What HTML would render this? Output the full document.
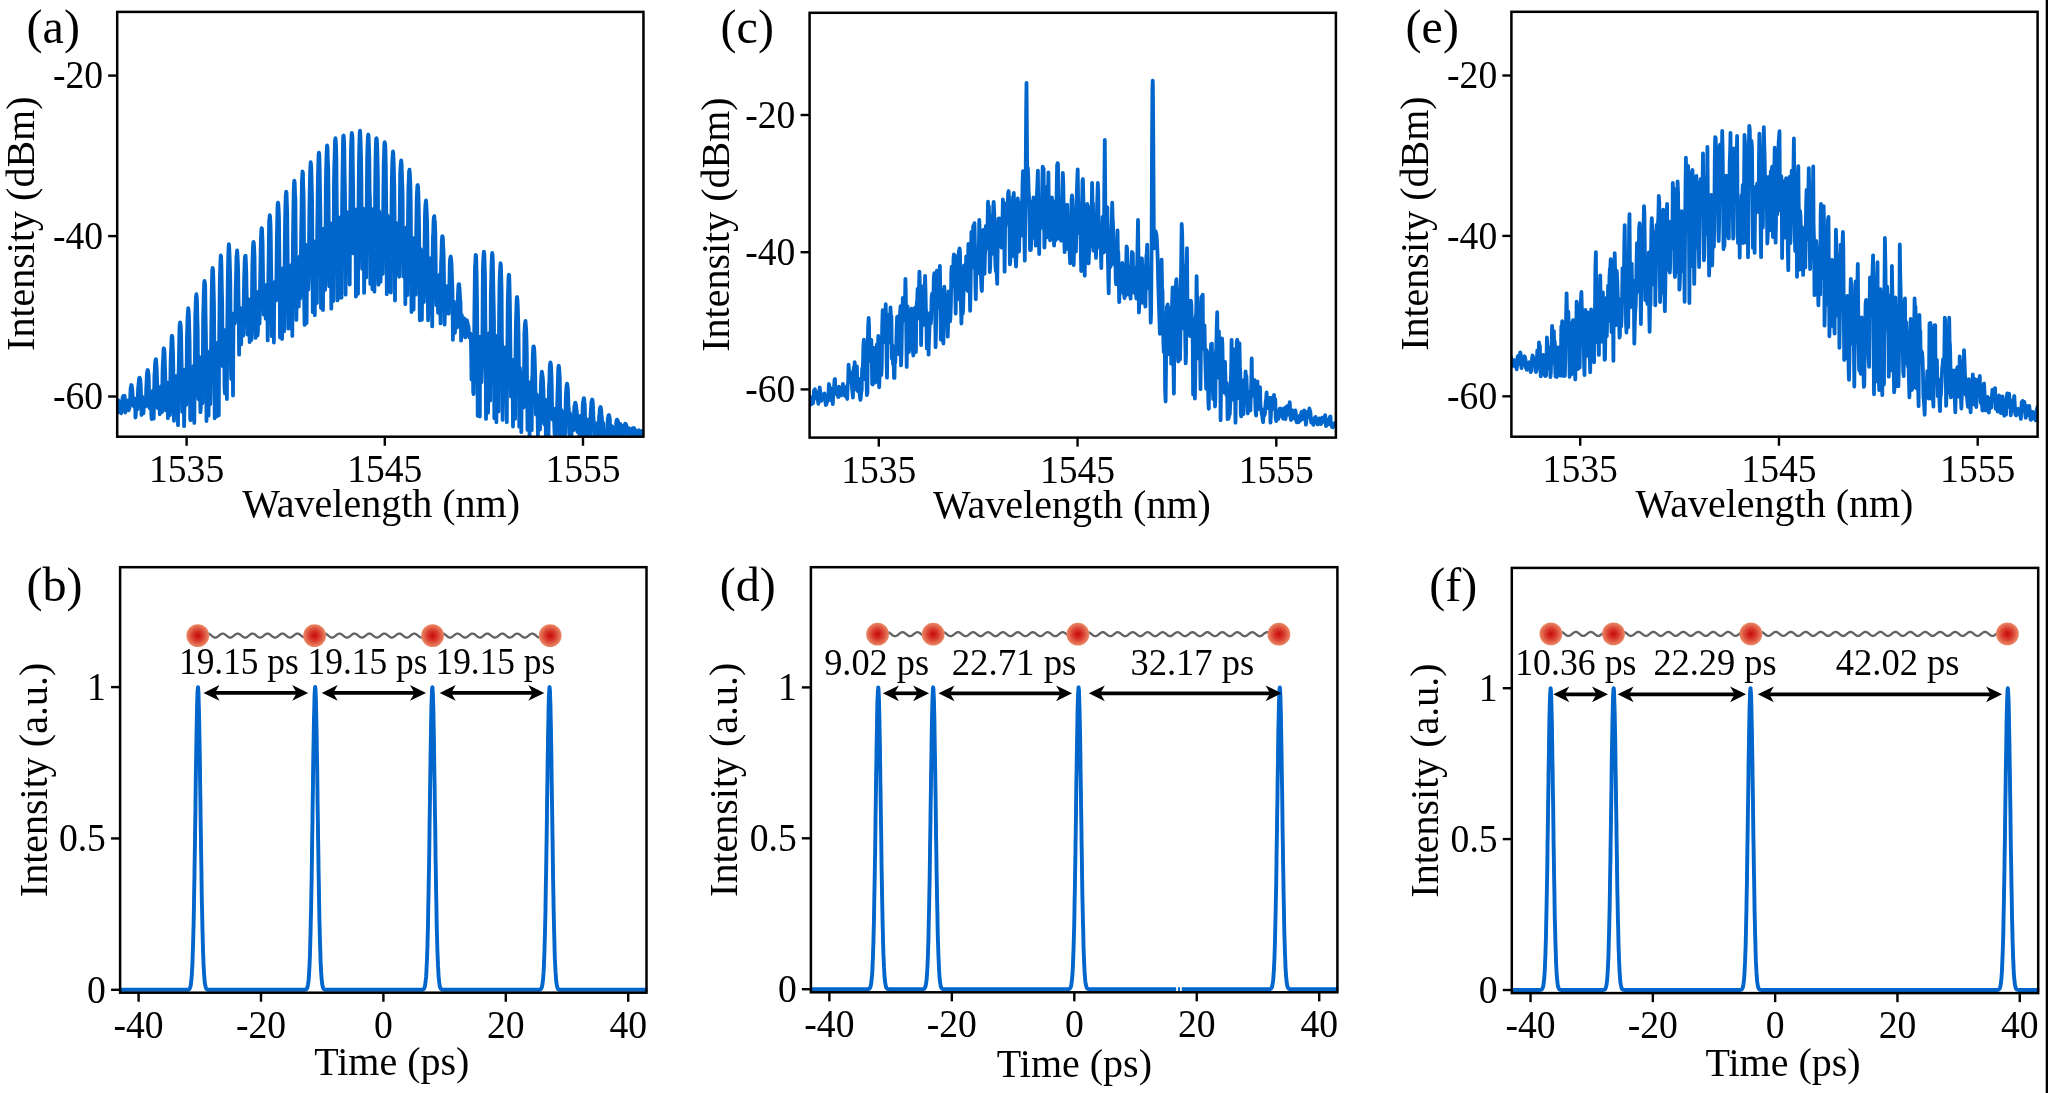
<!DOCTYPE html>
<html><head><meta charset="utf-8"><style>html,body{margin:0;padding:0;background:#fff;width:2048px;height:1093px;overflow:hidden}</style></head>
<body><svg width="2048" height="1093" viewBox="0 0 2048 1093" style="font-family:'Liberation Serif', serif;display:block;will-change:transform"><defs><radialGradient id="dotg" cx="0.5" cy="0.5" r="0.5"><stop offset="0" stop-color="#c40a0a"/><stop offset="0.45" stop-color="#d83a2a"/><stop offset="1" stop-color="#ea8a68"/></radialGradient></defs>
<clipPath id="clipa"><rect x="117.2" y="11.9" width="526.25" height="424.8"/></clipPath>
<path d="M107.1 406.9 107.4 406.8 107.8 406.6 108.1 406.3 108.4 406.7 108.8 407.2 109.1 405.4 109.4 401.8 109.8 405.0 110.1 399.9 110.5 403.4 110.8 404.9 111.1 412.3 111.5 409.6 111.8 408.7 112.1 399.3 112.5 400.7 112.8 400.2 113.1 403.3 113.5 401.5 113.8 405.6 114.2 405.3 114.5 405.4 114.8 405.5 115.2 405.4 115.5 405.2 115.8 405.0 116.2 404.8 116.5 401.2 116.9 401.2 117.2 412.7 117.5 405.6 117.9 405.8 118.2 402.9 118.5 400.4 118.9 403.8 119.2 412.0 119.6 405.9 119.9 404.5 120.2 410.6 120.6 409.2 120.9 408.8 121.2 413.4 121.6 408.3 121.9 401.2 122.3 400.4 122.6 397.8 122.9 396.8 123.3 396.1 123.6 396.3 123.9 396.7 124.3 397.2 124.6 395.8 125.0 409.9 125.3 412.5 125.6 404.7 126.0 403.3 126.3 400.7 126.6 407.9 127.0 400.3 127.3 405.8 127.7 404.3 128.0 405.2 128.3 409.4 128.7 410.3 129.0 403.8 129.3 408.8 129.7 404.5 130.0 402.2 130.4 392.8 130.7 387.9 131.0 386.7 131.4 385.0 131.7 385.3 132.0 387.9 132.4 391.1 132.7 397.1 133.1 400.8 133.4 406.2 133.7 404.5 134.1 399.2 134.4 398.2 134.8 407.3 135.1 399.4 135.4 417.5 135.8 415.5 136.1 403.1 136.4 404.5 136.8 403.6 137.1 407.4 137.5 409.3 137.8 397.4 138.1 388.7 138.5 384.7 138.8 381.4 139.1 378.5 139.5 377.7 139.8 378.2 140.2 379.1 140.5 382.0 140.8 387.7 141.2 398.0 141.5 415.0 141.8 405.4 142.2 400.8 142.5 402.5 142.9 397.1 143.2 404.5 143.5 413.4 143.9 400.8 144.2 399.8 144.6 404.0 144.9 400.8 145.2 404.4 145.6 406.3 145.9 405.4 146.2 389.1 146.6 381.7 146.9 373.8 147.3 371.3 147.6 370.0 147.9 370.2 148.3 372.9 148.6 375.2 148.9 383.4 149.3 407.2 149.6 408.2 150.0 401.3 150.3 405.0 150.6 397.1 151.0 394.9 151.3 414.8 151.7 419.1 152.0 412.7 152.3 401.0 152.7 391.0 153.0 401.4 153.3 397.9 153.7 418.7 154.0 402.9 154.4 375.8 154.7 372.8 155.0 364.8 155.4 361.2 155.7 359.2 156.0 359.2 156.4 364.8 156.7 369.2 157.1 380.9 157.4 392.0 157.7 408.0 158.1 406.9 158.4 395.6 158.8 390.7 159.1 397.0 159.4 395.5 159.8 414.3 160.1 405.8 160.4 391.4 160.8 388.3 161.1 386.1 161.5 408.3 161.8 407.7 162.1 412.1 162.5 373.0 162.8 364.5 163.2 357.6 163.5 349.6 163.8 348.3 164.2 349.2 164.5 352.1 164.8 361.9 165.2 372.4 165.5 390.2 165.9 410.4 166.2 401.6 166.5 386.0 166.9 382.5 167.2 387.6 167.6 401.2 167.9 418.2 168.2 392.1 168.6 388.0 168.9 387.9 169.2 382.4 169.6 403.8 169.9 415.0 170.3 382.8 170.6 362.5 170.9 354.4 171.3 345.8 171.6 337.2 172.0 335.8 172.3 336.7 172.6 342.2 173.0 352.2 173.3 367.2 173.6 405.9 174.0 420.8 174.3 390.5 174.7 381.2 175.0 376.0 175.3 386.7 175.7 414.5 176.0 406.9 176.4 398.0 176.7 396.5 177.0 379.3 177.4 382.8 177.7 379.3 178.0 425.2 178.4 375.5 178.7 370.6 179.1 348.6 179.4 330.2 179.7 324.6 180.1 322.3 180.4 323.5 180.8 327.0 181.1 334.0 181.4 352.5 181.8 374.1 182.1 411.8 182.5 384.4 182.8 382.1 183.1 369.7 183.5 379.3 183.8 403.2 184.1 426.2 184.5 405.3 184.8 376.3 185.2 369.4 185.5 371.9 185.8 393.4 186.2 405.0 186.5 393.6 186.9 338.9 187.2 330.2 187.5 317.8 187.9 312.5 188.2 308.2 188.6 310.5 188.9 315.4 189.2 327.3 189.6 342.2 189.9 377.7 190.2 418.8 190.6 420.2 190.9 366.8 191.3 369.0 191.6 371.1 191.9 374.6 192.3 415.7 192.6 386.2 193.0 382.7 193.3 372.7 193.6 365.9 194.0 370.0 194.3 422.9 194.7 375.3 195.0 346.4 195.3 315.3 195.7 303.5 196.0 296.7 196.4 294.2 196.7 296.4 197.0 301.0 197.4 320.3 197.7 329.3 198.0 373.6 198.4 398.5 198.7 399.3 199.1 356.6 199.4 358.8 199.7 371.3 200.1 393.6 200.4 412.2 200.8 407.9 201.1 364.6 201.4 360.5 201.8 357.5 202.1 376.3 202.5 403.2 202.8 372.9 203.1 319.2 203.5 305.4 203.8 292.2 204.2 282.4 204.5 280.9 204.8 282.3 205.2 286.0 205.5 311.5 205.9 333.5 206.2 362.3 206.5 421.1 206.9 377.9 207.2 356.1 207.5 357.3 207.9 359.4 208.2 381.0 208.6 415.7 208.9 371.7 209.2 367.1 209.6 352.9 209.9 351.0 210.3 404.0 210.6 390.9 210.9 358.0 211.3 326.7 211.6 300.7 212.0 279.9 212.3 269.8 212.6 267.8 213.0 269.5 213.3 277.0 213.7 292.7 214.0 305.7 214.3 345.8 214.7 418.3 215.0 353.9 215.4 351.0 215.7 346.7 216.0 363.6 216.4 377.0 216.7 416.4 217.1 357.8 217.4 354.7 217.7 342.7 218.1 347.0 218.4 391.1 218.8 415.3 219.1 347.2 219.4 319.7 219.8 281.5 220.1 271.0 220.5 260.1 220.8 255.5 221.1 256.4 221.5 268.4 221.8 287.6 222.2 304.1 222.5 355.7 222.8 366.3 223.2 357.3 223.5 332.1 223.8 334.6 224.2 344.3 224.5 386.1 224.9 393.5 225.2 371.5 225.5 335.7 225.9 329.7 226.2 333.3 226.6 337.9 226.9 399.1 227.2 332.8 227.6 298.6 227.9 270.8 228.3 254.4 228.6 246.8 228.9 244.1 229.3 249.5 229.6 256.3 230.0 269.4 230.3 281.7 230.6 335.3 231.0 371.7 231.3 379.3 231.7 323.3 232.0 313.3 232.3 322.4 232.7 337.8 233.0 395.5 233.4 327.4 233.7 319.0 234.0 315.8 234.4 318.9 234.7 323.7 235.1 321.5 235.4 311.9 235.7 289.0 236.1 274.1 236.4 257.9 236.8 253.3 237.1 250.4 237.4 253.6 237.8 261.4 238.1 268.8 238.5 297.0 238.8 319.2 239.1 354.7 239.5 322.3 239.8 307.8 240.2 307.9 240.5 321.6 240.8 333.8 241.2 344.4 241.5 318.5 241.9 319.2 242.2 314.6 242.5 309.5 242.9 325.1 243.2 335.7 243.6 312.1 243.9 290.8 244.2 276.8 244.6 264.7 244.9 257.1 245.3 255.8 245.6 255.7 246.0 264.5 246.3 273.3 246.6 290.8 247.0 305.7 247.3 334.6 247.7 322.4 248.0 305.9 248.3 299.1 248.7 315.4 249.0 313.4 249.4 328.8 249.7 342.1 250.0 313.1 250.4 302.7 250.7 302.0 251.1 313.8 251.4 339.9 251.7 325.0 252.1 287.6 252.4 264.5 252.8 251.2 253.1 245.0 253.4 241.9 253.8 243.0 254.1 247.0 254.5 255.8 254.8 279.9 255.1 305.4 255.5 337.9 255.8 316.7 256.2 297.7 256.5 293.8 256.8 305.2 257.2 320.8 257.5 335.5 257.9 332.1 258.2 297.1 258.5 291.7 258.9 302.9 259.2 324.2 259.6 323.1 259.9 295.2 260.2 278.5 260.6 256.0 260.9 238.5 261.3 230.7 261.6 228.1 262.0 228.9 262.3 236.2 262.6 242.5 263.0 275.1 263.3 299.2 263.7 314.7 264.0 307.5 264.3 296.8 264.7 290.8 265.0 297.6 265.4 306.0 265.7 318.6 266.0 311.2 266.4 305.5 266.7 284.7 267.1 295.9 267.4 309.9 267.7 340.4 268.1 302.1 268.4 274.1 268.8 248.6 269.1 222.0 269.4 218.4 269.8 215.1 270.1 216.9 270.5 224.4 270.8 237.5 271.2 273.8 271.5 286.8 271.8 336.2 272.2 295.0 272.5 287.6 272.9 282.7 273.2 291.3 273.5 297.2 273.9 342.5 274.2 301.3 274.6 286.7 274.9 288.2 275.2 281.7 275.6 291.8 275.9 300.7 276.3 288.0 276.6 260.3 276.9 236.2 277.3 216.8 277.6 204.2 278.0 202.7 278.3 204.2 278.7 210.1 279.0 218.8 279.3 250.1 279.7 288.8 280.0 337.6 280.4 291.5 280.7 275.3 281.0 275.6 281.4 279.4 281.7 331.8 282.1 339.1 282.4 304.3 282.7 285.4 283.1 268.2 283.4 277.8 283.8 292.7 284.1 331.4 284.4 302.5 284.8 245.3 285.1 219.4 285.5 202.7 285.8 194.9 286.2 191.6 286.5 192.7 286.8 201.0 287.2 213.9 287.5 245.2 287.9 277.9 288.2 328.7 288.5 292.4 288.9 268.9 289.2 268.6 289.6 270.5 289.9 293.8 290.2 328.1 290.6 310.2 290.9 268.5 291.3 267.6 291.6 264.8 292.0 280.8 292.3 335.9 292.6 284.8 293.0 236.7 293.3 215.1 293.7 192.1 294.0 183.5 294.3 180.6 294.7 182.3 295.0 192.8 295.4 199.2 295.7 238.9 296.1 279.5 296.4 319.9 296.7 290.3 297.1 270.5 297.4 263.2 297.8 263.7 298.1 278.0 298.4 299.4 298.8 306.7 299.1 260.6 299.5 261.3 299.8 256.1 300.1 298.7 300.5 296.1 300.8 262.2 301.2 230.3 301.5 213.7 301.9 182.3 302.2 176.7 302.5 171.4 302.9 172.8 303.2 185.7 303.6 195.4 303.9 223.6 304.2 302.6 304.6 324.9 304.9 266.8 305.3 253.5 305.6 244.7 306.0 248.7 306.3 270.3 306.6 323.0 307.0 268.3 307.3 249.8 307.7 252.9 308.0 244.8 308.3 289.7 308.7 279.4 309.0 245.4 309.4 208.3 309.7 191.7 310.1 173.0 310.4 166.5 310.7 162.2 311.1 165.0 311.4 172.3 311.8 189.3 312.1 201.2 312.4 252.2 312.8 312.2 313.1 290.3 313.5 254.6 313.8 241.1 314.2 242.8 314.5 290.6 314.8 315.2 315.2 276.1 315.5 247.4 315.9 246.0 316.2 244.2 316.5 269.1 316.9 303.0 317.2 231.5 317.6 203.7 317.9 179.3 318.3 163.8 318.6 154.6 318.9 152.6 319.3 154.9 319.6 166.0 320.0 189.3 320.3 207.2 320.7 247.1 321.0 308.1 321.3 252.8 321.7 235.1 322.0 234.3 322.4 240.1 322.7 280.6 323.0 310.1 323.4 265.1 323.7 237.0 324.1 228.3 324.4 235.1 324.8 273.9 325.1 290.0 325.4 278.9 325.8 187.1 326.1 170.8 326.5 155.8 326.8 149.0 327.1 145.4 327.5 147.4 327.8 159.3 328.2 167.1 328.5 191.7 328.9 239.3 329.2 286.3 329.5 256.8 329.9 230.0 330.2 223.1 330.6 232.2 330.9 244.5 331.3 308.7 331.6 276.4 331.9 230.8 332.3 227.5 332.6 227.3 333.0 255.9 333.3 301.0 333.7 238.0 334.0 180.6 334.3 166.2 334.7 152.8 335.0 140.9 335.4 138.2 335.7 139.7 336.0 145.0 336.4 158.2 336.7 199.2 337.1 221.1 337.4 300.4 337.8 240.4 338.1 220.2 338.4 217.2 338.8 229.0 339.1 237.2 339.5 297.8 339.8 265.4 340.2 225.7 340.5 223.1 340.8 218.8 341.2 235.4 341.5 297.7 341.9 225.6 342.2 197.2 342.6 167.5 342.9 147.9 343.2 136.0 343.6 135.6 343.9 137.9 344.3 148.4 344.6 172.5 344.9 188.1 345.3 228.5 345.6 294.7 346.0 243.3 346.3 221.5 346.7 219.7 347.0 236.6 347.3 257.1 347.7 260.4 348.0 243.0 348.4 223.4 348.7 212.0 349.1 218.5 349.4 251.4 349.7 284.6 350.1 218.8 350.4 198.7 350.8 157.8 351.1 146.2 351.5 136.0 351.8 132.9 352.1 134.9 352.5 138.2 352.8 164.8 353.2 191.9 353.5 253.4 353.9 245.6 354.2 246.6 354.5 217.1 354.9 209.1 355.2 224.1 355.6 233.8 355.9 296.7 356.3 290.7 356.6 223.8 356.9 214.9 357.3 218.4 357.6 247.3 358.0 293.8 358.3 234.4 358.7 188.0 359.0 159.6 359.3 146.5 359.7 132.9 360.0 130.7 360.4 136.2 360.7 145.4 361.1 160.1 361.4 181.9 361.7 241.7 362.1 268.8 362.4 254.8 362.8 221.4 363.1 208.3 363.5 212.9 363.8 233.1 364.1 292.9 364.5 267.0 364.8 214.8 365.2 214.6 365.5 212.2 365.9 245.0 366.2 277.4 366.5 231.1 366.9 187.0 367.2 155.2 367.6 143.8 367.9 136.4 368.3 134.5 368.6 136.1 368.9 145.3 369.3 157.7 369.6 191.3 370.0 200.6 370.3 283.9 370.7 257.4 371.0 218.2 371.3 217.8 371.7 220.1 372.0 236.1 372.4 289.2 372.7 250.7 373.1 228.3 373.4 208.9 373.7 213.1 374.1 222.6 374.4 291.7 374.8 267.8 375.1 192.8 375.5 160.9 375.8 147.4 376.1 138.9 376.5 138.2 376.8 139.3 377.2 147.0 377.5 159.5 377.9 178.9 378.2 244.8 378.5 284.7 378.9 246.9 379.2 211.1 379.6 218.3 379.9 228.2 380.3 245.6 380.6 281.8 381.0 240.5 381.3 225.3 381.6 216.0 382.0 221.4 382.3 253.3 382.7 273.8 383.0 229.5 383.4 189.6 383.7 164.9 384.0 155.7 384.4 142.9 384.7 142.2 385.1 143.7 385.4 149.1 385.8 166.0 386.1 194.3 386.4 226.1 386.8 294.2 387.1 238.8 387.5 215.3 387.8 220.8 388.2 231.0 388.5 279.7 388.8 291.1 389.2 251.9 389.5 237.7 389.9 216.8 390.2 230.1 390.6 230.5 390.9 292.6 391.3 235.8 391.6 199.5 391.9 177.7 392.3 161.5 392.6 156.3 393.0 151.5 393.3 153.5 393.7 162.1 394.0 174.8 394.3 187.2 394.7 230.6 395.0 300.5 395.4 248.1 395.7 223.5 396.1 222.9 396.4 240.2 396.7 271.8 397.1 271.3 397.4 274.4 397.8 229.9 398.1 226.5 398.5 235.5 398.8 246.8 399.2 276.8 399.5 241.7 399.8 208.7 400.2 173.2 400.5 167.4 400.9 162.9 401.2 160.5 401.6 163.4 401.9 173.7 402.2 182.0 402.6 195.4 402.9 242.3 403.3 276.4 403.6 263.7 404.0 234.9 404.3 232.0 404.7 246.3 405.0 264.3 405.3 304.2 405.7 255.4 406.0 237.3 406.4 227.5 406.7 230.7 407.1 272.6 407.4 295.0 407.7 244.7 408.1 210.5 408.4 187.4 408.8 178.9 409.1 171.1 409.5 169.7 409.8 172.6 410.2 179.7 410.5 188.9 410.8 209.1 411.2 272.7 411.5 312.1 411.9 260.1 412.2 243.0 412.6 237.9 412.9 255.0 413.3 272.6 413.6 309.6 413.9 256.0 414.3 250.3 414.6 243.2 415.0 253.2 415.3 276.9 415.7 294.7 416.0 243.6 416.3 226.2 416.7 199.8 417.0 192.3 417.4 185.3 417.7 185.1 418.1 187.1 418.4 195.3 418.8 209.6 419.1 232.4 419.4 263.3 419.8 320.3 420.1 302.6 420.5 248.8 420.8 251.2 421.2 261.6 421.5 295.2 421.9 319.8 422.2 278.3 422.5 269.1 422.9 255.5 423.2 257.3 423.6 271.2 423.9 302.0 424.3 271.8 424.6 240.9 425.0 213.3 425.3 207.2 425.6 203.0 426.0 200.5 426.3 203.9 426.7 211.9 427.0 219.3 427.4 240.5 427.7 283.7 428.1 320.3 428.4 283.6 428.7 261.7 429.1 258.0 429.4 264.1 429.8 279.0 430.1 313.9 430.5 283.4 430.8 276.6 431.2 267.8 431.5 272.5 431.8 285.0 432.2 326.4 432.5 268.2 432.9 237.0 433.2 233.7 433.6 220.3 433.9 217.2 434.3 216.1 434.6 220.0 434.9 221.5 435.3 232.3 435.6 254.2 436.0 292.6 436.3 305.3 436.7 289.7 437.0 275.6 437.4 278.7 437.7 284.4 438.0 312.8 438.4 311.1 438.7 306.5 439.1 286.6 439.4 278.5 439.8 274.5 440.1 291.4 440.5 323.4 440.8 282.8 441.1 263.0 441.5 253.4 441.8 240.8 442.2 236.4 442.5 236.2 442.9 238.3 443.2 245.7 443.6 253.3 443.9 271.2 444.2 291.8 444.6 324.7 444.9 314.6 445.3 290.0 445.6 290.5 446.0 291.4 446.3 313.3 446.7 308.9 447.0 311.4 447.3 295.5 447.7 286.0 448.0 296.9 448.4 301.0 448.7 313.7 449.1 293.5 449.4 283.6 449.8 263.2 450.1 259.0 450.5 257.3 450.8 256.5 451.1 259.0 451.5 263.9 451.8 272.4 452.2 283.6 452.5 292.5 452.9 339.8 453.2 314.6 453.6 303.2 453.9 301.5 454.2 311.3 454.6 321.0 454.9 332.9 455.3 324.8 455.6 318.0 456.0 309.0 456.3 311.4 456.7 320.6 457.0 327.7 457.3 319.2 457.7 304.7 458.0 294.0 458.4 285.9 458.7 284.2 459.1 284.2 459.4 286.8 459.8 293.1 460.1 298.3 460.5 302.6 460.8 320.0 461.1 340.6 461.5 328.7 461.8 314.9 462.2 325.1 462.5 320.8 462.9 333.7 463.2 335.4 463.6 328.2 463.9 320.0 464.2 318.4 464.6 330.0 464.9 326.2 465.3 337.4 465.6 324.0 466.0 326.6 466.3 320.8 466.7 320.2 467.0 320.7 467.4 322.1 467.7 323.7 468.0 324.8 468.4 326.1 468.7 328.3 469.1 336.4 469.4 337.5 469.8 336.7 470.1 333.9 470.5 333.7 470.8 335.0 471.2 355.0 471.5 379.5 471.8 370.0 472.2 364.7 472.5 350.0 472.9 359.3 473.2 391.9 473.6 394.1 473.9 371.1 474.3 319.6 474.6 296.5 475.0 266.4 475.3 263.8 475.6 254.9 476.0 255.1 476.3 261.7 476.7 279.2 477.0 301.1 477.4 345.5 477.7 415.8 478.1 400.7 478.4 341.5 478.8 336.7 479.1 344.4 479.4 370.0 479.8 416.6 480.1 354.9 480.5 342.7 480.8 336.4 481.2 342.1 481.5 382.1 481.9 368.2 482.2 365.0 482.6 309.2 482.9 268.4 483.2 260.9 483.6 254.0 483.9 251.6 484.3 253.7 484.6 262.6 485.0 276.6 485.3 316.3 485.7 348.9 486.0 418.9 486.4 395.3 486.7 340.0 487.0 335.6 487.4 345.2 487.7 357.8 488.1 412.7 488.4 372.8 488.8 340.3 489.1 333.1 489.5 335.5 489.8 367.7 490.2 400.6 490.5 368.4 490.8 296.1 491.2 279.7 491.5 266.3 491.9 256.2 492.2 252.9 492.6 255.8 492.9 262.4 493.3 286.5 493.6 300.9 494.0 321.0 494.3 418.2 494.7 362.1 495.0 342.0 495.3 335.5 495.7 361.0 496.0 355.7 496.4 422.2 496.7 354.0 497.1 346.6 497.4 338.9 497.8 353.2 498.1 365.8 498.5 411.6 498.8 360.1 499.1 313.5 499.5 285.8 499.8 275.3 500.2 267.0 500.5 263.2 500.9 265.2 501.2 275.1 501.6 291.7 501.9 338.2 502.3 354.4 502.6 419.9 503.0 375.8 503.3 356.0 503.6 355.1 504.0 351.9 504.3 387.1 504.7 382.4 505.0 377.6 505.4 353.0 505.7 347.1 506.1 359.6 506.4 385.3 506.8 422.2 507.1 360.7 507.5 334.7 507.8 300.5 508.1 290.1 508.5 278.1 508.8 274.6 509.2 275.3 509.5 285.3 509.9 303.2 510.2 330.1 510.6 366.1 510.9 396.6 511.3 364.3 511.6 367.7 512.0 359.9 512.3 368.0 512.6 384.8 513.0 426.6 513.3 398.1 513.7 370.7 514.0 359.7 514.4 360.1 514.7 388.2 515.1 418.8 515.4 367.5 515.8 330.2 516.1 317.9 516.5 305.0 516.8 297.3 517.1 297.1 517.5 300.4 517.8 307.1 518.2 320.8 518.5 334.2 518.9 366.0 519.2 426.7 519.6 395.5 519.9 368.0 520.3 373.8 520.6 373.5 521.0 401.2 521.3 432.2 521.7 395.0 522.0 376.0 522.3 373.4 522.7 376.2 523.0 384.3 523.4 407.6 523.7 398.0 524.1 365.0 524.4 333.1 524.8 326.5 525.1 323.5 525.5 320.8 525.8 325.1 526.2 330.0 526.5 340.3 526.8 353.5 527.2 400.0 527.5 429.9 527.9 397.4 528.2 386.0 528.6 390.5 528.9 402.7 529.3 427.4 529.6 435.9 530.0 413.4 530.3 394.4 530.7 381.8 531.0 388.2 531.4 400.8 531.7 430.2 532.0 381.2 532.4 374.5 532.7 358.0 533.1 349.4 533.4 346.3 533.8 346.6 534.1 347.9 534.5 353.8 534.8 362.8 535.2 375.4 535.5 397.3 535.9 414.5 536.2 408.4 536.6 394.1 536.9 395.9 537.2 398.4 537.6 415.0 537.9 435.4 538.3 411.6 538.6 404.3 539.0 400.0 539.3 405.6 539.7 402.1 540.0 429.6 540.4 398.0 540.7 394.3 541.1 379.4 541.4 374.9 541.8 371.6 542.1 372.6 542.5 375.5 542.8 377.8 543.1 383.2 543.5 391.0 543.8 422.2 544.2 423.9 544.5 424.4 544.9 410.8 545.2 399.4 545.6 416.4 545.9 437.4 546.3 440.4 546.6 423.5 547.0 411.6 547.3 404.8 547.7 406.9 548.0 420.5 548.4 440.1 548.7 420.8 549.0 385.9 549.4 380.3 549.7 367.6 550.1 363.8 550.4 362.4 550.8 364.0 551.1 367.5 551.5 376.2 551.8 388.6 552.2 417.8 552.5 419.5 552.9 418.7 553.2 415.9 553.6 414.7 553.9 413.0 554.3 426.6 554.6 434.4 554.9 423.2 555.3 414.5 555.6 408.4 556.0 411.9 556.3 421.2 556.7 437.9 557.0 414.2 557.4 396.6 557.7 388.4 558.1 372.8 558.4 366.8 558.8 365.8 559.1 367.6 559.5 372.8 559.8 378.3 560.2 408.9 560.5 433.1 560.8 438.7 561.2 428.8 561.5 410.2 561.9 418.1 562.2 420.6 562.6 417.9 562.9 440.9 563.3 417.5 563.6 421.8 564.0 416.6 564.3 412.6 564.7 422.1 565.0 435.7 565.4 418.6 565.7 401.1 566.1 391.7 566.4 387.6 566.8 384.7 567.1 383.6 567.4 385.1 567.8 388.2 568.1 393.9 568.5 406.8 568.8 408.6 569.2 433.3 569.5 434.4 569.9 412.9 570.2 419.0 570.6 418.8 570.9 427.3 571.3 446.9 571.6 427.5 572.0 419.8 572.3 420.2 572.7 415.9 573.0 424.7 573.4 427.7 573.7 430.2 574.1 410.6 574.4 406.3 574.7 404.7 575.1 402.9 575.4 402.8 575.8 404.3 576.1 405.5 576.5 409.6 576.8 410.9 577.2 419.8 577.5 431.9 577.9 423.8 578.2 423.8 578.6 416.4 578.9 422.7 579.3 432.8 579.6 437.4 580.0 436.7 580.3 415.9 580.7 422.8 581.0 424.8 581.4 431.8 581.7 440.8 582.1 423.6 582.4 415.8 582.7 405.3 583.1 402.1 583.4 400.1 583.8 398.1 584.1 398.6 584.5 402.5 584.8 404.3 585.2 423.5 585.5 436.0 585.9 443.2 586.2 425.6 586.6 425.2 586.9 419.4 587.3 426.6 587.6 426.6 588.0 437.4 588.3 437.4 588.7 427.9 589.0 423.4 589.4 424.9 589.7 433.9 590.1 444.8 590.4 417.6 590.7 412.0 591.1 407.8 591.4 401.9 591.8 400.8 592.1 399.5 592.5 399.9 592.8 403.2 593.2 410.5 593.5 419.5 593.9 421.9 594.2 435.3 594.6 433.5 594.9 425.0 595.3 430.6 595.6 430.6 596.0 428.3 596.3 439.2 596.7 430.1 597.0 430.2 597.4 430.2 597.7 422.8 598.1 435.3 598.4 445.3 598.8 435.6 599.1 415.9 599.5 414.7 599.8 409.3 600.1 407.8 600.5 406.9 600.8 407.6 601.2 410.2 601.5 414.5 601.9 417.7 602.2 426.0 602.6 443.6 602.9 428.2 603.3 423.0 603.6 429.6 604.0 433.5 604.3 432.2 604.7 440.8 605.0 434.5 605.4 434.7 605.7 434.8 606.1 434.6 606.4 444.6 606.8 440.6 607.1 437.0 607.5 427.3 607.8 418.4 608.2 416.9 608.5 415.2 608.9 414.9 609.2 415.7 609.6 417.9 609.9 420.0 610.2 432.2 610.6 432.5 610.9 442.4 611.3 440.3 611.6 429.3 612.0 426.1 612.3 427.8 612.7 434.4 613.0 445.9 613.4 443.4 613.7 437.7 614.1 428.9 614.4 428.2 614.8 437.0 615.1 450.3 615.5 435.6 615.8 430.9 616.2 422.3 616.5 420.6 616.9 419.6 617.2 419.7 617.6 420.2 617.9 421.2 618.3 423.2 618.6 430.3 619.0 434.6 619.3 441.1 619.7 436.0 620.0 434.0 620.4 424.0 620.7 426.8 621.1 438.2 621.4 437.3 621.8 434.0 622.1 435.7 622.4 431.4 622.8 434.8 623.1 433.0 623.5 444.1 623.8 425.4 624.2 426.3 624.5 426.3 624.9 424.2 625.2 423.7 625.6 423.8 625.9 424.3 626.3 425.5 626.6 426.3 627.0 427.8 627.3 433.7 627.7 434.4 628.0 442.7 628.4 428.0 628.7 434.5 629.1 431.6 629.4 437.4 629.8 442.5 630.1 433.6 630.5 430.7 630.8 437.4 631.2 437.9 631.5 428.7 631.9 447.8 632.2 439.7 632.6 433.5 632.9 428.4 633.3 428.7 633.6 428.0 634.0 428.1 634.3 428.4 634.7 429.2 635.0 429.6 635.4 437.1 635.7 438.9 636.1 438.4 636.4 440.5 636.8 432.8 637.1 436.9 637.5 441.1 637.8 432.3 638.1 449.4 638.5 443.0 638.8 430.1 639.2 436.9 639.5 437.6 639.9 431.0 640.2 448.5 640.6 431.8 640.9 432.3 641.3 432.0 641.6 431.3 642.0 430.8 642.3 430.9 642.7 431.2 643.0 431.6 643.4 432.2 643.7 438.2 644.1 440.3 644.4 445.8 644.8 436.0 645.1 432.7 645.5 432.1 645.8 432.3 646.2 441.4 646.5 445.3 646.9 446.1 647.2 437.3 647.6 430.3 647.9 437.1 648.3 436.2 648.6 439.3" fill="none" stroke="#0066cc" stroke-width="3.8" stroke-linejoin="round" stroke-linecap="round" clip-path="url(#clipa)"/>
<rect x="117.2" y="11.9" width="526.25" height="424.8" fill="none" stroke="#000" stroke-width="2.5" stroke-linejoin="miter"/>
<line x1="186.6" y1="436.7" x2="186.6" y2="445.75" stroke="#000" stroke-width="2.4"/>
<text x="186.6" y="481.7" font-size="40" text-anchor="middle" textLength="75.2" lengthAdjust="spacingAndGlyphs">1535</text>
<line x1="384.8" y1="436.7" x2="384.8" y2="445.75" stroke="#000" stroke-width="2.4"/>
<text x="384.8" y="481.7" font-size="40" text-anchor="middle" textLength="75.2" lengthAdjust="spacingAndGlyphs">1545</text>
<line x1="583" y1="436.7" x2="583" y2="445.75" stroke="#000" stroke-width="2.4"/>
<text x="583" y="481.7" font-size="40" text-anchor="middle" textLength="75.2" lengthAdjust="spacingAndGlyphs">1555</text>
<line x1="108.15" y1="75.6" x2="117.2" y2="75.6" stroke="#000" stroke-width="2.4"/>
<text x="103" y="88.4" font-size="40" text-anchor="end" textLength="50.12" lengthAdjust="spacingAndGlyphs">-20</text>
<line x1="108.15" y1="236.1" x2="117.2" y2="236.1" stroke="#000" stroke-width="2.4"/>
<text x="103" y="248.9" font-size="40" text-anchor="end" textLength="50.12" lengthAdjust="spacingAndGlyphs">-40</text>
<line x1="108.15" y1="396.5" x2="117.2" y2="396.5" stroke="#000" stroke-width="2.4"/>
<text x="103" y="409.3" font-size="40" text-anchor="end" textLength="50.12" lengthAdjust="spacingAndGlyphs">-60</text>
<text x="381.13" y="516.6" font-size="40" text-anchor="middle">Wavelength (nm)</text>
<text x="0" y="0" font-size="40" text-anchor="middle" transform="translate(34.2 223.7) rotate(-90)">Intensity (dBm)</text>
<clipPath id="clipc"><rect x="809.6" y="12.8" width="526.3" height="424.8"/></clipPath>
<path d="M805.3 400.1 805.7 398.0 806.1 399.6 806.6 404.3 807.0 405.1 807.4 401.1 807.9 403.0 808.3 401.7 808.8 396.1 809.2 396.0 809.6 396.6 810.1 396.9 810.5 398.9 810.9 404.0 811.4 404.3 811.8 399.1 812.3 399.0 812.7 401.8 813.1 403.2 813.6 399.3 814.0 390.6 814.4 392.6 814.9 389.2 815.3 391.7 815.8 396.5 816.2 397.6 816.6 398.2 817.1 392.2 817.5 392.1 817.9 400.3 818.4 403.8 818.8 401.3 819.3 397.0 819.7 387.3 820.1 391.0 820.6 395.7 821.0 396.4 821.4 400.8 821.9 394.5 822.3 397.2 822.8 398.5 823.2 398.8 823.6 398.9 824.1 397.4 824.5 393.5 824.9 395.8 825.4 400.7 825.8 405.0 826.3 404.6 826.7 399.3 827.1 402.3 827.6 400.6 828.0 400.0 828.4 395.3 828.9 384.0 829.3 385.6 829.7 390.6 830.2 395.5 830.6 400.2 831.1 397.4 831.5 395.4 831.9 388.4 832.4 396.2 832.8 404.2 833.2 394.2 833.7 390.0 834.1 386.2 834.6 379.3 835.0 379.1 835.4 393.8 835.9 388.9 836.3 391.5 836.7 389.5 837.2 391.1 837.6 393.4 838.1 396.9 838.5 397.0 838.9 386.6 839.4 389.5 839.8 389.4 840.2 394.4 840.7 394.1 841.1 394.6 841.6 395.3 842.0 391.5 842.4 391.1 842.9 383.8 843.3 389.6 843.7 388.3 844.2 386.7 844.6 394.4 845.1 396.0 845.5 394.5 845.9 390.1 846.4 387.2 846.8 392.3 847.2 399.0 847.7 384.9 848.1 382.2 848.6 364.6 849.0 371.7 849.4 370.8 849.9 374.3 850.3 377.0 850.7 372.5 851.2 379.4 851.6 374.4 852.0 387.8 852.5 392.3 852.9 397.6 853.4 380.3 853.8 367.4 854.2 372.5 854.7 362.2 855.1 379.0 855.5 389.3 856.0 375.2 856.4 377.4 856.9 366.3 857.3 381.6 857.7 391.1 858.2 390.4 858.6 379.5 859.0 378.9 859.5 392.1 859.9 396.7 860.4 399.9 860.8 397.3 861.2 392.6 861.7 390.1 862.1 368.7 862.5 373.3 863.0 362.3 863.4 345.1 863.9 339.7 864.3 357.8 864.7 373.2 865.2 379.4 865.6 346.3 866.0 349.3 866.5 378.6 866.9 395.1 867.4 392.7 867.8 342.3 868.2 325.3 868.7 318.0 869.1 328.4 869.5 361.2 870.0 349.4 870.4 353.4 870.8 346.8 871.3 340.0 871.7 352.9 872.2 384.3 872.6 384.6 873.0 361.1 873.5 359.2 873.9 347.9 874.3 368.7 874.8 375.5 875.2 382.7 875.7 352.3 876.1 355.4 876.5 348.7 877.0 344.1 877.4 346.9 877.8 354.1 878.3 335.8 878.7 376.9 879.2 387.3 879.6 374.9 880.0 372.8 880.5 363.9 880.9 353.0 881.3 375.2 881.8 365.8 882.2 325.6 882.7 310.1 883.1 320.3 883.5 315.5 884.0 342.1 884.4 335.5 884.8 334.3 885.3 329.6 885.7 304.1 886.2 326.8 886.6 358.1 887.0 377.7 887.5 334.0 887.9 323.5 888.3 314.8 888.8 341.8 889.2 342.2 889.7 335.4 890.1 323.1 890.5 307.4 891.0 317.7 891.4 316.1 891.8 358.6 892.3 345.1 892.7 357.7 893.1 364.5 893.6 357.0 894.0 377.9 894.5 378.0 894.9 349.3 895.3 362.7 895.8 346.2 896.2 347.6 896.6 330.4 897.1 316.8 897.5 323.5 898.0 316.3 898.4 320.4 898.8 354.0 899.3 347.3 899.7 329.3 900.1 311.6 900.6 306.1 901.0 365.4 901.5 353.3 901.9 327.2 902.3 316.0 902.8 297.9 903.2 311.0 903.6 308.6 904.1 320.2 904.5 313.9 905.0 301.8 905.4 278.9 905.8 294.4 906.3 333.2 906.7 366.9 907.1 335.4 907.6 306.4 908.0 332.6 908.5 340.0 908.9 352.2 909.3 344.2 909.8 338.2 910.2 326.8 910.6 318.4 911.1 316.5 911.5 308.7 912.0 315.1 912.4 338.6 912.8 349.7 913.3 355.5 913.7 337.1 914.1 313.8 914.6 321.7 915.0 307.6 915.4 324.0 915.9 352.0 916.3 313.8 916.8 302.9 917.2 300.0 917.6 288.9 918.1 318.7 918.5 308.2 918.9 290.8 919.4 271.6 919.8 282.6 920.3 302.8 920.7 302.8 921.1 345.1 921.6 316.1 922.0 300.0 922.4 286.5 922.9 301.8 923.3 323.3 923.8 324.7 924.2 294.8 924.6 292.3 925.1 275.8 925.5 289.8 925.9 310.5 926.4 315.6 926.8 348.4 927.3 332.2 927.7 344.5 928.1 334.7 928.6 354.6 929.0 340.1 929.4 331.0 929.9 312.8 930.3 319.1 930.8 323.6 931.2 317.3 931.6 298.1 932.1 293.6 932.5 307.4 932.9 307.5 933.4 298.1 933.8 278.5 934.3 273.2 934.7 287.9 935.1 306.8 935.6 347.2 936.0 330.3 936.4 310.3 936.9 270.7 937.3 289.1 937.7 307.6 938.2 302.4 938.6 282.2 939.1 275.0 939.5 270.6 939.9 266.0 940.4 301.5 940.8 339.5 941.2 339.7 941.7 312.3 942.1 289.8 942.6 308.2 943.0 313.6 943.4 343.5 943.9 321.8 944.3 286.6 944.7 291.5 945.2 299.2 945.6 305.7 946.1 305.3 946.5 312.0 946.9 313.2 947.4 318.5 947.8 336.7 948.2 319.8 948.7 291.4 949.1 305.4 949.6 301.0 950.0 321.4 950.4 318.2 950.9 304.8 951.3 272.4 951.7 266.7 952.2 270.9 952.6 274.7 953.1 286.7 953.5 258.4 953.9 254.3 954.4 262.3 954.8 255.3 955.2 291.0 955.7 313.6 956.1 281.1 956.6 258.4 957.0 280.2 957.4 294.3 957.9 299.0 958.3 281.4 958.7 252.7 959.2 250.1 959.6 248.5 960.0 252.8 960.5 297.0 960.9 304.3 961.4 323.5 961.8 309.1 962.2 299.7 962.7 313.7 963.1 310.0 963.5 292.7 964.0 265.5 964.4 280.3 964.9 289.3 965.3 281.1 965.7 282.9 966.2 256.4 966.6 282.8 967.0 268.5 967.5 290.8 967.9 269.0 968.4 243.8 968.8 247.7 969.2 254.1 969.7 286.0 970.1 310.8 970.5 292.1 971.0 261.8 971.4 231.9 971.9 256.3 972.3 267.8 972.7 251.5 973.2 225.8 973.6 230.5 974.0 225.0 974.5 223.2 974.9 244.0 975.4 285.6 975.8 299.1 976.2 274.2 976.7 250.3 977.1 261.3 977.5 273.7 978.0 263.3 978.4 251.1 978.9 245.7 979.3 219.8 979.7 232.5 980.2 248.8 980.6 257.9 981.0 276.8 981.5 288.9 981.9 291.0 982.3 276.8 982.8 248.4 983.2 229.8 983.7 231.4 984.1 255.6 984.5 273.9 985.0 253.3 985.4 249.8 985.8 226.0 986.3 248.6 986.7 247.5 987.2 248.0 987.6 221.6 988.0 201.7 988.5 216.8 988.9 206.4 989.3 224.0 989.8 272.1 990.2 266.3 990.7 243.0 991.1 216.6 991.5 242.5 992.0 244.7 992.4 253.9 992.8 223.7 993.3 206.2 993.7 202.0 994.2 211.5 994.6 221.5 995.0 251.9 995.5 266.0 995.9 271.4 996.3 262.0 996.8 275.3 997.2 283.9 997.7 243.9 998.1 244.5 998.5 218.6 999.0 226.4 999.4 218.3 999.8 246.0 1000.3 221.1 1000.7 227.5 1001.2 242.3 1001.6 247.5 1002.0 232.4 1002.5 219.1 1002.9 199.5 1003.3 210.1 1003.8 227.5 1004.2 233.2 1004.6 271.7 1005.1 226.9 1005.5 225.9 1006.0 203.5 1006.4 206.6 1006.8 217.3 1007.3 202.2 1007.7 205.6 1008.1 193.7 1008.6 191.0 1009.0 197.4 1009.5 230.2 1009.9 264.3 1010.3 262.0 1010.8 213.5 1011.2 228.7 1011.6 234.4 1012.1 256.2 1012.5 222.4 1013.0 197.1 1013.4 198.0 1013.8 193.0 1014.3 216.2 1014.7 227.2 1015.1 248.0 1015.6 259.6 1016.0 266.7 1016.5 255.2 1016.9 242.0 1017.3 224.0 1017.8 198.5 1018.2 224.0 1018.6 234.9 1019.1 251.5 1019.5 227.7 1020.0 217.8 1020.4 206.5 1020.8 202.5 1021.3 235.5 1021.7 208.7 1022.1 207.4 1022.6 182.0 1023.0 171.1 1023.5 172.9 1023.9 208.8 1024.3 234.9 1024.8 260.6 1025.2 225.7 1025.6 187.5 1026.1 116.5 1026.5 82.9 1026.5 83.1 1026.9 131.8 1027.4 202.2 1027.8 167.6 1028.3 178.1 1028.7 192.1 1029.1 197.5 1029.6 223.6 1030.0 250.0 1030.4 239.1 1030.9 250.0 1031.3 238.6 1031.8 238.8 1032.2 229.2 1032.6 201.3 1033.1 206.7 1033.5 197.4 1033.9 224.5 1034.4 208.7 1034.8 227.1 1035.3 217.9 1035.7 245.6 1036.1 240.2 1036.6 210.6 1037.0 192.7 1037.4 182.7 1037.9 170.6 1038.3 209.1 1038.8 233.9 1039.2 254.0 1039.6 215.9 1040.1 204.3 1040.5 212.4 1040.9 227.9 1041.4 224.7 1041.8 205.2 1042.3 182.6 1042.7 166.6 1043.1 176.8 1043.6 168.6 1044.0 211.3 1044.4 247.6 1044.9 236.8 1045.3 202.1 1045.7 225.0 1046.2 237.4 1046.6 237.3 1047.1 226.1 1047.5 186.1 1047.9 198.7 1048.4 172.4 1048.8 203.1 1049.2 224.2 1049.7 231.6 1050.1 240.3 1050.6 238.6 1051.0 236.1 1051.4 215.1 1051.9 197.3 1052.3 201.2 1052.7 213.1 1053.2 201.1 1053.6 233.2 1054.1 245.7 1054.5 226.2 1054.9 232.0 1055.4 236.2 1055.8 240.1 1056.2 219.8 1056.7 189.9 1057.1 165.3 1057.6 163.2 1058.0 163.9 1058.4 190.7 1058.9 217.6 1059.3 238.7 1059.7 231.7 1060.2 222.2 1060.6 205.6 1061.1 240.7 1061.5 220.1 1061.9 202.4 1062.4 196.8 1062.8 172.8 1063.2 180.6 1063.7 207.7 1064.1 228.5 1064.6 252.2 1065.0 242.1 1065.4 222.6 1065.9 244.8 1066.3 249.0 1066.7 234.4 1067.2 204.7 1067.6 219.6 1068.0 219.4 1068.5 223.2 1068.9 233.8 1069.4 246.5 1069.8 257.0 1070.2 263.3 1070.7 261.7 1071.1 228.0 1071.5 200.5 1072.0 195.4 1072.4 198.8 1072.9 210.0 1073.3 227.4 1073.7 265.0 1074.2 243.9 1074.6 209.5 1075.0 209.8 1075.5 235.4 1075.9 251.7 1076.4 230.0 1076.8 192.9 1077.2 181.4 1077.7 169.3 1078.1 196.5 1078.5 212.3 1079.0 226.5 1079.4 233.3 1079.9 220.9 1080.3 207.2 1080.7 245.5 1081.2 271.0 1081.6 236.6 1082.0 208.6 1082.5 180.9 1082.9 179.0 1083.4 200.0 1083.8 214.3 1084.2 242.3 1084.7 275.6 1085.1 252.2 1085.5 253.3 1086.0 243.0 1086.4 237.6 1086.9 232.9 1087.3 204.0 1087.7 215.2 1088.2 230.0 1088.6 263.4 1089.0 254.4 1089.5 251.1 1089.9 240.1 1090.3 246.6 1090.8 239.4 1091.2 206.2 1091.7 205.5 1092.1 182.8 1092.5 202.4 1093.0 203.2 1093.4 242.3 1093.8 250.9 1094.3 235.9 1094.7 230.1 1095.2 232.9 1095.6 240.3 1096.0 257.9 1096.5 230.0 1096.9 214.7 1097.3 199.2 1097.8 183.0 1098.2 191.2 1098.7 233.7 1099.1 240.8 1099.5 236.8 1100.0 248.1 1100.4 249.0 1100.8 249.7 1101.3 268.0 1101.7 229.4 1102.2 233.9 1102.6 217.0 1103.0 223.6 1103.5 252.5 1103.9 248.3 1104.3 188.7 1104.8 139.9 1104.8 139.8 1105.2 188.8 1105.7 251.2 1106.1 242.2 1106.5 207.1 1107.0 220.4 1107.4 207.4 1107.8 253.9 1108.3 277.5 1108.7 293.3 1109.2 259.7 1109.6 254.2 1110.0 261.0 1110.5 266.9 1110.9 260.5 1111.3 230.8 1111.8 220.1 1112.2 202.6 1112.6 217.3 1113.1 226.1 1113.5 245.2 1114.0 264.2 1114.4 259.4 1114.8 260.0 1115.3 250.5 1115.7 279.0 1116.1 284.4 1116.6 270.0 1117.0 247.0 1117.5 230.3 1117.9 252.2 1118.3 252.2 1118.8 279.5 1119.2 302.2 1119.6 291.2 1120.1 292.3 1120.5 275.7 1121.0 271.2 1121.4 282.5 1121.8 272.0 1122.3 263.0 1122.7 284.2 1123.1 291.3 1123.6 293.9 1124.0 290.9 1124.5 298.2 1124.9 289.2 1125.3 296.1 1125.8 276.6 1126.2 262.7 1126.6 246.4 1127.1 248.6 1127.5 260.7 1128.0 275.4 1128.4 294.5 1128.8 290.1 1129.3 277.9 1129.7 267.0 1130.1 278.0 1130.6 298.6 1131.0 278.2 1131.5 271.5 1131.9 251.8 1132.3 255.9 1132.8 253.2 1133.2 274.6 1133.6 291.1 1134.1 292.7 1134.5 278.5 1134.9 268.0 1135.4 286.1 1135.8 288.3 1136.3 298.5 1136.7 283.5 1137.1 268.6 1137.6 241.8 1138.0 220.0 1138.0 220.1 1138.4 251.1 1138.9 312.6 1139.3 304.1 1139.8 303.9 1140.2 293.2 1140.6 291.3 1141.1 258.5 1141.5 265.1 1141.9 258.3 1142.4 266.8 1142.8 275.1 1143.3 302.9 1143.7 282.9 1144.1 288.9 1144.6 278.7 1145.0 294.6 1145.4 306.7 1145.9 276.6 1146.3 257.3 1146.8 252.7 1147.2 244.6 1147.6 266.1 1148.1 272.2 1148.5 286.4 1148.9 288.6 1149.4 272.2 1149.8 271.0 1150.3 299.1 1150.7 322.7 1151.1 312.6 1151.6 247.3 1152.0 147.5 1152.4 89.0 1152.7 80.6 1152.9 86.4 1153.3 139.9 1153.8 231.9 1154.2 248.3 1154.6 238.3 1155.1 234.6 1155.5 231.2 1155.7 231.4 1155.9 232.4 1156.4 234.2 1156.8 238.5 1157.2 246.9 1157.7 259.3 1158.1 278.3 1158.6 295.2 1159.0 306.9 1159.4 319.5 1159.9 333.8 1160.3 330.6 1160.7 301.1 1161.2 285.0 1161.6 259.6 1162.1 286.4 1162.5 291.9 1162.9 319.2 1163.4 342.8 1163.8 352.2 1164.2 338.2 1164.7 326.1 1165.1 389.3 1165.6 401.5 1166.0 369.2 1166.4 319.7 1166.9 306.7 1167.3 313.7 1167.7 304.5 1168.2 354.1 1168.6 327.6 1169.1 314.7 1169.5 317.1 1169.9 308.3 1170.4 326.0 1170.8 330.2 1171.2 363.7 1171.7 323.4 1172.1 303.2 1172.6 287.3 1173.0 310.9 1173.4 361.3 1173.9 393.6 1174.3 348.2 1174.7 343.2 1175.2 341.1 1175.6 293.4 1176.1 281.9 1176.5 279.1 1176.9 286.6 1177.4 298.3 1177.8 350.7 1178.2 361.5 1178.7 303.6 1179.1 312.2 1179.5 333.4 1180.0 359.5 1180.4 341.0 1180.9 282.1 1181.3 251.5 1181.7 223.8 1182.2 234.4 1182.6 259.3 1183.0 304.8 1183.5 328.4 1183.9 280.2 1184.4 273.8 1184.8 266.5 1185.2 335.5 1185.7 363.4 1186.1 352.9 1186.5 271.1 1187.0 248.2 1187.4 299.9 1187.9 307.8 1188.3 305.6 1188.7 319.9 1189.2 316.0 1189.6 330.0 1190.0 336.1 1190.5 331.2 1190.9 300.7 1191.4 305.5 1191.8 324.5 1192.2 319.1 1192.7 339.2 1193.1 394.5 1193.5 363.9 1194.0 375.4 1194.4 376.4 1194.9 398.5 1195.3 373.7 1195.7 316.3 1196.2 313.4 1196.6 276.1 1197.0 302.0 1197.5 297.0 1197.9 358.3 1198.4 356.9 1198.8 334.0 1199.2 308.6 1199.7 311.3 1200.1 353.7 1200.5 389.2 1201.0 336.2 1201.4 302.0 1201.8 296.1 1202.3 308.1 1202.7 294.7 1203.2 346.0 1203.6 338.4 1204.0 349.1 1204.5 325.5 1204.9 346.6 1205.3 360.9 1205.8 377.4 1206.2 388.8 1206.7 350.1 1207.1 366.2 1207.5 361.4 1208.0 382.4 1208.4 403.6 1208.8 408.8 1209.3 377.1 1209.7 357.3 1210.2 352.4 1210.6 376.9 1211.0 344.2 1211.5 346.1 1211.9 343.6 1212.3 386.4 1212.8 388.8 1213.2 399.2 1213.7 356.0 1214.1 386.5 1214.5 380.9 1215.0 406.5 1215.4 396.8 1215.8 353.5 1216.3 346.6 1216.7 328.1 1217.2 312.2 1217.6 347.8 1218.0 377.6 1218.5 346.1 1218.9 331.3 1219.3 346.9 1219.8 349.2 1220.2 365.4 1220.6 420.2 1221.1 384.3 1221.5 348.1 1222.0 338.4 1222.4 344.2 1222.8 365.5 1223.3 392.4 1223.7 389.8 1224.1 388.9 1224.6 363.9 1225.0 361.8 1225.5 381.7 1225.9 384.3 1226.3 395.0 1226.8 382.9 1227.2 393.1 1227.6 419.2 1228.1 417.1 1228.5 418.7 1229.0 415.7 1229.4 414.6 1229.8 414.2 1230.3 402.5 1230.7 387.6 1231.1 372.0 1231.6 339.9 1232.0 362.3 1232.5 360.8 1232.9 399.5 1233.3 380.5 1233.8 375.8 1234.2 349.4 1234.6 368.1 1235.1 393.9 1235.5 422.7 1236.0 385.8 1236.4 369.7 1236.8 341.4 1237.3 339.8 1237.7 381.3 1238.1 398.2 1238.6 371.8 1239.0 348.2 1239.5 343.4 1239.9 366.4 1240.3 372.5 1240.8 414.3 1241.2 416.4 1241.6 392.3 1242.1 385.8 1242.5 380.4 1242.9 408.1 1243.4 414.1 1243.8 396.4 1244.3 400.4 1244.7 392.2 1245.1 384.8 1245.6 371.5 1246.0 391.2 1246.4 375.7 1246.9 388.9 1247.3 400.0 1247.8 413.5 1248.2 407.2 1248.6 393.4 1249.1 392.8 1249.5 394.9 1249.9 406.9 1250.4 410.4 1250.8 395.6 1251.3 382.1 1251.7 358.3 1252.1 382.3 1252.6 394.7 1253.0 384.9 1253.4 395.9 1253.9 389.2 1254.3 379.8 1254.8 385.8 1255.2 400.1 1255.6 411.2 1256.1 415.6 1256.5 404.8 1256.9 395.7 1257.4 381.3 1257.8 400.8 1258.3 409.2 1258.7 400.4 1259.1 388.4 1259.6 391.8 1260.0 387.1 1260.4 403.7 1260.9 409.0 1261.3 409.8 1261.8 414.3 1262.2 415.2 1262.6 419.7 1263.1 422.1 1263.5 414.3 1263.9 409.3 1264.4 415.4 1264.8 414.3 1265.2 409.9 1265.7 401.8 1266.1 399.0 1266.6 392.5 1267.0 402.1 1267.4 400.3 1267.9 405.5 1268.3 408.2 1268.7 404.0 1269.2 403.8 1269.6 397.9 1270.1 407.3 1270.5 422.6 1270.9 414.5 1271.4 397.7 1271.8 404.2 1272.2 402.9 1272.7 408.2 1273.1 408.7 1273.6 407.5 1274.0 394.9 1274.4 402.8 1274.9 402.3 1275.3 399.2 1275.7 417.6 1276.2 421.1 1276.6 416.1 1277.1 415.8 1277.5 413.7 1277.9 414.9 1278.4 418.9 1278.8 416.0 1279.2 410.8 1279.7 408.6 1280.1 413.4 1280.6 408.6 1281.0 409.7 1281.4 413.1 1281.9 412.6 1282.3 416.8 1282.7 416.3 1283.2 418.6 1283.6 415.5 1284.1 408.1 1284.5 409.3 1284.9 412.8 1285.4 419.1 1285.8 416.9 1286.2 410.8 1286.7 406.6 1287.1 406.2 1287.5 406.0 1288.0 414.6 1288.4 409.6 1288.9 411.7 1289.3 408.3 1289.7 402.1 1290.2 412.6 1290.6 417.5 1291.0 420.0 1291.5 415.3 1291.9 412.5 1292.4 410.3 1292.8 410.9 1293.2 414.5 1293.7 418.3 1294.1 415.3 1294.5 411.8 1295.0 412.8 1295.4 410.4 1295.9 414.0 1296.3 421.0 1296.7 422.2 1297.2 421.3 1297.6 420.9 1298.0 422.3 1298.5 422.3 1298.9 418.9 1299.4 415.8 1299.8 416.2 1300.2 420.8 1300.7 417.2 1301.1 414.7 1301.5 411.8 1302.0 415.2 1302.4 418.7 1302.9 419.0 1303.3 418.7 1303.7 415.5 1304.2 410.3 1304.6 411.7 1305.0 414.8 1305.5 420.4 1305.9 424.7 1306.4 420.8 1306.8 415.7 1307.2 411.8 1307.7 414.8 1308.1 416.5 1308.5 417.1 1309.0 412.7 1309.4 408.5 1309.8 410.5 1310.3 411.8 1310.7 416.0 1311.2 422.6 1311.6 422.6 1312.0 422.7 1312.5 422.2 1312.9 419.8 1313.3 424.8 1313.8 423.8 1314.2 421.8 1314.7 417.6 1315.1 420.1 1315.5 416.9 1316.0 420.5 1316.4 419.2 1316.8 419.2 1317.3 421.6 1317.7 424.4 1318.2 423.4 1318.6 419.8 1319.0 418.4 1319.5 420.1 1319.9 422.5 1320.3 421.8 1320.8 424.1 1321.2 423.3 1321.7 418.8 1322.1 417.7 1322.5 420.1 1323.0 419.2 1323.4 421.8 1323.8 419.9 1324.3 417.2 1324.7 416.6 1325.2 415.2 1325.6 420.3 1326.0 426.2 1326.5 425.1 1326.9 423.3 1327.3 419.6 1327.8 419.8 1328.2 424.4 1328.7 423.4 1329.1 422.2 1329.5 419.9 1330.0 416.8 1330.4 416.4 1330.8 422.0 1331.3 423.6 1331.7 426.3 1332.1 427.0 1332.6 425.7 1333.0 427.3 1333.5 426.2 1333.9 424.4 1334.3 424.8 1334.8 423.0 1335.2 424.5 1335.6 423.2 1336.1 424.5 1336.5 422.4 1337.0 422.2 1337.4 423.1 1337.8 425.4 1338.3 423.6 1338.7 423.4 1339.1 419.8 1339.6 420.3" fill="none" stroke="#0066cc" stroke-width="3.8" stroke-linejoin="round" stroke-linecap="round" clip-path="url(#clipc)"/>
<rect x="809.6" y="12.8" width="526.3" height="424.8" fill="none" stroke="#000" stroke-width="2.5" stroke-linejoin="miter"/>
<line x1="878.8" y1="437.6" x2="878.8" y2="446.65" stroke="#000" stroke-width="2.4"/>
<text x="878.8" y="482.6" font-size="40" text-anchor="middle" textLength="75.2" lengthAdjust="spacingAndGlyphs">1535</text>
<line x1="1077.55" y1="437.6" x2="1077.55" y2="446.65" stroke="#000" stroke-width="2.4"/>
<text x="1077.55" y="482.6" font-size="40" text-anchor="middle" textLength="75.2" lengthAdjust="spacingAndGlyphs">1545</text>
<line x1="1276.3" y1="437.6" x2="1276.3" y2="446.65" stroke="#000" stroke-width="2.4"/>
<text x="1276.3" y="482.6" font-size="40" text-anchor="middle" textLength="75.2" lengthAdjust="spacingAndGlyphs">1555</text>
<line x1="800.55" y1="115" x2="809.6" y2="115" stroke="#000" stroke-width="2.4"/>
<text x="795.4" y="127.8" font-size="40" text-anchor="end" textLength="50.12" lengthAdjust="spacingAndGlyphs">-20</text>
<line x1="800.55" y1="252.2" x2="809.6" y2="252.2" stroke="#000" stroke-width="2.4"/>
<text x="795.4" y="265" font-size="40" text-anchor="end" textLength="50.12" lengthAdjust="spacingAndGlyphs">-40</text>
<line x1="800.55" y1="389.4" x2="809.6" y2="389.4" stroke="#000" stroke-width="2.4"/>
<text x="795.4" y="402.2" font-size="40" text-anchor="end" textLength="50.12" lengthAdjust="spacingAndGlyphs">-60</text>
<text x="1071.95" y="518.1" font-size="40" text-anchor="middle">Wavelength (nm)</text>
<text x="0" y="0" font-size="40" text-anchor="middle" transform="translate(728.6 224.6) rotate(-90)">Intensity (dBm)</text>
<clipPath id="clipe"><rect x="1511.4" y="11.8" width="526.2" height="424.9"/></clipPath>
<path d="M1506.7 361.4 1507.1 364.9 1507.5 363.4 1508.0 359.1 1508.4 361.6 1508.8 363.5 1509.3 361.4 1509.7 354.9 1510.2 355.9 1510.6 357.2 1511.0 357.3 1511.5 364.9 1511.9 366.5 1512.3 363.4 1512.8 364.8 1513.2 360.5 1513.7 360.1 1514.1 360.2 1514.5 363.6 1515.0 364.7 1515.4 366.6 1515.8 364.8 1516.3 364.1 1516.7 369.4 1517.2 363.5 1517.6 356.8 1518.0 356.1 1518.5 359.3 1518.9 359.6 1519.3 363.9 1519.8 362.4 1520.2 352.3 1520.7 353.8 1521.1 361.0 1521.5 368.2 1522.0 364.4 1522.4 360.8 1522.8 362.9 1523.3 365.1 1523.7 364.5 1524.2 358.2 1524.6 356.3 1525.0 357.6 1525.5 359.9 1525.9 367.5 1526.3 368.6 1526.8 369.9 1527.2 368.3 1527.7 367.7 1528.1 367.1 1528.5 363.0 1529.0 362.3 1529.4 368.1 1529.8 366.7 1530.3 370.3 1530.7 372.1 1531.1 369.8 1531.6 370.6 1532.0 359.2 1532.5 355.4 1532.9 356.5 1533.3 359.2 1533.8 364.8 1534.2 365.6 1534.6 361.6 1535.1 358.6 1535.5 364.2 1536.0 372.1 1536.4 370.5 1536.8 363.7 1537.3 350.5 1537.7 364.1 1538.1 363.1 1538.6 359.0 1539.0 342.4 1539.5 352.3 1539.9 345.8 1540.3 367.9 1540.8 376.4 1541.2 371.8 1541.6 373.3 1542.1 372.8 1542.5 371.0 1543.0 368.9 1543.4 354.9 1543.8 361.1 1544.3 358.4 1544.7 374.5 1545.1 376.0 1545.6 374.9 1546.0 375.8 1546.5 362.8 1546.9 337.4 1547.3 343.7 1547.8 354.0 1548.2 364.9 1548.6 368.0 1549.1 355.4 1549.5 347.8 1550.0 360.0 1550.4 377.0 1550.8 373.0 1551.3 352.8 1551.7 342.5 1552.1 325.9 1552.6 353.6 1553.0 362.8 1553.4 336.1 1553.9 331.2 1554.3 347.5 1554.8 341.7 1555.2 368.9 1555.6 376.6 1556.1 359.6 1556.5 370.7 1556.9 377.0 1557.4 366.7 1557.8 347.4 1558.3 347.5 1558.7 359.2 1559.1 351.9 1559.6 368.7 1560.0 374.9 1560.4 375.6 1560.9 362.2 1561.3 326.3 1561.8 329.9 1562.2 321.1 1562.6 356.6 1563.1 375.9 1563.5 373.6 1563.9 359.5 1564.4 355.4 1564.8 376.0 1565.3 360.6 1565.7 337.9 1566.1 316.3 1566.6 293.3 1567.0 313.8 1567.4 336.3 1567.9 323.3 1568.3 311.7 1568.8 326.5 1569.2 322.9 1569.6 376.9 1570.1 362.3 1570.5 354.0 1570.9 354.2 1571.4 364.9 1571.8 374.2 1572.2 339.8 1572.7 321.9 1573.1 320.2 1573.6 347.2 1574.0 351.9 1574.4 369.9 1574.9 366.4 1575.3 379.4 1575.7 352.0 1576.2 337.3 1576.6 301.6 1577.1 310.8 1577.5 361.1 1577.9 369.0 1578.4 362.7 1578.8 336.8 1579.2 363.2 1579.7 367.7 1580.1 326.3 1580.6 303.2 1581.0 298.6 1581.4 292.0 1581.9 310.5 1582.3 318.4 1582.7 326.8 1583.2 319.4 1583.6 338.3 1584.1 364.0 1584.5 375.2 1584.9 342.0 1585.4 310.0 1585.8 342.4 1586.2 347.1 1586.7 355.9 1587.1 335.4 1587.6 312.3 1588.0 317.0 1588.4 329.4 1588.9 351.7 1589.3 348.9 1589.7 355.8 1590.2 372.3 1590.6 346.5 1591.1 309.3 1591.5 319.4 1591.9 341.4 1592.4 348.3 1592.8 354.6 1593.2 312.3 1593.7 326.9 1594.1 362.3 1594.5 336.7 1595.0 306.2 1595.4 267.1 1595.9 252.1 1596.3 309.6 1596.7 342.1 1597.2 341.8 1597.6 315.1 1598.0 321.3 1598.5 319.5 1598.9 354.9 1599.4 301.3 1599.8 287.6 1600.2 275.4 1600.7 301.8 1601.1 341.7 1601.5 316.5 1602.0 309.8 1602.4 297.3 1602.9 292.4 1603.3 329.4 1603.7 339.5 1604.2 326.3 1604.6 359.8 1605.0 359.5 1605.5 327.4 1605.9 316.4 1606.4 298.0 1606.8 336.1 1607.2 317.9 1607.7 312.1 1608.1 285.6 1608.5 299.6 1609.0 320.8 1609.4 277.8 1609.9 268.9 1610.3 267.7 1610.7 259.2 1611.2 318.1 1611.6 332.2 1612.0 304.0 1612.5 285.2 1612.9 296.7 1613.4 360.8 1613.8 298.3 1614.2 272.5 1614.7 253.1 1615.1 269.3 1615.5 282.9 1616.0 325.0 1616.4 319.5 1616.8 271.0 1617.3 281.8 1617.7 293.2 1618.2 325.1 1618.6 322.8 1619.0 316.5 1619.5 337.6 1619.9 335.9 1620.3 310.4 1620.8 298.9 1621.2 326.5 1621.7 315.9 1622.1 300.8 1622.5 268.1 1623.0 281.7 1623.4 291.6 1623.8 286.8 1624.3 243.0 1624.7 225.1 1625.2 262.3 1625.6 262.1 1626.0 323.8 1626.5 332.7 1626.9 287.3 1627.3 270.9 1627.8 301.7 1628.2 327.2 1628.7 276.7 1629.1 228.5 1629.5 214.1 1630.0 272.5 1630.4 307.4 1630.8 293.4 1631.3 277.4 1631.7 263.6 1632.2 301.1 1632.6 301.0 1633.0 280.5 1633.5 291.5 1633.9 301.3 1634.3 343.6 1634.8 322.9 1635.2 312.4 1635.7 306.1 1636.1 290.7 1636.5 264.5 1637.0 243.1 1637.4 259.7 1637.8 262.1 1638.3 291.6 1638.7 257.1 1639.1 228.2 1639.6 223.2 1640.0 230.0 1640.5 286.2 1640.9 324.1 1641.3 292.9 1641.8 249.9 1642.2 279.1 1642.6 288.8 1643.1 285.5 1643.5 230.3 1644.0 206.2 1644.4 213.0 1644.8 246.1 1645.3 300.1 1645.7 280.1 1646.1 262.7 1646.6 270.9 1647.0 301.0 1647.5 304.0 1647.9 262.7 1648.3 277.4 1648.8 252.3 1649.2 308.9 1649.6 331.8 1650.1 305.4 1650.5 305.0 1651.0 254.1 1651.4 227.2 1651.8 218.1 1652.3 231.3 1652.7 237.2 1653.1 284.4 1653.6 256.7 1654.0 244.5 1654.5 232.0 1654.9 237.8 1655.3 305.3 1655.8 273.4 1656.2 236.0 1656.6 224.8 1657.1 244.5 1657.5 259.4 1658.0 223.9 1658.4 216.0 1658.8 195.9 1659.3 202.9 1659.7 264.8 1660.1 302.0 1660.6 255.6 1661.0 275.5 1661.4 293.1 1661.9 287.0 1662.3 275.9 1662.8 241.2 1663.2 209.6 1663.6 249.9 1664.1 266.8 1664.5 297.0 1664.9 311.1 1665.4 281.8 1665.8 227.8 1666.3 231.8 1666.7 218.1 1667.1 203.8 1667.6 269.7 1668.0 253.1 1668.4 238.7 1668.9 221.5 1669.3 259.2 1669.8 272.6 1670.2 265.1 1670.6 231.8 1671.1 222.3 1671.5 223.4 1671.9 247.8 1672.4 232.0 1672.8 183.0 1673.3 199.9 1673.7 188.2 1674.1 217.5 1674.6 272.0 1675.0 277.0 1675.4 243.8 1675.9 260.7 1676.3 270.6 1676.8 271.7 1677.2 232.2 1677.6 181.3 1678.1 194.2 1678.5 241.7 1678.9 242.9 1679.4 289.7 1679.8 283.8 1680.3 264.5 1680.7 247.1 1681.1 218.7 1681.6 211.1 1682.0 224.6 1682.4 232.2 1682.9 271.2 1683.3 253.9 1683.7 235.4 1684.2 254.1 1684.6 301.8 1685.1 228.4 1685.5 187.6 1685.9 157.7 1686.4 190.8 1686.8 203.4 1687.2 197.3 1687.7 193.5 1688.1 165.9 1688.6 184.5 1689.0 240.0 1689.4 303.1 1689.9 214.7 1690.3 234.5 1690.7 210.0 1691.2 266.3 1691.6 250.2 1692.1 171.6 1692.5 170.0 1692.9 188.6 1693.4 197.0 1693.8 243.4 1694.2 283.9 1694.7 256.2 1695.1 231.7 1695.6 231.2 1696.0 187.7 1696.4 175.9 1696.9 205.5 1697.3 242.4 1697.7 247.4 1698.2 223.3 1698.6 237.4 1699.1 267.0 1699.5 230.3 1699.9 183.2 1700.4 181.3 1700.8 178.8 1701.2 187.5 1701.7 189.7 1702.1 206.7 1702.6 179.0 1703.0 153.5 1703.4 210.3 1703.9 260.3 1704.3 255.2 1704.7 220.5 1705.2 177.6 1705.6 215.1 1706.0 234.0 1706.5 210.6 1706.9 191.2 1707.4 146.9 1707.8 191.9 1708.2 217.4 1708.7 240.5 1709.1 275.5 1709.5 260.3 1710.0 250.5 1710.4 211.5 1710.9 203.6 1711.3 194.8 1711.7 232.7 1712.2 265.4 1712.6 245.0 1713.0 214.3 1713.5 217.1 1713.9 246.8 1714.4 206.0 1714.8 156.9 1715.2 137.1 1715.7 138.2 1716.1 151.7 1716.5 210.7 1717.0 192.9 1717.4 156.8 1717.9 187.9 1718.3 230.1 1718.7 241.2 1719.2 220.9 1719.6 148.0 1720.0 144.7 1720.5 201.8 1720.9 193.0 1721.4 190.5 1721.8 166.7 1722.2 131.0 1722.7 154.1 1723.1 196.7 1723.5 249.1 1724.0 224.2 1724.4 246.3 1724.9 227.4 1725.3 207.1 1725.7 214.8 1726.2 175.7 1726.6 186.1 1727.0 201.3 1727.5 211.9 1727.9 235.8 1728.3 216.0 1728.8 238.4 1729.2 200.0 1729.7 162.9 1730.1 152.6 1730.5 132.8 1731.0 201.4 1731.4 195.0 1731.8 215.5 1732.3 165.7 1732.7 202.2 1733.2 238.6 1733.6 235.7 1734.0 148.4 1734.5 160.4 1734.9 150.1 1735.3 169.4 1735.8 195.1 1736.2 185.0 1736.7 162.7 1737.1 135.8 1737.5 199.2 1738.0 243.1 1738.4 214.8 1738.8 203.0 1739.3 222.7 1739.7 257.5 1740.2 205.8 1740.6 200.4 1741.0 209.7 1741.5 195.4 1741.9 198.0 1742.3 196.4 1742.8 184.8 1743.2 243.1 1743.7 204.0 1744.1 176.1 1744.5 135.0 1745.0 143.2 1745.4 163.7 1745.8 204.2 1746.3 242.6 1746.7 198.6 1747.1 178.5 1747.6 187.4 1748.0 257.2 1748.5 190.7 1748.9 143.2 1749.3 125.8 1749.8 129.7 1750.2 162.8 1750.6 180.9 1751.1 172.6 1751.5 141.0 1752.0 148.5 1752.4 193.2 1752.8 247.8 1753.3 212.3 1753.7 205.6 1754.1 221.3 1754.6 252.8 1755.0 216.3 1755.5 203.5 1755.9 186.6 1756.3 189.1 1756.8 200.8 1757.2 183.3 1757.6 198.0 1758.1 196.7 1758.5 212.0 1759.0 156.2 1759.4 133.6 1759.8 147.1 1760.3 191.4 1760.7 233.3 1761.1 257.2 1761.6 183.4 1762.0 202.2 1762.5 201.0 1762.9 227.4 1763.3 169.8 1763.8 127.1 1764.2 144.1 1764.6 154.6 1765.1 183.0 1765.5 176.0 1766.0 176.6 1766.4 177.2 1766.8 199.9 1767.3 243.5 1767.7 235.9 1768.1 185.0 1768.6 179.8 1769.0 176.8 1769.4 204.1 1769.9 230.3 1770.3 207.7 1770.8 171.5 1771.2 202.2 1771.6 171.7 1772.1 166.7 1772.5 180.4 1772.9 237.0 1773.4 224.1 1773.8 176.8 1774.3 168.9 1774.7 147.7 1775.1 206.0 1775.6 242.7 1776.0 221.1 1776.4 173.9 1776.9 186.9 1777.3 214.3 1777.8 193.0 1778.2 177.9 1778.6 143.1 1779.1 136.7 1779.5 131.2 1779.9 189.5 1780.4 210.3 1780.8 184.1 1781.3 176.2 1781.7 184.6 1782.1 258.1 1782.6 213.4 1783.0 200.3 1783.4 181.5 1783.9 194.8 1784.3 232.1 1784.8 237.6 1785.2 225.3 1785.6 192.6 1786.1 178.1 1786.5 213.7 1786.9 206.0 1787.4 202.6 1787.8 250.0 1788.3 270.2 1788.7 215.6 1789.1 199.7 1789.6 176.8 1790.0 219.3 1790.4 243.2 1790.9 222.6 1791.3 193.7 1791.7 170.7 1792.2 202.7 1792.6 189.0 1793.1 183.4 1793.5 166.2 1793.9 138.4 1794.4 186.2 1794.8 236.3 1795.2 251.0 1795.7 206.7 1796.1 215.4 1796.6 224.6 1797.0 276.8 1797.4 226.2 1797.9 177.7 1798.3 166.1 1798.7 203.7 1799.2 220.2 1799.6 269.5 1800.1 211.1 1800.5 216.4 1800.9 229.7 1801.4 237.1 1801.8 227.1 1802.2 227.8 1802.7 239.6 1803.1 274.9 1803.6 251.2 1804.0 236.8 1804.4 228.6 1804.9 257.3 1805.3 267.5 1805.7 232.6 1806.2 201.0 1806.6 189.9 1807.1 239.0 1807.5 220.9 1807.9 218.7 1808.4 189.9 1808.8 168.2 1809.2 188.3 1809.7 246.2 1810.1 269.2 1810.6 249.1 1811.0 209.0 1811.4 254.2 1811.9 258.3 1812.3 207.6 1812.7 207.3 1813.2 166.5 1813.6 225.4 1814.0 238.8 1814.5 295.2 1814.9 287.9 1815.4 251.5 1815.8 268.5 1816.2 240.9 1816.7 248.7 1817.1 256.9 1817.5 285.2 1818.0 291.1 1818.4 305.3 1818.9 272.0 1819.3 290.3 1819.7 279.8 1820.2 294.4 1820.6 215.4 1821.0 203.8 1821.5 239.3 1821.9 222.4 1822.4 278.0 1822.8 221.1 1823.2 224.4 1823.7 206.1 1824.1 230.7 1824.5 325.6 1825.0 303.6 1825.4 237.0 1825.9 250.7 1826.3 288.7 1826.7 304.3 1827.2 264.8 1827.6 236.3 1828.0 219.4 1828.5 216.9 1828.9 273.8 1829.4 336.3 1829.8 314.3 1830.2 294.7 1830.7 301.7 1831.1 292.0 1831.5 272.8 1832.0 259.9 1832.4 277.5 1832.9 326.3 1833.3 323.6 1833.7 321.1 1834.2 322.7 1834.6 333.6 1835.0 275.6 1835.5 276.9 1835.9 229.6 1836.3 241.3 1836.8 263.3 1837.2 315.5 1837.7 254.8 1838.1 276.8 1838.5 273.5 1839.0 291.8 1839.4 347.8 1839.8 320.9 1840.3 279.6 1840.7 244.6 1841.2 293.9 1841.6 303.1 1842.0 290.7 1842.5 242.7 1842.9 231.9 1843.3 248.0 1843.8 314.7 1844.2 359.9 1844.7 335.2 1845.1 307.9 1845.5 331.7 1846.0 358.2 1846.4 335.7 1846.8 305.3 1847.3 296.0 1847.7 324.8 1848.2 329.5 1848.6 369.0 1849.0 379.9 1849.5 356.6 1849.9 310.8 1850.3 301.6 1850.8 278.9 1851.2 286.8 1851.7 324.5 1852.1 328.6 1852.5 343.7 1853.0 296.8 1853.4 299.0 1853.8 336.9 1854.3 386.6 1854.7 340.4 1855.2 285.3 1855.6 281.3 1856.0 321.5 1856.5 342.1 1856.9 290.6 1857.3 287.0 1857.8 263.8 1858.2 306.3 1858.6 345.5 1859.1 369.0 1859.5 370.7 1860.0 351.9 1860.4 364.7 1860.8 373.9 1861.3 353.5 1861.7 317.5 1862.1 328.2 1862.6 321.8 1863.0 362.4 1863.5 373.7 1863.9 386.9 1864.3 385.0 1864.8 342.5 1865.2 326.9 1865.6 303.5 1866.1 300.0 1866.5 342.9 1867.0 352.7 1867.4 343.3 1867.8 342.3 1868.3 348.6 1868.7 360.0 1869.1 366.9 1869.6 307.9 1870.0 277.3 1870.5 279.9 1870.9 299.9 1871.3 316.7 1871.8 300.8 1872.2 285.5 1872.6 268.7 1873.1 255.3 1873.5 336.5 1874.0 394.3 1874.4 330.2 1874.8 328.8 1875.3 339.5 1875.7 381.4 1876.1 362.4 1876.6 285.0 1877.0 278.0 1877.5 262.2 1877.9 347.5 1878.3 346.4 1878.8 378.6 1879.2 390.1 1879.6 346.3 1880.1 327.8 1880.5 289.1 1880.9 303.3 1881.4 307.6 1881.8 369.8 1882.3 395.1 1882.7 354.5 1883.1 341.3 1883.6 368.4 1884.0 384.4 1884.4 292.8 1884.9 238.0 1885.3 258.2 1885.8 293.4 1886.2 327.8 1886.6 302.2 1887.1 286.6 1887.5 299.4 1887.9 319.5 1888.4 339.5 1888.8 376.7 1889.3 320.6 1889.7 329.8 1890.1 295.3 1890.6 370.7 1891.0 361.3 1891.4 329.3 1891.9 265.9 1892.3 289.1 1892.8 318.9 1893.2 354.4 1893.6 363.3 1894.1 392.3 1894.5 387.9 1894.9 364.7 1895.4 297.5 1895.8 332.1 1896.3 305.6 1896.7 351.6 1897.1 386.2 1897.6 371.7 1898.0 362.5 1898.4 386.1 1898.9 362.7 1899.3 322.8 1899.8 244.5 1900.2 271.4 1900.6 288.5 1901.1 310.5 1901.5 327.3 1901.9 324.4 1902.4 331.7 1902.8 347.7 1903.2 371.7 1903.7 376.2 1904.1 305.7 1904.6 302.0 1905.0 298.5 1905.4 339.2 1905.9 363.3 1906.3 322.1 1906.7 330.8 1907.2 333.9 1907.6 346.3 1908.1 366.9 1908.5 358.3 1908.9 379.4 1909.4 397.4 1909.8 374.7 1910.2 364.5 1910.7 318.8 1911.1 331.8 1911.6 389.1 1912.0 389.9 1912.4 374.9 1912.9 373.1 1913.3 354.8 1913.7 387.3 1914.2 325.2 1914.6 298.4 1915.1 314.8 1915.5 306.6 1915.9 328.4 1916.4 388.3 1916.8 377.8 1917.2 370.1 1917.7 364.0 1918.1 385.8 1918.6 406.2 1919.0 328.4 1919.4 314.9 1919.9 335.0 1920.3 331.1 1920.7 362.4 1921.2 350.5 1921.6 353.0 1922.0 352.3 1922.5 357.7 1922.9 369.8 1923.4 397.3 1923.8 399.8 1924.2 406.4 1924.7 414.8 1925.1 393.4 1925.5 388.6 1926.0 385.3 1926.4 387.1 1926.9 381.5 1927.3 371.1 1927.7 378.9 1928.2 388.3 1928.6 398.5 1929.0 375.2 1929.5 323.3 1929.9 346.5 1930.4 322.8 1930.8 345.5 1931.2 398.7 1931.7 398.2 1932.1 375.6 1932.5 376.0 1933.0 396.8 1933.4 406.7 1933.9 343.9 1934.3 325.5 1934.7 336.0 1935.2 325.1 1935.6 381.4 1936.0 375.6 1936.5 376.9 1936.9 360.0 1937.4 384.8 1937.8 396.2 1938.2 396.4 1938.7 395.1 1939.1 379.7 1939.5 403.2 1940.0 411.2 1940.4 396.2 1940.9 395.2 1941.3 387.8 1941.7 380.0 1942.2 367.0 1942.6 365.4 1943.0 359.3 1943.5 372.2 1943.9 367.7 1944.3 354.5 1944.8 317.7 1945.2 320.9 1945.7 358.1 1946.1 405.9 1946.5 396.7 1947.0 375.6 1947.4 365.6 1947.8 393.3 1948.3 379.6 1948.7 369.0 1949.2 317.6 1949.6 341.1 1950.0 345.6 1950.5 367.3 1950.9 397.4 1951.3 386.5 1951.8 372.1 1952.2 376.7 1952.7 388.6 1953.1 395.4 1953.5 370.5 1954.0 386.1 1954.4 386.1 1954.8 400.2 1955.3 412.4 1955.7 394.1 1956.2 385.9 1956.6 386.8 1957.0 368.5 1957.5 367.2 1957.9 378.6 1958.3 379.5 1958.8 396.7 1959.2 382.2 1959.7 356.3 1960.1 362.2 1960.5 374.0 1961.0 398.8 1961.4 408.7 1961.8 396.2 1962.3 389.0 1962.7 387.5 1963.2 385.2 1963.6 383.5 1964.0 350.2 1964.5 361.6 1964.9 371.5 1965.3 382.7 1965.8 394.8 1966.2 392.4 1966.6 392.5 1967.1 398.1 1967.5 403.2 1968.0 406.8 1968.4 396.2 1968.8 379.1 1969.3 395.4 1969.7 393.4 1970.1 404.5 1970.6 412.4 1971.0 399.0 1971.5 404.7 1971.9 398.8 1972.3 390.5 1972.8 374.4 1973.2 399.2 1973.6 402.9 1974.1 404.4 1974.5 399.0 1975.0 379.2 1975.4 398.0 1975.8 401.9 1976.3 407.0 1976.7 389.5 1977.1 379.9 1977.6 383.8 1978.0 390.3 1978.5 387.3 1978.9 387.7 1979.3 381.7 1979.8 376.0 1980.2 392.9 1980.6 401.7 1981.1 403.5 1981.5 400.2 1982.0 403.7 1982.4 410.5 1982.8 410.0 1983.3 395.0 1983.7 384.1 1984.1 383.6 1984.6 394.6 1985.0 399.6 1985.5 410.5 1985.9 406.6 1986.3 408.5 1986.8 400.3 1987.2 400.9 1987.6 396.9 1988.1 397.7 1988.5 401.4 1988.9 412.7 1989.4 404.1 1989.8 401.9 1990.3 404.4 1990.7 404.6 1991.1 407.8 1991.6 400.0 1992.0 395.2 1992.4 389.7 1992.9 391.6 1993.3 399.5 1993.8 396.2 1994.2 392.3 1994.6 389.9 1995.1 388.1 1995.5 407.5 1995.9 409.1 1996.4 402.7 1996.8 402.9 1997.3 408.3 1997.7 411.6 1998.1 400.0 1998.6 400.3 1999.0 395.5 1999.4 399.9 1999.9 400.2 2000.3 407.4 2000.8 413.2 2001.2 412.0 2001.6 404.0 2002.1 404.0 2002.5 396.5 2002.9 402.2 2003.4 407.5 2003.8 413.6 2004.3 415.7 2004.7 410.8 2005.1 406.9 2005.6 412.9 2006.0 414.6 2006.4 400.7 2006.9 396.0 2007.3 393.4 2007.8 394.1 2008.2 402.4 2008.6 406.8 2009.1 393.6 2009.5 400.0 2009.9 402.9 2010.4 406.7 2010.8 415.4 2011.2 411.3 2011.7 403.0 2012.1 409.1 2012.6 410.6 2013.0 407.0 2013.4 399.8 2013.9 397.9 2014.3 396.0 2014.7 402.5 2015.2 412.7 2015.6 414.9 2016.1 415.4 2016.5 414.0 2016.9 410.1 2017.4 409.7 2017.8 409.2 2018.2 408.8 2018.7 411.0 2019.1 413.7 2019.6 414.3 2020.0 415.0 2020.4 416.0 2020.9 418.9 2021.3 410.4 2021.7 401.8 2022.2 404.1 2022.6 401.0 2023.1 409.8 2023.5 409.0 2023.9 407.6 2024.4 402.0 2024.8 408.2 2025.2 413.6 2025.7 417.9 2026.1 415.9 2026.6 406.0 2027.0 409.5 2027.4 412.7 2027.9 415.2 2028.3 409.6 2028.7 409.8 2029.2 405.8 2029.6 409.8 2030.1 410.9 2030.5 419.3 2030.9 419.8 2031.4 417.0 2031.8 418.3 2032.2 418.7 2032.7 411.8 2033.1 413.7 2033.5 413.9 2034.0 414.3 2034.4 417.3 2034.9 416.0 2035.3 417.8 2035.7 420.4 2036.2 416.9 2036.6 409.9 2037.0 409.9 2037.5 406.8 2037.9 410.0 2038.4 414.2 2038.8 417.2 2039.2 415.5 2039.7 412.1 2040.1 413.7 2040.5 420.1 2041.0 419.1" fill="none" stroke="#0066cc" stroke-width="3.8" stroke-linejoin="round" stroke-linecap="round" clip-path="url(#clipe)"/>
<rect x="1511.4" y="11.8" width="526.2" height="424.9" fill="none" stroke="#000" stroke-width="2.5" stroke-linejoin="miter"/>
<line x1="1580.2" y1="436.7" x2="1580.2" y2="445.75" stroke="#000" stroke-width="2.4"/>
<text x="1580.2" y="481.7" font-size="40" text-anchor="middle" textLength="75.2" lengthAdjust="spacingAndGlyphs">1535</text>
<line x1="1778.95" y1="436.7" x2="1778.95" y2="445.75" stroke="#000" stroke-width="2.4"/>
<text x="1778.95" y="481.7" font-size="40" text-anchor="middle" textLength="75.2" lengthAdjust="spacingAndGlyphs">1545</text>
<line x1="1977.7" y1="436.7" x2="1977.7" y2="445.75" stroke="#000" stroke-width="2.4"/>
<text x="1977.7" y="481.7" font-size="40" text-anchor="middle" textLength="75.2" lengthAdjust="spacingAndGlyphs">1555</text>
<line x1="1502.35" y1="75.5" x2="1511.4" y2="75.5" stroke="#000" stroke-width="2.4"/>
<text x="1497.2" y="88.3" font-size="40" text-anchor="end" textLength="50.12" lengthAdjust="spacingAndGlyphs">-20</text>
<line x1="1502.35" y1="235.9" x2="1511.4" y2="235.9" stroke="#000" stroke-width="2.4"/>
<text x="1497.2" y="248.7" font-size="40" text-anchor="end" textLength="50.12" lengthAdjust="spacingAndGlyphs">-40</text>
<line x1="1502.35" y1="396.3" x2="1511.4" y2="396.3" stroke="#000" stroke-width="2.4"/>
<text x="1497.2" y="409.1" font-size="40" text-anchor="end" textLength="50.12" lengthAdjust="spacingAndGlyphs">-60</text>
<text x="1774.5" y="516.6" font-size="40" text-anchor="middle">Wavelength (nm)</text>
<text x="0" y="0" font-size="40" text-anchor="middle" transform="translate(1428.4 223.65) rotate(-90)">Intensity (dBm)</text>
<clipPath id="clipb"><rect x="120.1" y="567.2" width="527.4" height="425.5"/></clipPath>
<path d="M114.1 989.8 114.5 989.8 114.5 989.8 115.0 989.8 115.0 989.8 115.5 989.8 115.5 989.8 116.0 989.8 116.0 989.8 116.4 989.8 116.5 989.8 117.0 989.8 117.1 989.8 117.5 989.8 117.5 989.8 118.0 989.8 118.0 989.8 118.5 989.8 118.5 989.8 119.0 989.8 119.0 989.8 119.4 989.8 119.5 989.8 120.0 989.8 120.1 989.8 120.5 989.8 120.5 989.8 121.0 989.8 121.0 989.8 121.5 989.8 121.5 989.8 122.0 989.8 122.0 989.8 122.4 989.8 122.5 989.8 123.0 989.8 123.1 989.8 123.5 989.8 123.5 989.8 124.0 989.8 124.0 989.8 124.5 989.8 124.5 989.8 125.0 989.8 125.0 989.8 125.4 989.8 125.5 989.8 126.0 989.8 126.1 989.8 126.5 989.8 126.5 989.8 127.0 989.8 127.0 989.8 127.5 989.8 127.5 989.8 128.0 989.8 128.0 989.8 128.4 989.8 128.5 989.8 129.0 989.8 129.1 989.8 129.5 989.8 129.5 989.8 130.0 989.8 130.0 989.8 130.5 989.8 130.5 989.8 130.9 989.8 131.0 989.8 131.4 989.8 131.5 989.8 132.0 989.8 132.1 989.8 132.5 989.8 132.5 989.8 133.0 989.8 133.0 989.8 133.5 989.8 133.5 989.8 133.9 989.8 134.0 989.8 134.5 989.8 134.6 989.8 135.0 989.8 135.1 989.8 135.5 989.8 135.5 989.8 136.0 989.8 136.0 989.8 136.5 989.8 136.5 989.8 136.9 989.8 137.0 989.8 137.5 989.8 137.6 989.8 138.0 989.8 138.0 989.8 138.5 989.8 138.5 989.8 139.0 989.8 139.0 989.8 139.5 989.8 139.5 989.8 139.9 989.8 140.0 989.8 140.5 989.8 140.6 989.8 141.0 989.8 141.0 989.8 141.5 989.8 141.5 989.8 142.0 989.8 142.0 989.8 142.5 989.8 142.5 989.8 142.9 989.8 143.0 989.8 143.5 989.8 143.6 989.8 144.0 989.8 144.0 989.8 144.5 989.8 144.5 989.8 145.0 989.8 145.0 989.8 145.5 989.8 145.5 989.8 145.9 989.8 146.0 989.8 146.5 989.8 146.6 989.8 147.0 989.8 147.0 989.8 147.5 989.8 147.5 989.8 148.0 989.8 148.0 989.8 148.5 989.8 148.5 989.8 148.9 989.8 149.0 989.8 149.5 989.8 149.6 989.8 150.0 989.8 150.0 989.8 150.5 989.8 150.5 989.8 151.0 989.8 151.0 989.8 151.5 989.8 151.5 989.8 151.9 989.8 152.0 989.8 152.5 989.8 152.6 989.8 153.0 989.8 153.0 989.8 153.5 989.8 153.5 989.8 154.0 989.8 154.0 989.8 154.5 989.8 154.5 989.8 154.9 989.8 155.0 989.8 155.5 989.8 155.6 989.8 156.0 989.8 156.0 989.8 156.5 989.8 156.5 989.8 157.0 989.8 157.0 989.8 157.4 989.8 157.5 989.8 157.9 989.8 158.0 989.8 158.5 989.8 158.6 989.8 159.0 989.8 159.0 989.8 159.5 989.8 159.5 989.8 160.0 989.8 160.0 989.8 160.4 989.8 160.5 989.8 161.0 989.8 161.1 989.8 161.5 989.8 161.5 989.8 162.0 989.8 162.0 989.8 162.5 989.8 162.5 989.8 163.0 989.8 163.0 989.8 163.4 989.8 163.5 989.8 164.0 989.8 164.1 989.8 164.5 989.8 164.5 989.8 165.0 989.8 165.0 989.8 165.5 989.8 165.5 989.8 166.0 989.8 166.0 989.8 166.4 989.8 166.5 989.8 167.0 989.8 167.1 989.8 167.5 989.8 167.5 989.8 168.0 989.8 168.0 989.8 168.5 989.8 168.5 989.8 169.0 989.8 169.0 989.8 169.4 989.8 169.5 989.8 170.0 989.8 170.1 989.8 170.5 989.8 170.5 989.8 171.0 989.8 171.0 989.8 171.5 989.8 171.5 989.8 172.0 989.8 172.0 989.8 172.4 989.8 172.5 989.8 173.0 989.8 173.1 989.8 173.5 989.8 173.5 989.8 174.0 989.8 174.0 989.8 174.5 989.8 174.5 989.8 175.0 989.8 175.0 989.8 175.4 989.8 175.5 989.8 176.0 989.8 176.1 989.8 176.5 989.8 176.5 989.8 177.0 989.8 177.0 989.8 177.5 989.8 177.5 989.8 178.0 989.8 178.0 989.8 178.4 989.8 178.5 989.8 179.0 989.8 179.1 989.8 179.5 989.8 179.5 989.8 180.0 989.8 180.0 989.8 180.5 989.8 180.5 989.8 181.0 989.8 181.0 989.8 181.4 989.8 181.5 989.8 182.0 989.8 182.1 989.8 182.5 989.8 182.5 989.8 183.0 989.8 183.0 989.8 183.5 989.8 183.5 989.8 183.9 989.8 184.0 989.8 184.5 989.8 184.6 989.8 185.0 989.8 185.1 989.8 185.5 989.8 185.5 989.8 186.0 989.8 186.0 989.8 186.5 989.8 186.5 989.8 186.9 989.8 187.0 989.8 187.5 989.7 187.6 989.7 188.0 989.7 188.0 989.7 188.5 989.6 188.5 989.5 189.0 989.3 189.0 989.3 189.5 988.8 189.5 988.8 189.9 988.0 190.0 987.8 190.5 986.2 190.6 985.9 191.0 983.5 191.0 983.0 191.5 979.1 191.5 978.4 192.0 972.4 192.0 971.4 192.5 962.6 192.5 961.1 192.9 948.8 193.0 946.8 193.5 927.8 193.6 925.0 194.0 903.7 194.0 900.3 194.5 874.6 194.5 870.7 195.0 841.6 195.0 837.3 195.5 806.2 195.5 801.7 195.9 770.9 196.0 766.6 196.5 734.8 196.6 731.2 197.0 709.3 197.0 706.7 197.5 692.8 197.5 691.5 198.0 687.1 198.0 687.2 198.5 692.8 198.5 694.3 198.9 709.3 199.0 712.0 199.5 738.5 199.6 742.2 200.0 770.9 200.0 775.2 200.5 806.2 200.5 810.7 201.0 841.6 201.0 845.9 201.5 874.6 201.5 878.5 201.9 903.7 202.0 906.9 202.5 930.4 202.6 933.0 203.0 948.8 203.0 950.8 203.5 962.6 203.5 964.0 204.0 972.4 204.0 973.4 204.5 979.1 204.5 979.8 204.9 983.5 205.0 983.9 205.5 986.4 205.6 986.7 206.0 988.0 206.0 988.1 206.5 988.8 206.5 988.9 207.0 989.3 207.0 989.4 207.4 989.6 207.5 989.6 207.9 989.7 208.0 989.7 208.5 989.8 208.6 989.8 209.0 989.8 209.0 989.8 209.5 989.8 209.5 989.8 210.0 989.8 210.0 989.8 210.4 989.8 210.5 989.8 211.0 989.8 211.1 989.8 211.5 989.8 211.6 989.8 212.0 989.8 212.0 989.8 212.5 989.8 212.5 989.8 213.0 989.8 213.0 989.8 213.4 989.8 213.5 989.8 214.0 989.8 214.1 989.8 214.5 989.8 214.5 989.8 215.0 989.8 215.0 989.8 215.5 989.8 215.5 989.8 216.0 989.8 216.0 989.8 216.4 989.8 216.5 989.8 217.0 989.8 217.1 989.8 217.5 989.8 217.5 989.8 218.0 989.8 218.0 989.8 218.5 989.8 218.5 989.8 218.9 989.8 219.0 989.8 219.0 989.8 219.3 989.8 219.4 989.8 219.5 989.8 220.0 989.8 220.1 989.8 220.5 989.8 220.5 989.8 221.0 989.8 221.0 989.8 221.5 989.8 221.5 989.8 222.0 989.8 222.0 989.8 222.4 989.8 222.5 989.8 223.0 989.8 223.1 989.8 223.5 989.8 223.5 989.8 224.0 989.8 224.0 989.8 224.5 989.8 224.5 989.8 225.0 989.8 225.0 989.8 225.4 989.8 225.5 989.8 226.0 989.8 226.1 989.8 226.5 989.8 226.5 989.8 227.0 989.8 227.0 989.8 227.5 989.8 227.5 989.8 228.0 989.8 228.0 989.8 228.4 989.8 228.5 989.8 229.0 989.8 229.1 989.8 229.5 989.8 229.5 989.8 230.0 989.8 230.0 989.8 230.5 989.8 230.5 989.8 231.0 989.8 231.0 989.8 231.4 989.8 231.5 989.8 232.0 989.8 232.1 989.8 232.5 989.8 232.5 989.8 233.0 989.8 233.0 989.8 233.5 989.8 233.5 989.8 233.9 989.8 234.0 989.8 234.4 989.8 234.5 989.8 235.0 989.8 235.1 989.8 235.5 989.8 235.5 989.8 236.0 989.8 236.0 989.8 236.5 989.8 236.5 989.8 236.9 989.8 237.0 989.8 237.5 989.8 237.6 989.8 238.0 989.8 238.0 989.8 238.5 989.8 238.5 989.8 239.0 989.8 239.0 989.8 239.5 989.8 239.5 989.8 239.9 989.8 240.0 989.8 240.5 989.8 240.6 989.8 241.0 989.8 241.0 989.8 241.5 989.8 241.5 989.8 242.0 989.8 242.0 989.8 242.5 989.8 242.5 989.8 242.9 989.8 243.0 989.8 243.5 989.8 243.6 989.8 244.0 989.8 244.0 989.8 244.5 989.8 244.5 989.8 245.0 989.8 245.0 989.8 245.5 989.8 245.5 989.8 245.9 989.8 246.0 989.8 246.5 989.8 246.6 989.8 247.0 989.8 247.0 989.8 247.5 989.8 247.5 989.8 248.0 989.8 248.0 989.8 248.5 989.8 248.5 989.8 248.9 989.8 249.0 989.8 249.5 989.8 249.6 989.8 250.0 989.8 250.0 989.8 250.5 989.8 250.5 989.8 251.0 989.8 251.0 989.8 251.5 989.8 251.5 989.8 251.9 989.8 252.0 989.8 252.5 989.8 252.6 989.8 253.0 989.8 253.0 989.8 253.5 989.8 253.5 989.8 254.0 989.8 254.0 989.8 254.5 989.8 254.5 989.8 254.9 989.8 255.0 989.8 255.5 989.8 255.6 989.8 256.0 989.8 256.0 989.8 256.5 989.8 256.5 989.8 257.0 989.8 257.0 989.8 257.5 989.8 257.5 989.8 257.9 989.8 258.0 989.8 258.5 989.8 258.6 989.8 259.0 989.8 259.0 989.8 259.5 989.8 259.5 989.8 260.0 989.8 260.0 989.8 260.4 989.8 260.5 989.8 260.9 989.8 261.0 989.8 261.5 989.8 261.6 989.8 262.0 989.8 262.0 989.8 262.5 989.8 262.5 989.8 263.0 989.8 263.0 989.8 263.4 989.8 263.5 989.8 264.0 989.8 264.1 989.8 264.5 989.8 264.5 989.8 265.0 989.8 265.0 989.8 265.5 989.8 265.5 989.8 266.0 989.8 266.0 989.8 266.4 989.8 266.5 989.8 267.0 989.8 267.1 989.8 267.5 989.8 267.5 989.8 268.0 989.8 268.0 989.8 268.5 989.8 268.5 989.8 269.0 989.8 269.0 989.8 269.4 989.8 269.5 989.8 270.0 989.8 270.1 989.8 270.5 989.8 270.5 989.8 271.0 989.8 271.0 989.8 271.5 989.8 271.5 989.8 272.0 989.8 272.0 989.8 272.4 989.8 272.5 989.8 273.0 989.8 273.1 989.8 273.5 989.8 273.5 989.8 274.0 989.8 274.0 989.8 274.5 989.8 274.5 989.8 275.0 989.8 275.0 989.8 275.4 989.8 275.5 989.8 276.0 989.8 276.1 989.8 276.5 989.8 276.5 989.8 277.0 989.8 277.0 989.8 277.5 989.8 277.5 989.8 278.0 989.8 278.0 989.8 278.4 989.8 278.5 989.8 279.0 989.8 279.1 989.8 279.5 989.8 279.5 989.8 280.0 989.8 280.0 989.8 280.5 989.8 280.5 989.8 281.0 989.8 281.0 989.8 281.4 989.8 281.5 989.8 282.0 989.8 282.1 989.8 282.5 989.8 282.5 989.8 283.0 989.8 283.0 989.8 283.5 989.8 283.5 989.8 283.9 989.8 284.0 989.8 284.4 989.8 284.5 989.8 285.0 989.8 285.1 989.8 285.5 989.8 285.5 989.8 286.0 989.8 286.0 989.8 286.5 989.8 286.5 989.8 286.9 989.8 287.0 989.8 287.5 989.8 287.6 989.8 288.0 989.8 288.1 989.8 288.5 989.8 288.5 989.8 289.0 989.8 289.0 989.8 289.5 989.8 289.5 989.8 289.9 989.8 290.0 989.8 290.5 989.8 290.6 989.8 291.0 989.8 291.0 989.8 291.5 989.8 291.5 989.8 292.0 989.8 292.0 989.8 292.5 989.8 292.5 989.8 292.9 989.8 293.0 989.8 293.5 989.8 293.6 989.8 293.9 989.8 294.0 989.8 294.0 989.8 294.5 989.8 294.5 989.8 295.0 989.8 295.0 989.8 295.5 989.8 295.5 989.8 295.9 989.8 296.0 989.8 296.5 989.8 296.6 989.8 297.0 989.8 297.0 989.8 297.5 989.8 297.5 989.8 298.0 989.8 298.0 989.8 298.5 989.8 298.5 989.8 298.9 989.8 299.0 989.8 299.5 989.8 299.6 989.8 300.0 989.8 300.0 989.8 300.5 989.8 300.5 989.8 301.0 989.8 301.0 989.8 301.5 989.8 301.5 989.8 301.9 989.8 302.0 989.8 302.5 989.8 302.6 989.8 303.0 989.8 303.0 989.8 303.5 989.8 303.5 989.8 304.0 989.8 304.0 989.8 304.5 989.8 304.5 989.8 304.9 989.7 305.0 989.7 305.5 989.6 305.6 989.6 306.0 989.4 306.0 989.4 306.5 989.0 306.5 989.0 307.0 988.3 307.0 988.2 307.5 987.1 307.5 986.9 307.9 985.0 308.0 984.6 308.5 981.0 308.6 980.4 309.0 975.2 309.0 974.3 309.5 966.7 309.5 965.4 310.0 954.5 310.0 952.7 310.4 937.9 310.5 935.5 310.9 916.3 311.0 913.3 311.5 886.1 311.6 882.3 312.0 854.4 312.0 850.2 312.5 819.6 312.5 815.2 313.0 783.9 313.0 779.5 313.4 750.1 313.5 746.1 314.0 717.9 314.1 714.9 314.5 697.8 314.5 696.0 315.0 687.9 315.0 687.5 315.2 687.1 315.5 689.3 315.5 690.3 316.0 701.9 316.0 704.2 316.4 724.3 316.5 727.7 317.0 758.2 317.1 762.4 317.5 792.8 317.5 797.3 318.0 828.5 318.0 832.9 318.5 862.6 318.5 866.7 319.0 893.3 319.0 896.8 319.4 919.3 319.5 922.2 320.0 942.5 320.1 944.7 320.5 957.9 320.5 959.6 321.0 969.1 321.0 970.3 321.5 976.9 321.5 977.7 322.0 982.0 322.0 982.5 322.4 985.3 322.5 985.6 323.0 987.5 323.1 987.7 323.5 988.6 323.5 988.7 324.0 989.2 324.0 989.2 324.5 989.5 324.5 989.5 325.0 989.7 325.0 989.7 325.4 989.7 325.5 989.7 326.0 989.8 326.1 989.8 326.5 989.8 326.5 989.8 327.0 989.8 327.0 989.8 327.5 989.8 327.5 989.8 328.0 989.8 328.0 989.8 328.4 989.8 328.5 989.8 329.0 989.8 329.1 989.8 329.5 989.8 329.5 989.8 330.0 989.8 330.0 989.8 330.5 989.8 330.5 989.8 331.0 989.8 331.0 989.8 331.4 989.8 331.5 989.8 332.0 989.8 332.1 989.8 332.5 989.8 332.5 989.8 333.0 989.8 333.0 989.8 333.5 989.8 333.5 989.8 334.0 989.8 334.0 989.8 334.4 989.8 334.5 989.8 335.0 989.8 335.1 989.8 335.5 989.8 335.5 989.8 336.0 989.8 336.0 989.8 336.2 989.8 336.5 989.8 336.5 989.8 336.9 989.8 337.0 989.8 337.4 989.8 337.5 989.8 338.0 989.8 338.1 989.8 338.5 989.8 338.5 989.8 339.0 989.8 339.0 989.8 339.5 989.8 339.5 989.8 339.9 989.8 340.0 989.8 340.5 989.8 340.6 989.8 341.0 989.8 341.0 989.8 341.5 989.8 341.5 989.8 342.0 989.8 342.0 989.8 342.5 989.8 342.5 989.8 342.9 989.8 343.0 989.8 343.5 989.8 343.6 989.8 344.0 989.8 344.0 989.8 344.5 989.8 344.5 989.8 345.0 989.8 345.0 989.8 345.5 989.8 345.5 989.8 345.9 989.8 346.0 989.8 346.5 989.8 346.6 989.8 347.0 989.8 347.0 989.8 347.5 989.8 347.5 989.8 348.0 989.8 348.0 989.8 348.5 989.8 348.5 989.8 348.9 989.8 349.0 989.8 349.5 989.8 349.6 989.8 350.0 989.8 350.0 989.8 350.5 989.8 350.5 989.8 351.0 989.8 351.0 989.8 351.5 989.8 351.5 989.8 351.9 989.8 352.0 989.8 352.5 989.8 352.6 989.8 353.0 989.8 353.0 989.8 353.5 989.8 353.5 989.8 354.0 989.8 354.0 989.8 354.5 989.8 354.5 989.8 354.9 989.8 355.0 989.8 355.5 989.8 355.6 989.8 356.0 989.8 356.0 989.8 356.5 989.8 356.5 989.8 357.0 989.8 357.0 989.8 357.5 989.8 357.5 989.8 357.9 989.8 358.0 989.8 358.5 989.8 358.6 989.8 359.0 989.8 359.0 989.8 359.5 989.8 359.5 989.8 360.0 989.8 360.0 989.8 360.4 989.8 360.5 989.8 360.9 989.8 361.0 989.8 361.5 989.8 361.6 989.8 362.0 989.8 362.0 989.8 362.5 989.8 362.5 989.8 363.0 989.8 363.0 989.8 363.4 989.8 363.5 989.8 364.0 989.8 364.1 989.8 364.5 989.8 364.6 989.8 365.0 989.8 365.0 989.8 365.5 989.8 365.5 989.8 366.0 989.8 366.0 989.8 366.4 989.8 366.5 989.8 367.0 989.8 367.1 989.8 367.5 989.8 367.5 989.8 368.0 989.8 368.0 989.8 368.5 989.8 368.5 989.8 369.0 989.8 369.0 989.8 369.4 989.8 369.5 989.8 370.0 989.8 370.1 989.8 370.5 989.8 370.5 989.8 371.0 989.8 371.0 989.8 371.5 989.8 371.5 989.8 372.0 989.8 372.0 989.8 372.4 989.8 372.5 989.8 373.0 989.8 373.1 989.8 373.5 989.8 373.5 989.8 374.0 989.8 374.0 989.8 374.5 989.8 374.5 989.8 375.0 989.8 375.0 989.8 375.4 989.8 375.5 989.8 376.0 989.8 376.1 989.8 376.5 989.8 376.5 989.8 377.0 989.8 377.0 989.8 377.5 989.8 377.5 989.8 378.0 989.8 378.0 989.8 378.4 989.8 378.5 989.8 379.0 989.8 379.1 989.8 379.5 989.8 379.5 989.8 380.0 989.8 380.0 989.8 380.5 989.8 380.5 989.8 381.0 989.8 381.0 989.8 381.4 989.8 381.5 989.8 382.0 989.8 382.1 989.8 382.5 989.8 382.5 989.8 383.0 989.8 383.0 989.8 383.5 989.8 383.5 989.8 384.0 989.8 384.0 989.8 384.4 989.8 384.5 989.8 385.0 989.8 385.1 989.8 385.5 989.8 385.5 989.8 386.0 989.8 386.0 989.8 386.5 989.8 386.5 989.8 386.9 989.8 387.0 989.8 387.4 989.8 387.5 989.8 388.0 989.8 388.1 989.8 388.5 989.8 388.5 989.8 389.0 989.8 389.0 989.8 389.5 989.8 389.5 989.8 389.9 989.8 390.0 989.8 390.5 989.8 390.6 989.8 391.0 989.8 391.0 989.8 391.5 989.8 391.5 989.8 392.0 989.8 392.0 989.8 392.5 989.8 392.5 989.8 392.9 989.8 393.0 989.8 393.5 989.8 393.6 989.8 394.0 989.8 394.0 989.8 394.5 989.8 394.5 989.8 395.0 989.8 395.0 989.8 395.5 989.8 395.5 989.8 395.9 989.8 396.0 989.8 396.5 989.8 396.6 989.8 397.0 989.8 397.0 989.8 397.5 989.8 397.5 989.8 398.0 989.8 398.0 989.8 398.5 989.8 398.5 989.8 398.9 989.8 399.0 989.8 399.5 989.8 399.6 989.8 400.0 989.8 400.0 989.8 400.5 989.8 400.5 989.8 401.0 989.8 401.0 989.8 401.5 989.8 401.5 989.8 401.9 989.8 402.0 989.8 402.5 989.8 402.6 989.8 403.0 989.8 403.0 989.8 403.5 989.8 403.5 989.8 404.0 989.8 404.0 989.8 404.5 989.8 404.5 989.8 404.9 989.8 405.0 989.8 405.5 989.8 405.6 989.8 406.0 989.8 406.0 989.8 406.5 989.8 406.5 989.8 407.0 989.8 407.0 989.8 407.5 989.8 407.5 989.8 407.9 989.8 408.0 989.8 408.5 989.8 408.6 989.8 409.0 989.8 409.0 989.8 409.5 989.8 409.5 989.8 410.0 989.8 410.0 989.8 410.5 989.8 410.5 989.8 410.9 989.8 411.0 989.8 411.5 989.8 411.6 989.8 412.0 989.8 412.0 989.8 412.5 989.8 412.5 989.8 413.0 989.8 413.0 989.8 413.4 989.8 413.5 989.8 413.9 989.8 414.0 989.8 414.5 989.8 414.6 989.8 415.0 989.8 415.0 989.8 415.5 989.8 415.5 989.8 416.0 989.8 416.0 989.8 416.4 989.8 416.5 989.8 417.0 989.8 417.1 989.8 417.5 989.8 417.5 989.8 418.0 989.8 418.0 989.8 418.5 989.8 418.5 989.8 419.0 989.8 419.0 989.8 419.4 989.8 419.5 989.8 420.0 989.8 420.1 989.8 420.5 989.8 420.5 989.8 421.0 989.8 421.0 989.8 421.5 989.8 421.5 989.8 422.0 989.7 422.0 989.7 422.4 989.7 422.5 989.7 423.0 989.5 423.1 989.5 423.5 989.2 423.5 989.2 424.0 988.7 424.0 988.6 424.5 987.7 424.5 987.5 425.0 985.9 425.0 985.6 425.4 983.0 425.5 982.5 426.0 977.7 426.1 976.9 426.5 970.3 426.5 969.1 427.0 959.6 427.0 957.9 427.5 944.7 427.5 942.5 428.0 925.0 428.0 922.2 428.4 900.3 428.5 896.8 429.0 866.7 429.1 862.6 429.5 832.9 429.5 828.5 430.0 797.3 430.0 792.8 430.5 762.4 430.5 758.2 431.0 731.2 431.0 727.7 431.4 706.7 431.5 704.2 432.0 690.3 432.1 689.3 432.4 687.1 432.5 687.5 432.5 687.9 433.0 696.0 433.0 697.8 433.5 714.9 433.5 717.9 434.0 742.2 434.0 746.1 434.4 775.2 434.5 779.5 435.0 815.2 435.1 819.6 435.5 850.2 435.5 854.4 436.0 882.3 436.0 886.1 436.5 910.2 436.5 913.3 436.9 933.0 437.0 935.5 437.4 950.8 437.5 952.7 438.0 965.4 438.1 966.7 438.5 974.3 438.5 975.2 439.0 980.4 439.0 981.0 439.5 984.3 439.5 984.6 439.9 986.7 440.0 986.9 440.5 988.2 440.6 988.3 441.0 989.0 441.1 989.0 441.5 989.4 441.5 989.4 442.0 989.6 442.0 989.6 442.5 989.7 442.5 989.7 442.9 989.8 443.0 989.8 443.5 989.8 443.6 989.8 444.0 989.8 444.0 989.8 444.5 989.8 444.5 989.8 445.0 989.8 445.0 989.8 445.5 989.8 445.5 989.8 445.9 989.8 446.0 989.8 446.5 989.8 446.6 989.8 447.0 989.8 447.0 989.8 447.5 989.8 447.5 989.8 448.0 989.8 448.0 989.8 448.5 989.8 448.5 989.8 448.9 989.8 449.0 989.8 449.5 989.8 449.6 989.8 450.0 989.8 450.0 989.8 450.5 989.8 450.5 989.8 451.0 989.8 451.0 989.8 451.5 989.8 451.5 989.8 451.9 989.8 452.0 989.8 452.5 989.8 452.6 989.8 453.0 989.8 453.0 989.8 453.4 989.8 453.5 989.8 453.5 989.8 453.7 989.8 454.0 989.8 454.0 989.8 454.5 989.8 454.5 989.8 454.9 989.8 455.0 989.8 455.5 989.8 455.6 989.8 456.0 989.8 456.0 989.8 456.5 989.8 456.5 989.8 457.0 989.8 457.0 989.8 457.5 989.8 457.5 989.8 457.9 989.8 458.0 989.8 458.5 989.8 458.6 989.8 459.0 989.8 459.0 989.8 459.5 989.8 459.5 989.8 460.0 989.8 460.0 989.8 460.5 989.8 460.5 989.8 460.9 989.8 461.0 989.8 461.5 989.8 461.6 989.8 462.0 989.8 462.0 989.8 462.5 989.8 462.5 989.8 463.0 989.8 463.0 989.8 463.4 989.8 463.5 989.8 463.9 989.8 464.0 989.8 464.5 989.8 464.6 989.8 465.0 989.8 465.0 989.8 465.5 989.8 465.5 989.8 466.0 989.8 466.0 989.8 466.4 989.8 466.5 989.8 467.0 989.8 467.1 989.8 467.5 989.8 467.5 989.8 468.0 989.8 468.0 989.8 468.5 989.8 468.5 989.8 469.0 989.8 469.0 989.8 469.4 989.8 469.5 989.8 470.0 989.8 470.1 989.8 470.5 989.8 470.5 989.8 471.0 989.8 471.0 989.8 471.5 989.8 471.5 989.8 472.0 989.8 472.0 989.8 472.4 989.8 472.5 989.8 473.0 989.8 473.1 989.8 473.5 989.8 473.5 989.8 474.0 989.8 474.0 989.8 474.5 989.8 474.5 989.8 475.0 989.8 475.0 989.8 475.4 989.8 475.5 989.8 476.0 989.8 476.1 989.8 476.5 989.8 476.5 989.8 477.0 989.8 477.0 989.8 477.5 989.8 477.5 989.8 478.0 989.8 478.0 989.8 478.4 989.8 478.5 989.8 479.0 989.8 479.1 989.8 479.5 989.8 479.5 989.8 480.0 989.8 480.0 989.8 480.5 989.8 480.5 989.8 481.0 989.8 481.0 989.8 481.4 989.8 481.5 989.8 482.0 989.8 482.1 989.8 482.5 989.8 482.5 989.8 483.0 989.8 483.0 989.8 483.5 989.8 483.5 989.8 484.0 989.8 484.0 989.8 484.4 989.8 484.5 989.8 485.0 989.8 485.1 989.8 485.5 989.8 485.5 989.8 486.0 989.8 486.0 989.8 486.5 989.8 486.5 989.8 487.0 989.8 487.0 989.8 487.4 989.8 487.5 989.8 488.0 989.8 488.1 989.8 488.5 989.8 488.5 989.8 489.0 989.8 489.0 989.8 489.5 989.8 489.5 989.8 489.9 989.8 490.0 989.8 490.4 989.8 490.5 989.8 491.0 989.8 491.1 989.8 491.5 989.8 491.5 989.8 492.0 989.8 492.0 989.8 492.5 989.8 492.5 989.8 492.9 989.8 493.0 989.8 493.5 989.8 493.6 989.8 494.0 989.8 494.0 989.8 494.5 989.8 494.5 989.8 495.0 989.8 495.0 989.8 495.5 989.8 495.5 989.8 495.9 989.8 496.0 989.8 496.5 989.8 496.6 989.8 497.0 989.8 497.0 989.8 497.5 989.8 497.5 989.8 498.0 989.8 498.0 989.8 498.5 989.8 498.5 989.8 498.9 989.8 499.0 989.8 499.5 989.8 499.6 989.8 500.0 989.8 500.0 989.8 500.5 989.8 500.5 989.8 501.0 989.8 501.0 989.8 501.5 989.8 501.5 989.8 501.9 989.8 502.0 989.8 502.5 989.8 502.6 989.8 503.0 989.8 503.0 989.8 503.5 989.8 503.5 989.8 504.0 989.8 504.0 989.8 504.5 989.8 504.5 989.8 504.9 989.8 505.0 989.8 505.5 989.8 505.6 989.8 506.0 989.8 506.0 989.8 506.5 989.8 506.5 989.8 507.0 989.8 507.0 989.8 507.5 989.8 507.5 989.8 507.9 989.8 508.0 989.8 508.5 989.8 508.6 989.8 509.0 989.8 509.0 989.8 509.5 989.8 509.5 989.8 510.0 989.8 510.0 989.8 510.5 989.8 510.5 989.8 510.9 989.8 511.0 989.8 511.5 989.8 511.6 989.8 512.0 989.8 512.0 989.8 512.5 989.8 512.5 989.8 513.0 989.8 513.0 989.8 513.5 989.8 513.5 989.8 513.9 989.8 514.0 989.8 514.5 989.8 514.6 989.8 515.0 989.8 515.0 989.8 515.5 989.8 515.5 989.8 516.0 989.8 516.0 989.8 516.4 989.8 516.5 989.8 517.0 989.8 517.1 989.8 517.5 989.8 517.6 989.8 518.0 989.8 518.0 989.8 518.5 989.8 518.5 989.8 519.0 989.8 519.0 989.8 519.4 989.8 519.5 989.8 520.0 989.8 520.1 989.8 520.5 989.8 520.5 989.8 521.0 989.8 521.0 989.8 521.5 989.8 521.5 989.8 522.0 989.8 522.0 989.8 522.4 989.8 522.5 989.8 523.0 989.8 523.1 989.8 523.5 989.8 523.5 989.8 524.0 989.8 524.0 989.8 524.5 989.8 524.5 989.8 525.0 989.8 525.0 989.8 525.4 989.8 525.5 989.8 526.0 989.8 526.1 989.8 526.5 989.8 526.5 989.8 527.0 989.8 527.0 989.8 527.5 989.8 527.5 989.8 528.0 989.8 528.0 989.8 528.3 989.8 528.4 989.8 528.5 989.8 529.0 989.8 529.1 989.8 529.5 989.8 529.5 989.8 530.0 989.8 530.0 989.8 530.5 989.8 530.5 989.8 531.0 989.8 531.0 989.8 531.4 989.8 531.5 989.8 532.0 989.8 532.1 989.8 532.5 989.8 532.5 989.8 533.0 989.8 533.0 989.8 533.5 989.8 533.5 989.8 534.0 989.8 534.0 989.8 534.4 989.8 534.5 989.8 535.0 989.8 535.1 989.8 535.5 989.8 535.5 989.8 536.0 989.8 536.0 989.8 536.5 989.8 536.5 989.8 537.0 989.8 537.0 989.8 537.4 989.8 537.5 989.8 538.0 989.8 538.1 989.8 538.5 989.8 538.5 989.8 539.0 989.8 539.0 989.8 539.5 989.7 539.5 989.7 539.9 989.6 540.0 989.6 540.4 989.4 540.5 989.4 541.0 988.9 541.1 988.8 541.5 988.1 541.5 988.0 542.0 986.7 542.0 986.4 542.5 984.3 542.5 983.9 542.9 980.4 543.0 979.8 543.5 973.4 543.6 972.4 544.0 964.0 544.0 962.6 544.5 950.8 544.5 948.8 545.0 933.0 545.0 930.4 545.5 910.2 545.5 906.9 545.9 882.3 546.0 878.5 546.5 845.9 546.6 841.6 547.0 810.7 547.0 806.2 547.5 775.2 547.5 770.9 548.0 742.2 548.0 738.5 548.5 714.9 548.5 712.0 548.9 696.0 549.0 694.3 549.5 687.2 549.6 687.1 550.0 691.5 550.0 692.8 550.5 706.7 550.5 709.3 551.0 731.2 551.0 734.8 551.5 762.4 551.5 766.6 551.9 797.3 552.0 801.7 552.5 837.3 552.6 841.6 553.0 870.7 553.0 874.6 553.5 900.3 553.5 903.7 554.0 925.0 554.0 927.8 554.5 944.7 554.5 946.8 554.9 959.6 555.0 961.1 555.5 971.4 555.6 972.4 556.0 978.4 556.0 979.1 556.5 983.0 556.5 983.5 557.0 985.9 557.0 986.2 557.5 987.7 557.5 987.8 557.9 988.7 558.0 988.8 558.5 989.3 558.6 989.3 559.0 989.5 559.0 989.6 559.5 989.7 559.5 989.7 560.0 989.7 560.0 989.7 560.5 989.8 560.5 989.8 560.9 989.8 561.0 989.8 561.5 989.8 561.6 989.8 562.0 989.8 562.0 989.8 562.5 989.8 562.5 989.8 563.0 989.8 563.0 989.8 563.5 989.8 563.5 989.8 563.9 989.8 564.0 989.8 564.5 989.8 564.6 989.8 565.0 989.8 565.0 989.8 565.5 989.8 565.5 989.8 566.0 989.8 566.0 989.8 566.4 989.8 566.5 989.8 566.9 989.8 567.0 989.8 567.5 989.8 567.6 989.8 568.0 989.8 568.0 989.8 568.5 989.8 568.5 989.8 569.0 989.8 569.0 989.8 569.4 989.8 569.5 989.8 570.0 989.8 570.1 989.8 570.5 989.8 570.5 989.8 570.9 989.8 571.0 989.8 571.0 989.8 571.5 989.8 571.5 989.8 572.0 989.8 572.0 989.8 572.4 989.8 572.5 989.8 573.0 989.8 573.1 989.8 573.5 989.8 573.5 989.8 574.0 989.8 574.0 989.8 574.5 989.8 574.5 989.8 575.0 989.8 575.0 989.8 575.4 989.8 575.5 989.8 576.0 989.8 576.1 989.8 576.5 989.8 576.5 989.8 577.0 989.8 577.0 989.8 577.5 989.8 577.5 989.8 578.0 989.8 578.0 989.8 578.4 989.8 578.5 989.8 579.0 989.8 579.1 989.8 579.5 989.8 579.5 989.8 580.0 989.8 580.0 989.8 580.5 989.8 580.5 989.8 581.0 989.8 581.0 989.8 581.4 989.8 581.5 989.8 582.0 989.8 582.1 989.8 582.5 989.8 582.5 989.8 583.0 989.8 583.0 989.8 583.5 989.8 583.5 989.8 584.0 989.8 584.0 989.8 584.4 989.8 584.5 989.8 585.0 989.8 585.1 989.8 585.5 989.8 585.5 989.8 586.0 989.8 586.0 989.8 586.5 989.8 586.5 989.8 587.0 989.8 587.0 989.8 587.4 989.8 587.5 989.8 588.0 989.8 588.1 989.8 588.5 989.8 588.5 989.8 589.0 989.8 589.0 989.8 589.5 989.8 589.5 989.8 590.0 989.8 590.0 989.8 590.4 989.8 590.5 989.8 591.0 989.8 591.1 989.8 591.5 989.8 591.5 989.8 592.0 989.8 592.0 989.8 592.5 989.8 592.5 989.8 592.9 989.8 593.0 989.8 593.5 989.8 593.6 989.8 594.0 989.8 594.1 989.8 594.5 989.8 594.5 989.8 595.0 989.8 595.0 989.8 595.5 989.8 595.5 989.8 595.9 989.8 596.0 989.8 596.5 989.8 596.6 989.8 597.0 989.8 597.0 989.8 597.5 989.8 597.5 989.8 598.0 989.8 598.0 989.8 598.5 989.8 598.5 989.8 598.9 989.8 599.0 989.8 599.5 989.8 599.6 989.8 600.0 989.8 600.0 989.8 600.5 989.8 600.5 989.8 601.0 989.8 601.0 989.8 601.5 989.8 601.5 989.8 601.9 989.8 602.0 989.8 602.5 989.8 602.6 989.8 603.0 989.8 603.0 989.8 603.5 989.8 603.5 989.8 604.0 989.8 604.0 989.8 604.5 989.8 604.5 989.8 604.9 989.8 605.0 989.8 605.5 989.8 605.6 989.8 606.0 989.8 606.0 989.8 606.5 989.8 606.5 989.8 607.0 989.8 607.0 989.8 607.5 989.8 607.5 989.8 607.9 989.8 608.0 989.8 608.5 989.8 608.6 989.8 609.0 989.8 609.0 989.8 609.5 989.8 609.5 989.8 610.0 989.8 610.0 989.8 610.5 989.8 610.5 989.8 610.9 989.8 611.0 989.8 611.5 989.8 611.6 989.8 612.0 989.8 612.0 989.8 612.5 989.8 612.5 989.8 613.0 989.8 613.0 989.8 613.5 989.8 613.5 989.8 613.9 989.8 614.0 989.8 614.5 989.8 614.6 989.8 615.0 989.8 615.0 989.8 615.5 989.8 615.5 989.8 616.0 989.8 616.0 989.8 616.4 989.8 616.5 989.8 616.9 989.8 617.0 989.8 617.5 989.8 617.6 989.8 618.0 989.8 618.0 989.8 618.5 989.8 618.5 989.8 619.0 989.8 619.0 989.8 619.4 989.8 619.5 989.8 620.0 989.8 620.1 989.8 620.5 989.8 620.5 989.8 621.0 989.8 621.0 989.8 621.5 989.8 621.5 989.8 622.0 989.8 622.0 989.8 622.4 989.8 622.5 989.8 623.0 989.8 623.1 989.8 623.5 989.8 623.5 989.8 624.0 989.8 624.0 989.8 624.5 989.8 624.5 989.8 625.0 989.8 625.0 989.8 625.4 989.8 625.5 989.8 626.0 989.8 626.1 989.8 626.5 989.8 626.5 989.8 627.0 989.8 627.0 989.8 627.5 989.8 627.5 989.8 628.0 989.8 628.0 989.8 628.4 989.8 628.5 989.8 629.0 989.8 629.1 989.8 629.5 989.8 629.5 989.8 630.0 989.8 630.0 989.8 630.5 989.8 630.5 989.8 631.0 989.8 631.0 989.8 631.4 989.8 631.5 989.8 632.0 989.8 632.1 989.8 632.5 989.8 632.5 989.8 633.0 989.8 633.0 989.8 633.5 989.8 633.5 989.8 634.0 989.8 634.0 989.8 634.4 989.8 634.5 989.8 635.0 989.8 635.1 989.8 635.5 989.8 635.5 989.8 636.0 989.8 636.0 989.8 636.5 989.8 636.5 989.8 637.0 989.8 637.0 989.8 637.4 989.8 637.5 989.8 638.0 989.8 638.1 989.8 638.5 989.8 638.5 989.8 639.0 989.8 639.0 989.8 639.5 989.8 639.5 989.8 640.0 989.8 640.0 989.8 640.4 989.8 640.5 989.8 641.0 989.8 641.1 989.8 641.5 989.8 641.5 989.8 642.0 989.8 642.0 989.8 642.5 989.8 642.5 989.8 642.9 989.8 643.0 989.8 643.4 989.8 643.5 989.8 644.0 989.8 644.1 989.8 644.5 989.8 644.5 989.8 645.0 989.8 645.0 989.8 645.5 989.8 645.5 989.8 645.9 989.8 646.0 989.8 646.5 989.8 646.6 989.8 647.0 989.8 647.0 989.8 647.5 989.8 647.5 989.8 648.0 989.8 648.0 989.8 648.5 989.8 648.5 989.8 648.9 989.8 649.0 989.8 649.5 989.8 649.6 989.8 650.0 989.8 650.0 989.8 650.5 989.8 650.5 989.8 651.0 989.8 651.0 989.8 651.5 989.8 651.5 989.8 651.9 989.8 652.0 989.8 652.5 989.8 652.6 989.8 652.7 989.8" fill="none" stroke="#0066cc" stroke-width="3.9" stroke-linejoin="round" stroke-linecap="butt" clip-path="url(#clipb)"/>
<rect x="120.1" y="567.2" width="526.4" height="425.5" fill="none" stroke="#000" stroke-width="2.5" stroke-linejoin="miter"/>
<line x1="138.6" y1="992.7" x2="138.6" y2="1001.75" stroke="#000" stroke-width="2.4"/>
<text x="138.6" y="1037.7" font-size="40" text-anchor="middle" textLength="50.12" lengthAdjust="spacingAndGlyphs">-40</text>
<line x1="261" y1="992.7" x2="261" y2="1001.75" stroke="#000" stroke-width="2.4"/>
<text x="261" y="1037.7" font-size="40" text-anchor="middle" textLength="50.12" lengthAdjust="spacingAndGlyphs">-20</text>
<line x1="383.4" y1="992.7" x2="383.4" y2="1001.75" stroke="#000" stroke-width="2.4"/>
<text x="383.4" y="1037.7" font-size="40" text-anchor="middle" textLength="18.8" lengthAdjust="spacingAndGlyphs">0</text>
<line x1="505.8" y1="992.7" x2="505.8" y2="1001.75" stroke="#000" stroke-width="2.4"/>
<text x="505.8" y="1037.7" font-size="40" text-anchor="middle" textLength="37.6" lengthAdjust="spacingAndGlyphs">20</text>
<line x1="628.2" y1="992.7" x2="628.2" y2="1001.75" stroke="#000" stroke-width="2.4"/>
<text x="628.2" y="1037.7" font-size="40" text-anchor="middle" textLength="37.6" lengthAdjust="spacingAndGlyphs">40</text>
<line x1="111.05" y1="989.8" x2="120.1" y2="989.8" stroke="#000" stroke-width="2.4"/>
<text x="105.9" y="1002.6" font-size="40" text-anchor="end" textLength="18.8" lengthAdjust="spacingAndGlyphs">0</text>
<line x1="111.05" y1="838.45" x2="120.1" y2="838.45" stroke="#000" stroke-width="2.4"/>
<text x="105.9" y="851.25" font-size="40" text-anchor="end" textLength="47" lengthAdjust="spacingAndGlyphs">0.5</text>
<line x1="111.05" y1="687.1" x2="120.1" y2="687.1" stroke="#000" stroke-width="2.4"/>
<text x="105.9" y="699.9" font-size="40" text-anchor="end" textLength="18.8" lengthAdjust="spacingAndGlyphs">1</text>
<text x="391.8" y="1074.7" font-size="40" text-anchor="middle">Time (ps)</text>
<text x="0" y="0" font-size="40" text-anchor="middle" transform="translate(46.6 779.95) rotate(-90)">Intensity (a.u.)</text>
<clipPath id="clipd"><rect x="810.9" y="567.2" width="527.5" height="425.1"/></clipPath>
<path d="M804.9 989.2 804.9 989.2 805.0 989.2 805.4 989.2 805.5 989.2 806.0 989.2 806.1 989.2 806.5 989.2 806.5 989.2 807.0 989.2 807.0 989.2 807.5 989.2 807.5 989.2 807.9 989.2 808.0 989.2 808.4 989.2 808.5 989.2 809.0 989.2 809.1 989.2 809.5 989.2 809.5 989.2 810.0 989.2 810.0 989.2 810.5 989.2 810.5 989.2 810.9 989.2 811.0 989.2 811.4 989.2 811.5 989.2 812.0 989.2 812.1 989.2 812.5 989.2 812.5 989.2 813.0 989.2 813.0 989.2 813.5 989.2 813.5 989.2 814.0 989.2 814.0 989.2 814.4 989.2 814.5 989.2 815.0 989.2 815.1 989.2 815.5 989.2 815.5 989.2 816.0 989.2 816.0 989.2 816.5 989.2 816.5 989.2 817.0 989.2 817.0 989.2 817.4 989.2 817.5 989.2 818.0 989.2 818.1 989.2 818.5 989.2 818.5 989.2 819.0 989.2 819.0 989.2 819.5 989.2 819.5 989.2 820.0 989.2 820.0 989.2 820.4 989.2 820.5 989.2 821.0 989.2 821.1 989.2 821.5 989.2 821.5 989.2 822.0 989.2 822.0 989.2 822.5 989.2 822.5 989.2 823.0 989.2 823.0 989.2 823.4 989.2 823.5 989.2 824.0 989.2 824.1 989.2 824.5 989.2 824.5 989.2 825.0 989.2 825.0 989.2 825.5 989.2 825.5 989.2 826.0 989.2 826.0 989.2 826.4 989.2 826.5 989.2 827.0 989.2 827.1 989.2 827.5 989.2 827.5 989.2 828.0 989.2 828.0 989.2 828.5 989.2 828.5 989.2 829.0 989.2 829.0 989.2 829.4 989.2 829.5 989.2 830.0 989.2 830.1 989.2 830.5 989.2 830.5 989.2 831.0 989.2 831.0 989.2 831.5 989.2 831.5 989.2 832.0 989.2 832.0 989.2 832.4 989.2 832.5 989.2 833.0 989.2 833.1 989.2 833.5 989.2 833.5 989.2 834.0 989.2 834.0 989.2 834.5 989.2 834.5 989.2 835.0 989.2 835.0 989.2 835.4 989.2 835.5 989.2 836.0 989.2 836.1 989.2 836.5 989.2 836.5 989.2 837.0 989.2 837.0 989.2 837.5 989.2 837.5 989.2 838.0 989.2 838.0 989.2 838.4 989.2 838.5 989.2 839.0 989.2 839.1 989.2 839.5 989.2 839.5 989.2 840.0 989.2 840.0 989.2 840.5 989.2 840.5 989.2 841.0 989.2 841.0 989.2 841.4 989.2 841.5 989.2 842.0 989.2 842.1 989.2 842.5 989.2 842.5 989.2 843.0 989.2 843.0 989.2 843.5 989.2 843.5 989.2 844.0 989.2 844.0 989.2 844.4 989.2 844.5 989.2 845.0 989.2 845.1 989.2 845.5 989.2 845.5 989.2 846.0 989.2 846.0 989.2 846.5 989.2 846.5 989.2 847.0 989.2 847.0 989.2 847.4 989.2 847.5 989.2 848.0 989.2 848.1 989.2 848.5 989.2 848.5 989.2 849.0 989.2 849.0 989.2 849.5 989.2 849.5 989.2 850.0 989.2 850.0 989.2 850.4 989.2 850.5 989.2 851.0 989.2 851.1 989.2 851.5 989.2 851.5 989.2 852.0 989.2 852.0 989.2 852.5 989.2 852.5 989.2 853.0 989.2 853.0 989.2 853.4 989.2 853.5 989.2 854.0 989.2 854.1 989.2 854.5 989.2 854.5 989.2 855.0 989.2 855.0 989.2 855.5 989.2 855.5 989.2 856.0 989.2 856.0 989.2 856.4 989.2 856.5 989.2 856.9 989.2 857.0 989.2 857.1 989.2 857.5 989.2 857.5 989.2 858.0 989.2 858.0 989.2 858.5 989.2 858.5 989.2 859.0 989.2 859.0 989.2 859.4 989.2 859.5 989.2 860.0 989.2 860.1 989.2 860.5 989.2 860.5 989.2 861.0 989.2 861.0 989.2 861.5 989.2 861.5 989.2 862.0 989.2 862.0 989.2 862.4 989.2 862.5 989.2 863.0 989.2 863.1 989.2 863.5 989.2 863.5 989.2 864.0 989.2 864.0 989.2 864.5 989.2 864.5 989.2 865.0 989.2 865.0 989.2 865.4 989.2 865.5 989.2 866.0 989.2 866.1 989.2 866.5 989.2 866.5 989.2 867.0 989.2 867.0 989.2 867.5 989.2 867.5 989.2 868.0 989.1 868.0 989.1 868.4 989.1 868.5 989.0 869.0 988.9 869.1 988.8 869.5 988.5 869.5 988.5 870.0 987.9 870.0 987.8 870.5 986.7 870.5 986.5 871.0 984.7 871.0 984.4 871.4 981.5 871.5 980.9 872.0 975.5 872.1 974.7 872.5 967.4 872.5 966.2 873.0 955.8 873.0 954.0 873.5 939.8 873.5 937.5 874.0 918.9 874.0 916.0 874.4 893.0 874.5 889.4 875.0 858.3 875.1 854.2 875.5 824.0 875.5 819.5 876.0 788.3 876.0 783.9 876.5 754.2 876.5 750.2 877.0 724.5 877.0 721.3 877.4 702.2 877.5 700.1 878.0 688.8 878.1 688.2 878.2 687.4 878.5 688.8 878.5 689.6 879.0 700.1 879.0 702.2 879.5 721.3 879.5 724.5 880.0 750.2 880.0 754.2 880.4 783.9 880.5 788.3 881.0 824.0 881.1 828.4 881.5 858.3 881.5 862.4 882.0 889.4 882.0 893.0 882.5 916.0 882.5 918.9 883.0 937.5 883.0 939.8 883.4 954.0 883.5 955.8 884.0 967.4 884.1 968.6 884.5 975.5 884.5 976.3 885.0 980.9 885.0 981.5 885.5 984.4 885.5 984.7 886.0 986.5 886.0 986.7 886.4 987.8 886.5 987.9 887.0 988.5 887.1 988.6 887.5 988.9 887.5 988.9 888.0 989.0 888.0 989.1 888.5 989.1 888.5 989.1 889.0 989.2 889.0 989.2 889.4 989.2 889.5 989.2 890.0 989.2 890.1 989.2 890.5 989.2 890.5 989.2 891.0 989.2 891.0 989.2 891.5 989.2 891.5 989.2 892.0 989.2 892.0 989.2 892.4 989.2 892.5 989.2 893.0 989.2 893.1 989.2 893.5 989.2 893.5 989.2 894.0 989.2 894.0 989.2 894.5 989.2 894.5 989.2 895.0 989.2 895.0 989.2 895.4 989.2 895.5 989.2 896.0 989.2 896.1 989.2 896.5 989.2 896.5 989.2 897.0 989.2 897.0 989.2 897.5 989.2 897.5 989.2 898.0 989.2 898.0 989.2 898.4 989.2 898.5 989.2 899.0 989.2 899.1 989.2 899.3 989.2 899.5 989.2 899.5 989.2 899.6 989.2 900.0 989.2 900.0 989.2 900.5 989.2 900.5 989.2 901.0 989.2 901.0 989.2 901.4 989.2 901.5 989.2 902.0 989.2 902.1 989.2 902.5 989.2 902.5 989.2 903.0 989.2 903.0 989.2 903.5 989.2 903.5 989.2 904.0 989.2 904.0 989.2 904.4 989.2 904.5 989.2 905.0 989.2 905.1 989.2 905.5 989.2 905.6 989.2 906.0 989.2 906.0 989.2 906.5 989.2 906.5 989.2 907.0 989.2 907.0 989.2 907.4 989.2 907.5 989.2 908.0 989.2 908.1 989.2 908.5 989.2 908.6 989.2 909.0 989.2 909.0 989.2 909.5 989.2 909.5 989.2 910.0 989.2 910.0 989.2 910.4 989.2 910.5 989.2 911.0 989.2 911.1 989.2 911.5 989.2 911.6 989.2 911.9 989.2 912.0 989.2 912.0 989.2 912.5 989.2 912.5 989.2 913.0 989.2 913.0 989.2 913.4 989.2 913.5 989.2 914.0 989.2 914.1 989.2 914.5 989.2 914.6 989.2 915.0 989.2 915.0 989.2 915.5 989.2 915.5 989.2 916.0 989.2 916.0 989.2 916.4 989.2 916.5 989.2 916.9 989.2 917.0 989.2 917.5 989.2 917.6 989.2 918.0 989.2 918.0 989.2 918.5 989.2 918.5 989.2 919.0 989.2 919.0 989.2 919.4 989.2 919.5 989.2 919.9 989.2 920.0 989.2 920.5 989.2 920.6 989.2 921.0 989.2 921.0 989.2 921.5 989.2 921.5 989.2 922.0 989.2 922.0 989.2 922.4 989.2 922.5 989.2 922.9 989.1 923.0 989.1 923.5 989.0 923.6 989.0 924.0 988.8 924.0 988.8 924.5 988.5 924.5 988.4 925.0 987.8 925.0 987.6 925.4 986.5 925.5 986.3 925.9 984.4 926.0 984.1 926.5 980.4 926.6 979.8 927.0 974.7 927.0 973.8 927.5 966.2 927.5 964.9 928.0 954.0 928.0 952.2 928.5 937.5 928.5 935.1 928.9 916.0 929.0 912.9 929.5 885.8 929.6 882.0 930.0 854.2 930.0 850.0 930.5 819.5 930.5 815.1 931.0 783.9 931.0 779.6 931.5 750.2 931.5 746.2 931.9 721.3 932.0 718.1 932.5 698.1 932.6 696.2 933.0 688.2 933.0 687.8 933.2 687.4 933.5 689.6 933.5 690.6 934.0 702.2 934.0 704.5 934.5 724.5 934.5 727.9 934.9 754.2 935.0 758.3 935.5 792.8 935.6 797.2 936.0 828.4 936.0 832.8 936.5 862.4 936.5 866.5 937.0 893.0 937.0 896.5 937.5 918.9 937.5 921.8 937.9 939.8 938.0 942.0 938.5 957.4 938.6 959.0 939.0 968.6 939.0 969.7 939.5 976.3 939.5 977.1 940.0 981.5 940.0 982.0 940.5 984.7 940.5 985.0 940.9 986.7 941.0 986.9 941.5 988.0 941.6 988.1 942.0 988.6 942.0 988.6 942.5 988.9 942.5 988.9 943.0 989.1 943.0 989.1 943.5 989.1 943.5 989.1 943.9 989.2 944.0 989.2 944.5 989.2 944.6 989.2 945.0 989.2 945.0 989.2 945.5 989.2 945.5 989.2 946.0 989.2 946.0 989.2 946.5 989.2 946.5 989.2 946.9 989.2 947.0 989.2 947.5 989.2 947.6 989.2 948.0 989.2 948.0 989.2 948.5 989.2 948.5 989.2 949.0 989.2 949.0 989.2 949.5 989.2 949.5 989.2 949.9 989.2 950.0 989.2 950.5 989.2 950.6 989.2 951.0 989.2 951.0 989.2 951.5 989.2 951.5 989.2 952.0 989.2 952.0 989.2 952.5 989.2 952.5 989.2 952.9 989.2 953.0 989.2 953.5 989.2 953.6 989.2 954.0 989.2 954.0 989.2 954.2 989.2 954.5 989.2 954.5 989.2 955.0 989.2 955.0 989.2 955.5 989.2 955.5 989.2 955.9 989.2 956.0 989.2 956.5 989.2 956.6 989.2 957.0 989.2 957.0 989.2 957.5 989.2 957.5 989.2 958.0 989.2 958.0 989.2 958.5 989.2 958.5 989.2 958.9 989.2 959.0 989.2 959.5 989.2 959.6 989.2 960.0 989.2 960.0 989.2 960.5 989.2 960.5 989.2 961.0 989.2 961.0 989.2 961.5 989.2 961.5 989.2 961.9 989.2 962.0 989.2 962.5 989.2 962.6 989.2 963.0 989.2 963.0 989.2 963.5 989.2 963.5 989.2 964.0 989.2 964.0 989.2 964.5 989.2 964.5 989.2 964.9 989.2 965.0 989.2 965.5 989.2 965.6 989.2 966.0 989.2 966.0 989.2 966.5 989.2 966.5 989.2 967.0 989.2 967.0 989.2 967.5 989.2 967.5 989.2 967.9 989.2 968.0 989.2 968.5 989.2 968.6 989.2 969.0 989.2 969.0 989.2 969.5 989.2 969.5 989.2 970.0 989.2 970.0 989.2 970.5 989.2 970.5 989.2 970.9 989.2 971.0 989.2 971.5 989.2 971.6 989.2 972.0 989.2 972.0 989.2 972.5 989.2 972.5 989.2 973.0 989.2 973.0 989.2 973.5 989.2 973.5 989.2 973.9 989.2 974.0 989.2 974.5 989.2 974.6 989.2 975.0 989.2 975.0 989.2 975.5 989.2 975.5 989.2 976.0 989.2 976.0 989.2 976.5 989.2 976.5 989.2 976.9 989.2 977.0 989.2 977.5 989.2 977.6 989.2 978.0 989.2 978.0 989.2 978.5 989.2 978.5 989.2 979.0 989.2 979.0 989.2 979.5 989.2 979.5 989.2 979.9 989.2 980.0 989.2 980.5 989.2 980.6 989.2 981.0 989.2 981.0 989.2 981.5 989.2 981.5 989.2 982.0 989.2 982.0 989.2 982.5 989.2 982.5 989.2 982.9 989.2 983.0 989.2 983.5 989.2 983.6 989.2 984.0 989.2 984.0 989.2 984.5 989.2 984.5 989.2 985.0 989.2 985.0 989.2 985.5 989.2 985.5 989.2 985.9 989.2 986.0 989.2 986.5 989.2 986.6 989.2 987.0 989.2 987.0 989.2 987.5 989.2 987.5 989.2 988.0 989.2 988.0 989.2 988.5 989.2 988.5 989.2 988.9 989.2 989.0 989.2 989.5 989.2 989.6 989.2 990.0 989.2 990.0 989.2 990.5 989.2 990.5 989.2 991.0 989.2 991.0 989.2 991.5 989.2 991.5 989.2 991.9 989.2 992.0 989.2 992.5 989.2 992.6 989.2 993.0 989.2 993.0 989.2 993.5 989.2 993.5 989.2 994.0 989.2 994.0 989.2 994.5 989.2 994.5 989.2 994.9 989.2 995.0 989.2 995.5 989.2 995.6 989.2 996.0 989.2 996.0 989.2 996.5 989.2 996.5 989.2 997.0 989.2 997.0 989.2 997.5 989.2 997.5 989.2 997.9 989.2 998.0 989.2 998.5 989.2 998.6 989.2 999.0 989.2 999.0 989.2 999.5 989.2 999.5 989.2 1000.0 989.2 1000.0 989.2 1000.5 989.2 1000.5 989.2 1000.9 989.2 1001.0 989.2 1001.5 989.2 1001.6 989.2 1002.0 989.2 1002.0 989.2 1002.5 989.2 1002.5 989.2 1003.0 989.2 1003.0 989.2 1003.5 989.2 1003.5 989.2 1003.9 989.2 1004.0 989.2 1004.5 989.2 1004.6 989.2 1005.0 989.2 1005.0 989.2 1005.5 989.2 1005.5 989.2 1006.0 989.2 1006.0 989.2 1006.5 989.2 1006.5 989.2 1006.9 989.2 1007.0 989.2 1007.5 989.2 1007.6 989.2 1008.0 989.2 1008.0 989.2 1008.5 989.2 1008.5 989.2 1009.0 989.2 1009.0 989.2 1009.5 989.2 1009.5 989.2 1009.9 989.2 1010.0 989.2 1010.5 989.2 1010.6 989.2 1011.0 989.2 1011.0 989.2 1011.5 989.2 1011.5 989.2 1012.0 989.2 1012.0 989.2 1012.5 989.2 1012.5 989.2 1012.9 989.2 1013.0 989.2 1013.5 989.2 1013.6 989.2 1014.0 989.2 1014.0 989.2 1014.5 989.2 1014.5 989.2 1015.0 989.2 1015.0 989.2 1015.5 989.2 1015.5 989.2 1015.9 989.2 1016.0 989.2 1016.5 989.2 1016.6 989.2 1017.0 989.2 1017.0 989.2 1017.5 989.2 1017.5 989.2 1018.0 989.2 1018.0 989.2 1018.5 989.2 1018.5 989.2 1018.9 989.2 1019.0 989.2 1019.5 989.2 1019.6 989.2 1020.0 989.2 1020.1 989.2 1020.5 989.2 1020.5 989.2 1021.0 989.2 1021.0 989.2 1021.5 989.2 1021.5 989.2 1021.9 989.2 1022.0 989.2 1022.5 989.2 1022.6 989.2 1023.0 989.2 1023.1 989.2 1023.5 989.2 1023.5 989.2 1024.0 989.2 1024.0 989.2 1024.5 989.2 1024.5 989.2 1024.9 989.2 1025.0 989.2 1025.5 989.2 1025.6 989.2 1026.0 989.2 1026.1 989.2 1026.5 989.2 1026.5 989.2 1027.0 989.2 1027.0 989.2 1027.5 989.2 1027.5 989.2 1027.9 989.2 1028.0 989.2 1028.5 989.2 1028.6 989.2 1029.0 989.2 1029.1 989.2 1029.5 989.2 1029.5 989.2 1030.0 989.2 1030.0 989.2 1030.5 989.2 1030.5 989.2 1030.9 989.2 1031.0 989.2 1031.4 989.2 1031.5 989.2 1032.0 989.2 1032.1 989.2 1032.5 989.2 1032.5 989.2 1033.0 989.2 1033.0 989.2 1033.5 989.2 1033.5 989.2 1033.9 989.2 1034.0 989.2 1034.4 989.2 1034.5 989.2 1035.0 989.2 1035.1 989.2 1035.5 989.2 1035.5 989.2 1036.0 989.2 1036.0 989.2 1036.5 989.2 1036.5 989.2 1036.9 989.2 1037.0 989.2 1037.4 989.2 1037.5 989.2 1038.0 989.2 1038.1 989.2 1038.5 989.2 1038.5 989.2 1039.0 989.2 1039.0 989.2 1039.5 989.2 1039.5 989.2 1039.9 989.2 1040.0 989.2 1040.4 989.2 1040.5 989.2 1041.0 989.2 1041.1 989.2 1041.5 989.2 1041.5 989.2 1042.0 989.2 1042.0 989.2 1042.5 989.2 1042.5 989.2 1043.0 989.2 1043.0 989.2 1043.4 989.2 1043.5 989.2 1044.0 989.2 1044.1 989.2 1044.5 989.2 1044.5 989.2 1045.0 989.2 1045.0 989.2 1045.5 989.2 1045.5 989.2 1046.0 989.2 1046.0 989.2 1046.4 989.2 1046.5 989.2 1047.0 989.2 1047.1 989.2 1047.5 989.2 1047.5 989.2 1048.0 989.2 1048.0 989.2 1048.5 989.2 1048.5 989.2 1049.0 989.2 1049.0 989.2 1049.4 989.2 1049.5 989.2 1050.0 989.2 1050.1 989.2 1050.5 989.2 1050.5 989.2 1051.0 989.2 1051.0 989.2 1051.5 989.2 1051.5 989.2 1052.0 989.2 1052.0 989.2 1052.4 989.2 1052.5 989.2 1053.0 989.2 1053.1 989.2 1053.5 989.2 1053.5 989.2 1054.0 989.2 1054.0 989.2 1054.5 989.2 1054.5 989.2 1055.0 989.2 1055.0 989.2 1055.4 989.2 1055.5 989.2 1056.0 989.2 1056.1 989.2 1056.5 989.2 1056.5 989.2 1057.0 989.2 1057.0 989.2 1057.3 989.2 1057.5 989.2 1057.5 989.2 1058.0 989.2 1058.0 989.2 1058.4 989.2 1058.5 989.2 1059.0 989.2 1059.1 989.2 1059.5 989.2 1059.5 989.2 1060.0 989.2 1060.0 989.2 1060.5 989.2 1060.5 989.2 1061.0 989.2 1061.0 989.2 1061.4 989.2 1061.5 989.2 1062.0 989.2 1062.1 989.2 1062.5 989.2 1062.5 989.2 1063.0 989.2 1063.0 989.2 1063.5 989.2 1063.5 989.2 1064.0 989.2 1064.0 989.2 1064.4 989.2 1064.5 989.2 1065.0 989.2 1065.1 989.2 1065.5 989.2 1065.5 989.2 1066.0 989.2 1066.0 989.2 1066.5 989.2 1066.5 989.2 1067.0 989.2 1067.0 989.2 1067.4 989.2 1067.5 989.2 1068.0 989.2 1068.1 989.2 1068.5 989.1 1068.5 989.1 1069.0 989.0 1069.0 989.0 1069.5 988.8 1069.5 988.8 1070.0 988.4 1070.0 988.3 1070.4 987.6 1070.5 987.5 1071.0 986.1 1071.1 985.8 1071.5 983.7 1071.5 983.3 1072.0 979.8 1072.0 979.2 1072.5 973.8 1072.5 972.8 1073.0 964.9 1073.0 963.5 1073.4 952.2 1073.5 950.3 1074.0 932.6 1074.1 930.0 1074.5 909.8 1074.5 906.6 1075.0 882.0 1075.0 878.2 1075.5 850.0 1075.5 845.7 1076.0 815.1 1076.0 810.6 1076.4 779.6 1076.5 775.2 1077.0 742.4 1077.1 738.6 1077.5 715.1 1077.5 712.3 1078.0 696.2 1078.0 694.6 1078.5 687.8 1078.5 687.5 1078.6 687.4 1079.0 690.6 1079.0 691.8 1079.4 704.5 1079.5 706.9 1080.0 731.3 1080.1 734.9 1080.5 762.4 1080.5 766.6 1081.0 797.2 1081.0 801.7 1081.5 832.8 1081.5 837.1 1082.0 866.5 1082.0 870.5 1082.4 896.5 1082.5 899.9 1083.0 924.6 1083.1 927.4 1083.5 944.2 1083.5 946.3 1084.0 959.0 1084.0 960.6 1084.5 969.7 1084.5 970.8 1085.0 977.1 1085.0 977.8 1085.4 982.0 1085.5 982.4 1086.0 985.3 1086.1 985.6 1086.5 987.1 1086.5 987.2 1087.0 988.1 1087.0 988.2 1087.5 988.6 1087.5 988.7 1088.0 988.9 1088.0 988.9 1088.4 989.1 1088.5 989.1 1089.0 989.1 1089.1 989.1 1089.5 989.2 1089.5 989.2 1090.0 989.2 1090.0 989.2 1090.5 989.2 1090.5 989.2 1091.0 989.2 1091.0 989.2 1091.4 989.2 1091.5 989.2 1092.0 989.2 1092.1 989.2 1092.5 989.2 1092.5 989.2 1093.0 989.2 1093.0 989.2 1093.5 989.2 1093.5 989.2 1094.0 989.2 1094.0 989.2 1094.4 989.2 1094.5 989.2 1095.0 989.2 1095.1 989.2 1095.5 989.2 1095.5 989.2 1096.0 989.2 1096.0 989.2 1096.5 989.2 1096.5 989.2 1097.0 989.2 1097.0 989.2 1097.4 989.2 1097.5 989.2 1098.0 989.2 1098.1 989.2 1098.5 989.2 1098.5 989.2 1099.0 989.2 1099.0 989.2 1099.4 989.2 1099.5 989.2 1099.5 989.2 1100.0 989.2 1100.0 989.2 1100.4 989.2 1100.5 989.2 1101.0 989.2 1101.1 989.2 1101.5 989.2 1101.5 989.2 1102.0 989.2 1102.0 989.2 1102.5 989.2 1102.5 989.2 1103.0 989.2 1103.0 989.2 1103.4 989.2 1103.5 989.2 1104.0 989.2 1104.1 989.2 1104.5 989.2 1104.5 989.2 1105.0 989.2 1105.0 989.2 1105.5 989.2 1105.5 989.2 1106.0 989.2 1106.0 989.2 1106.4 989.2 1106.5 989.2 1107.0 989.2 1107.1 989.2 1107.5 989.2 1107.5 989.2 1108.0 989.2 1108.0 989.2 1108.5 989.2 1108.5 989.2 1109.0 989.2 1109.0 989.2 1109.4 989.2 1109.5 989.2 1110.0 989.2 1110.1 989.2 1110.5 989.2 1110.5 989.2 1111.0 989.2 1111.0 989.2 1111.5 989.2 1111.5 989.2 1112.0 989.2 1112.0 989.2 1112.4 989.2 1112.5 989.2 1113.0 989.2 1113.1 989.2 1113.5 989.2 1113.5 989.2 1114.0 989.2 1114.0 989.2 1114.5 989.2 1114.5 989.2 1115.0 989.2 1115.0 989.2 1115.4 989.2 1115.5 989.2 1116.0 989.2 1116.1 989.2 1116.5 989.2 1116.5 989.2 1117.0 989.2 1117.0 989.2 1117.5 989.2 1117.5 989.2 1118.0 989.2 1118.0 989.2 1118.4 989.2 1118.5 989.2 1119.0 989.2 1119.1 989.2 1119.5 989.2 1119.5 989.2 1120.0 989.2 1120.0 989.2 1120.5 989.2 1120.5 989.2 1121.0 989.2 1121.0 989.2 1121.4 989.2 1121.5 989.2 1122.0 989.2 1122.1 989.2 1122.5 989.2 1122.5 989.2 1123.0 989.2 1123.0 989.2 1123.5 989.2 1123.5 989.2 1124.0 989.2 1124.0 989.2 1124.4 989.2 1124.5 989.2 1125.0 989.2 1125.1 989.2 1125.5 989.2 1125.5 989.2 1126.0 989.2 1126.0 989.2 1126.5 989.2 1126.5 989.2 1127.0 989.2 1127.0 989.2 1127.4 989.2 1127.5 989.2 1128.0 989.2 1128.1 989.2 1128.5 989.2 1128.5 989.2 1129.0 989.2 1129.0 989.2 1129.5 989.2 1129.5 989.2 1130.0 989.2 1130.0 989.2 1130.4 989.2 1130.5 989.2 1131.0 989.2 1131.1 989.2 1131.5 989.2 1131.6 989.2 1132.0 989.2 1132.0 989.2 1132.5 989.2 1132.5 989.2 1133.0 989.2 1133.0 989.2 1133.4 989.2 1133.5 989.2 1134.0 989.2 1134.1 989.2 1134.5 989.2 1134.6 989.2 1135.0 989.2 1135.0 989.2 1135.5 989.2 1135.5 989.2 1136.0 989.2 1136.0 989.2 1136.4 989.2 1136.5 989.2 1137.0 989.2 1137.1 989.2 1137.5 989.2 1137.6 989.2 1138.0 989.2 1138.0 989.2 1138.5 989.2 1138.5 989.2 1139.0 989.2 1139.0 989.2 1139.4 989.2 1139.5 989.2 1140.0 989.2 1140.1 989.2 1140.5 989.2 1140.6 989.2 1141.0 989.2 1141.0 989.2 1141.5 989.2 1141.5 989.2 1142.0 989.2 1142.0 989.2 1142.4 989.2 1142.5 989.2 1142.9 989.2 1143.0 989.2 1143.5 989.2 1143.6 989.2 1144.0 989.2 1144.0 989.2 1144.5 989.2 1144.5 989.2 1145.0 989.2 1145.0 989.2 1145.4 989.2 1145.5 989.2 1145.9 989.2 1146.0 989.2 1146.5 989.2 1146.6 989.2 1147.0 989.2 1147.0 989.2 1147.5 989.2 1147.5 989.2 1148.0 989.2 1148.0 989.2 1148.4 989.2 1148.5 989.2 1148.9 989.2 1149.0 989.2 1149.5 989.2 1149.6 989.2 1150.0 989.2 1150.0 989.2 1150.5 989.2 1150.5 989.2 1151.0 989.2 1151.0 989.2 1151.4 989.2 1151.5 989.2 1151.9 989.2 1152.0 989.2 1152.5 989.2 1152.6 989.2 1153.0 989.2 1153.0 989.2 1153.5 989.2 1153.5 989.2 1154.0 989.2 1154.0 989.2 1154.5 989.2 1154.5 989.2 1154.9 989.2 1155.0 989.2 1155.5 989.2 1155.6 989.2 1156.0 989.2 1156.0 989.2 1156.5 989.2 1156.5 989.2 1157.0 989.2 1157.0 989.2 1157.5 989.2 1157.5 989.2 1157.9 989.2 1158.0 989.2 1158.5 989.2 1158.6 989.2 1159.0 989.2 1159.0 989.2 1159.5 989.2 1159.5 989.2 1160.0 989.2 1160.0 989.2 1160.5 989.2 1160.5 989.2 1160.9 989.2 1161.0 989.2 1161.5 989.2 1161.6 989.2 1162.0 989.2 1162.0 989.2 1162.5 989.2 1162.5 989.2 1163.0 989.2 1163.0 989.2 1163.5 989.2 1163.5 989.2 1163.9 989.2 1164.0 989.2 1164.5 989.2 1164.6 989.2 1165.0 989.2 1165.0 989.2 1165.5 989.2 1165.5 989.2 1166.0 989.2 1166.0 989.2 1166.5 989.2 1166.5 989.2 1166.9 989.2 1167.0 989.2 1167.5 989.2 1167.6 989.2 1168.0 989.2 1168.0 989.2 1168.5 989.2 1168.5 989.2 1169.0 989.2 1169.0 989.2 1169.5 989.2 1169.5 989.2 1169.9 989.2 1170.0 989.2 1170.5 989.2 1170.6 989.2 1171.0 989.2 1171.0 989.2 1171.5 989.2 1171.5 989.2 1172.0 989.2 1172.0 989.2 1172.5 989.2 1172.5 989.2 1172.9 989.2 1173.0 989.2 1173.5 989.2 1173.6 989.2 1174.0 989.2 1174.0 989.2 1174.5 989.2 1174.5 989.2 1175.0 989.2 1175.0 989.2 1175.5 989.2 1175.5 989.2 1175.9 989.2 1176.0 989.2 1176.5 989.2 1176.6 989.2 1177.0 989.2 1177.0 989.2 1177.5 989.2 1177.5 989.2 1178.0 989.2 1178.0 989.2 1178.5 989.2 1178.5 989.2 1178.9 989.2 1179.0 989.2 1179.5 989.2 1179.6 989.2 1180.0 989.2 1180.0 989.2 1180.5 989.2 1180.5 989.2 1181.0 989.2 1181.0 989.2 1181.5 989.2 1181.5 989.2 1181.9 989.2 1182.0 989.2 1182.5 989.2 1182.6 989.2 1183.0 989.2 1183.0 989.2 1183.5 989.2 1183.5 989.2 1184.0 989.2 1184.0 989.2 1184.5 989.2 1184.5 989.2 1184.9 989.2 1185.0 989.2 1185.5 989.2 1185.6 989.2 1186.0 989.2 1186.0 989.2 1186.5 989.2 1186.5 989.2 1187.0 989.2 1187.0 989.2 1187.5 989.2 1187.5 989.2 1187.9 989.2 1188.0 989.2 1188.5 989.2 1188.6 989.2 1189.0 989.2 1189.0 989.2 1189.5 989.2 1189.5 989.2 1190.0 989.2 1190.0 989.2 1190.5 989.2 1190.5 989.2 1190.9 989.2 1191.0 989.2 1191.5 989.2 1191.6 989.2 1192.0 989.2 1192.0 989.2 1192.5 989.2 1192.5 989.2 1193.0 989.2 1193.0 989.2 1193.5 989.2 1193.5 989.2 1193.9 989.2 1194.0 989.2 1194.5 989.2 1194.6 989.2 1195.0 989.2 1195.0 989.2 1195.5 989.2 1195.5 989.2 1196.0 989.2 1196.0 989.2 1196.5 989.2 1196.5 989.2 1196.9 989.2 1197.0 989.2 1197.5 989.2 1197.6 989.2 1198.0 989.2 1198.0 989.2 1198.5 989.2 1198.5 989.2 1199.0 989.2 1199.0 989.2 1199.5 989.2 1199.5 989.2 1199.9 989.2 1200.0 989.2 1200.5 989.2 1200.6 989.2 1201.0 989.2 1201.0 989.2 1201.5 989.2 1201.5 989.2 1202.0 989.2 1202.0 989.2 1202.5 989.2 1202.5 989.2 1202.9 989.2 1203.0 989.2 1203.5 989.2 1203.6 989.2 1204.0 989.2 1204.0 989.2 1204.5 989.2 1204.5 989.2 1205.0 989.2 1205.0 989.2 1205.5 989.2 1205.5 989.2 1205.9 989.2 1206.0 989.2 1206.5 989.2 1206.6 989.2 1207.0 989.2 1207.0 989.2 1207.5 989.2 1207.5 989.2 1208.0 989.2 1208.0 989.2 1208.5 989.2 1208.5 989.2 1208.9 989.2 1209.0 989.2 1209.5 989.2 1209.6 989.2 1210.0 989.2 1210.0 989.2 1210.5 989.2 1210.5 989.2 1211.0 989.2 1211.0 989.2 1211.5 989.2 1211.5 989.2 1211.9 989.2 1212.0 989.2 1212.5 989.2 1212.6 989.2 1213.0 989.2 1213.0 989.2 1213.5 989.2 1213.5 989.2 1214.0 989.2 1214.0 989.2 1214.5 989.2 1214.5 989.2 1214.9 989.2 1215.0 989.2 1215.5 989.2 1215.6 989.2 1216.0 989.2 1216.0 989.2 1216.5 989.2 1216.5 989.2 1217.0 989.2 1217.0 989.2 1217.5 989.2 1217.5 989.2 1217.9 989.2 1218.0 989.2 1218.5 989.2 1218.6 989.2 1219.0 989.2 1219.0 989.2 1219.5 989.2 1219.5 989.2 1220.0 989.2 1220.0 989.2 1220.5 989.2 1220.5 989.2 1220.9 989.2 1221.0 989.2 1221.5 989.2 1221.6 989.2 1222.0 989.2 1222.0 989.2 1222.5 989.2 1222.5 989.2 1223.0 989.2 1223.0 989.2 1223.5 989.2 1223.5 989.2 1223.9 989.2 1224.0 989.2 1224.5 989.2 1224.6 989.2 1225.0 989.2 1225.0 989.2 1225.5 989.2 1225.5 989.2 1226.0 989.2 1226.0 989.2 1226.5 989.2 1226.5 989.2 1226.9 989.2 1227.0 989.2 1227.5 989.2 1227.6 989.2 1228.0 989.2 1228.0 989.2 1228.5 989.2 1228.5 989.2 1229.0 989.2 1229.0 989.2 1229.5 989.2 1229.5 989.2 1229.9 989.2 1230.0 989.2 1230.5 989.2 1230.6 989.2 1231.0 989.2 1231.0 989.2 1231.5 989.2 1231.5 989.2 1232.0 989.2 1232.0 989.2 1232.5 989.2 1232.5 989.2 1232.9 989.2 1233.0 989.2 1233.5 989.2 1233.6 989.2 1234.0 989.2 1234.0 989.2 1234.5 989.2 1234.5 989.2 1235.0 989.2 1235.0 989.2 1235.5 989.2 1235.5 989.2 1235.9 989.2 1236.0 989.2 1236.5 989.2 1236.6 989.2 1237.0 989.2 1237.0 989.2 1237.5 989.2 1237.5 989.2 1238.0 989.2 1238.0 989.2 1238.5 989.2 1238.5 989.2 1238.9 989.2 1239.0 989.2 1239.5 989.2 1239.6 989.2 1240.0 989.2 1240.0 989.2 1240.5 989.2 1240.5 989.2 1241.0 989.2 1241.0 989.2 1241.5 989.2 1241.5 989.2 1241.9 989.2 1242.0 989.2 1242.5 989.2 1242.6 989.2 1243.0 989.2 1243.0 989.2 1243.5 989.2 1243.5 989.2 1244.0 989.2 1244.0 989.2 1244.5 989.2 1244.5 989.2 1244.9 989.2 1245.0 989.2 1245.5 989.2 1245.6 989.2 1246.0 989.2 1246.1 989.2 1246.5 989.2 1246.5 989.2 1247.0 989.2 1247.0 989.2 1247.5 989.2 1247.5 989.2 1247.9 989.2 1248.0 989.2 1248.5 989.2 1248.6 989.2 1249.0 989.2 1249.1 989.2 1249.5 989.2 1249.5 989.2 1250.0 989.2 1250.0 989.2 1250.5 989.2 1250.5 989.2 1250.9 989.2 1251.0 989.2 1251.5 989.2 1251.6 989.2 1252.0 989.2 1252.1 989.2 1252.5 989.2 1252.5 989.2 1253.0 989.2 1253.0 989.2 1253.5 989.2 1253.5 989.2 1253.9 989.2 1254.0 989.2 1254.5 989.2 1254.6 989.2 1255.0 989.2 1255.1 989.2 1255.5 989.2 1255.5 989.2 1256.0 989.2 1256.0 989.2 1256.5 989.2 1256.5 989.2 1256.9 989.2 1257.0 989.2 1257.4 989.2 1257.5 989.2 1258.0 989.2 1258.1 989.2 1258.5 989.2 1258.5 989.2 1258.9 989.2 1259.0 989.2 1259.0 989.2 1259.5 989.2 1259.5 989.2 1259.9 989.2 1260.0 989.2 1260.4 989.2 1260.5 989.2 1261.0 989.2 1261.1 989.2 1261.5 989.2 1261.5 989.2 1262.0 989.2 1262.0 989.2 1262.5 989.2 1262.5 989.2 1262.9 989.2 1263.0 989.2 1263.4 989.2 1263.5 989.2 1264.0 989.2 1264.1 989.2 1264.5 989.2 1264.5 989.2 1265.0 989.2 1265.0 989.2 1265.5 989.2 1265.5 989.2 1265.9 989.2 1266.0 989.2 1266.4 989.2 1266.5 989.2 1267.0 989.2 1267.1 989.2 1267.5 989.2 1267.5 989.2 1268.0 989.2 1268.0 989.2 1268.5 989.2 1268.5 989.2 1269.0 989.2 1269.0 989.2 1269.4 989.1 1269.5 989.1 1270.0 989.1 1270.1 989.0 1270.5 988.9 1270.5 988.9 1271.0 988.6 1271.0 988.5 1271.5 988.0 1271.5 987.9 1272.0 986.9 1272.0 986.7 1272.4 985.0 1272.5 984.7 1273.0 981.5 1273.1 980.9 1273.5 976.3 1273.5 975.5 1274.0 968.6 1274.0 967.4 1274.5 957.4 1274.5 955.8 1275.0 942.0 1275.0 939.8 1275.4 921.8 1275.5 918.9 1276.0 893.0 1276.1 889.4 1276.5 862.4 1276.5 858.3 1277.0 828.4 1277.0 824.0 1277.5 792.8 1277.5 788.3 1278.0 758.3 1278.0 754.2 1278.4 727.9 1278.5 724.5 1279.0 702.2 1279.1 700.1 1279.5 689.6 1279.5 688.8 1279.8 687.4 1280.0 688.2 1280.0 688.8 1280.5 698.1 1280.5 700.1 1281.0 718.1 1281.0 721.3 1281.4 746.2 1281.5 750.2 1282.0 783.9 1282.1 788.3 1282.5 819.5 1282.5 824.0 1283.0 854.2 1283.0 858.3 1283.5 885.8 1283.5 889.4 1284.0 912.9 1284.0 916.0 1284.4 935.1 1284.5 937.5 1285.0 954.0 1285.1 955.8 1285.5 966.2 1285.5 967.4 1286.0 974.7 1286.0 975.5 1286.5 980.4 1286.5 980.9 1287.0 984.1 1287.0 984.4 1287.4 986.3 1287.5 986.5 1288.0 987.8 1288.1 987.9 1288.5 988.5 1288.5 988.5 1289.0 988.8 1289.0 988.9 1289.5 989.0 1289.5 989.0 1290.0 989.1 1290.0 989.1 1290.4 989.2 1290.5 989.2 1291.0 989.2 1291.1 989.2 1291.5 989.2 1291.5 989.2 1292.0 989.2 1292.0 989.2 1292.5 989.2 1292.5 989.2 1293.0 989.2 1293.0 989.2 1293.4 989.2 1293.5 989.2 1294.0 989.2 1294.1 989.2 1294.5 989.2 1294.5 989.2 1295.0 989.2 1295.0 989.2 1295.5 989.2 1295.5 989.2 1296.0 989.2 1296.0 989.2 1296.4 989.2 1296.5 989.2 1297.0 989.2 1297.1 989.2 1297.5 989.2 1297.5 989.2 1298.0 989.2 1298.0 989.2 1298.5 989.2 1298.5 989.2 1299.0 989.2 1299.0 989.2 1299.4 989.2 1299.5 989.2 1300.0 989.2 1300.1 989.2 1300.5 989.2 1300.5 989.2 1300.9 989.2 1301.0 989.2 1301.0 989.2 1301.2 989.2 1301.5 989.2 1301.5 989.2 1302.0 989.2 1302.0 989.2 1302.4 989.2 1302.5 989.2 1303.0 989.2 1303.1 989.2 1303.5 989.2 1303.5 989.2 1304.0 989.2 1304.0 989.2 1304.5 989.2 1304.5 989.2 1305.0 989.2 1305.0 989.2 1305.4 989.2 1305.5 989.2 1306.0 989.2 1306.1 989.2 1306.5 989.2 1306.5 989.2 1307.0 989.2 1307.0 989.2 1307.5 989.2 1307.5 989.2 1308.0 989.2 1308.0 989.2 1308.4 989.2 1308.5 989.2 1309.0 989.2 1309.1 989.2 1309.5 989.2 1309.5 989.2 1310.0 989.2 1310.0 989.2 1310.5 989.2 1310.5 989.2 1311.0 989.2 1311.0 989.2 1311.4 989.2 1311.5 989.2 1312.0 989.2 1312.1 989.2 1312.5 989.2 1312.5 989.2 1313.0 989.2 1313.0 989.2 1313.5 989.2 1313.5 989.2 1314.0 989.2 1314.0 989.2 1314.4 989.2 1314.5 989.2 1315.0 989.2 1315.1 989.2 1315.5 989.2 1315.5 989.2 1316.0 989.2 1316.0 989.2 1316.5 989.2 1316.5 989.2 1317.0 989.2 1317.0 989.2 1317.4 989.2 1317.5 989.2 1318.0 989.2 1318.1 989.2 1318.5 989.2 1318.5 989.2 1319.0 989.2 1319.0 989.2 1319.5 989.2 1319.5 989.2 1320.0 989.2 1320.0 989.2 1320.4 989.2 1320.5 989.2 1321.0 989.2 1321.1 989.2 1321.5 989.2 1321.5 989.2 1322.0 989.2 1322.0 989.2 1322.5 989.2 1322.5 989.2 1323.0 989.2 1323.0 989.2 1323.4 989.2 1323.5 989.2 1324.0 989.2 1324.1 989.2 1324.5 989.2 1324.5 989.2 1325.0 989.2 1325.0 989.2 1325.5 989.2 1325.5 989.2 1326.0 989.2 1326.0 989.2 1326.4 989.2 1326.5 989.2 1327.0 989.2 1327.1 989.2 1327.5 989.2 1327.5 989.2 1328.0 989.2 1328.0 989.2 1328.5 989.2 1328.5 989.2 1329.0 989.2 1329.0 989.2 1329.4 989.2 1329.5 989.2 1330.0 989.2 1330.1 989.2 1330.5 989.2 1330.5 989.2 1331.0 989.2 1331.0 989.2 1331.5 989.2 1331.5 989.2 1332.0 989.2 1332.0 989.2 1332.4 989.2 1332.5 989.2 1333.0 989.2 1333.1 989.2 1333.5 989.2 1333.5 989.2 1334.0 989.2 1334.0 989.2 1334.5 989.2 1334.5 989.2 1335.0 989.2 1335.0 989.2 1335.4 989.2 1335.5 989.2 1336.0 989.2 1336.1 989.2 1336.5 989.2 1336.5 989.2 1337.0 989.2 1337.0 989.2 1337.5 989.2 1337.5 989.2 1338.0 989.2 1338.0 989.2 1338.4 989.2 1338.5 989.2 1339.0 989.2 1339.1 989.2 1339.5 989.2 1339.5 989.2 1340.0 989.2 1340.0 989.2 1340.5 989.2 1340.5 989.2 1341.0 989.2 1341.0 989.2 1341.4 989.2 1341.5 989.2 1342.0 989.2 1342.1 989.2 1342.5 989.2 1342.5 989.2 1343.0 989.2 1343.0 989.2 1343.5 989.2 1343.5 989.2 1343.7 989.2" fill="none" stroke="#0066cc" stroke-width="3.9" stroke-linejoin="round" stroke-linecap="butt" clip-path="url(#clipd)"/>
<rect x="1176.1" y="986.8" width="1.9" height="4.2" fill="#fff"/>
<rect x="1180.1" y="986.8" width="1.7" height="4.2" fill="#fff"/>
<rect x="810.9" y="567.2" width="526.5" height="425.1" fill="none" stroke="#000" stroke-width="2.5" stroke-linejoin="miter"/>
<line x1="829.38" y1="992.3" x2="829.38" y2="1001.35" stroke="#000" stroke-width="2.4"/>
<text x="829.38" y="1037.3" font-size="40" text-anchor="middle" textLength="50.12" lengthAdjust="spacingAndGlyphs">-40</text>
<line x1="951.84" y1="992.3" x2="951.84" y2="1001.35" stroke="#000" stroke-width="2.4"/>
<text x="951.84" y="1037.3" font-size="40" text-anchor="middle" textLength="50.12" lengthAdjust="spacingAndGlyphs">-20</text>
<line x1="1074.3" y1="992.3" x2="1074.3" y2="1001.35" stroke="#000" stroke-width="2.4"/>
<text x="1074.3" y="1037.3" font-size="40" text-anchor="middle" textLength="18.8" lengthAdjust="spacingAndGlyphs">0</text>
<line x1="1196.76" y1="992.3" x2="1196.76" y2="1001.35" stroke="#000" stroke-width="2.4"/>
<text x="1196.76" y="1037.3" font-size="40" text-anchor="middle" textLength="37.6" lengthAdjust="spacingAndGlyphs">20</text>
<line x1="1319.22" y1="992.3" x2="1319.22" y2="1001.35" stroke="#000" stroke-width="2.4"/>
<text x="1319.22" y="1037.3" font-size="40" text-anchor="middle" textLength="37.6" lengthAdjust="spacingAndGlyphs">40</text>
<line x1="801.85" y1="989.2" x2="810.9" y2="989.2" stroke="#000" stroke-width="2.4"/>
<text x="796.7" y="1002" font-size="40" text-anchor="end" textLength="18.8" lengthAdjust="spacingAndGlyphs">0</text>
<line x1="801.85" y1="838.3" x2="810.9" y2="838.3" stroke="#000" stroke-width="2.4"/>
<text x="796.7" y="851.1" font-size="40" text-anchor="end" textLength="47" lengthAdjust="spacingAndGlyphs">0.5</text>
<line x1="801.85" y1="687.4" x2="810.9" y2="687.4" stroke="#000" stroke-width="2.4"/>
<text x="796.7" y="700.2" font-size="40" text-anchor="end" textLength="18.8" lengthAdjust="spacingAndGlyphs">1</text>
<text x="1074.35" y="1076.9" font-size="40" text-anchor="middle">Time (ps)</text>
<text x="0" y="0" font-size="40" text-anchor="middle" transform="translate(737.4 779.75) rotate(-90)">Intensity (a.u.)</text>
<clipPath id="clipf"><rect x="1511.8" y="567.9" width="527.4" height="425.2"/></clipPath>
<path d="M1506.1 990.0 1506.5 990.0 1506.5 990.0 1506.9 990.0 1507.0 990.0 1507.5 990.0 1507.6 990.0 1508.0 990.0 1508.0 990.0 1508.5 990.0 1508.5 990.0 1509.0 990.0 1509.0 990.0 1509.5 990.0 1509.5 990.0 1509.9 990.0 1510.0 990.0 1510.5 990.0 1510.6 990.0 1511.0 990.0 1511.0 990.0 1511.5 990.0 1511.5 990.0 1512.0 990.0 1512.0 990.0 1512.4 990.0 1512.5 990.0 1513.0 990.0 1513.1 990.0 1513.5 990.0 1513.6 990.0 1514.0 990.0 1514.0 990.0 1514.5 990.0 1514.5 990.0 1515.0 990.0 1515.0 990.0 1515.4 990.0 1515.5 990.0 1516.0 990.0 1516.1 990.0 1516.5 990.0 1516.5 990.0 1517.0 990.0 1517.0 990.0 1517.5 990.0 1517.5 990.0 1518.0 990.0 1518.0 990.0 1518.4 990.0 1518.5 990.0 1519.0 990.0 1519.1 990.0 1519.5 990.0 1519.5 990.0 1520.0 990.0 1520.0 990.0 1520.5 990.0 1520.5 990.0 1520.9 990.0 1521.0 990.0 1521.5 990.0 1521.6 990.0 1522.0 990.0 1522.1 990.0 1522.5 990.0 1522.5 990.0 1523.0 990.0 1523.0 990.0 1523.5 990.0 1523.5 990.0 1523.9 990.0 1524.0 990.0 1524.5 990.0 1524.6 990.0 1525.0 990.0 1525.0 990.0 1525.5 990.0 1525.5 990.0 1526.0 990.0 1526.0 990.0 1526.5 990.0 1526.5 990.0 1526.9 990.0 1527.0 990.0 1527.5 990.0 1527.6 990.0 1528.0 990.0 1528.0 990.0 1528.5 990.0 1528.5 990.0 1529.0 990.0 1529.0 990.0 1529.3 990.0 1529.4 990.0 1529.5 990.0 1530.0 990.0 1530.1 990.0 1530.5 990.0 1530.6 990.0 1531.0 990.0 1531.0 990.0 1531.5 990.0 1531.5 990.0 1532.0 990.0 1532.0 990.0 1532.4 990.0 1532.5 990.0 1533.0 990.0 1533.1 990.0 1533.5 990.0 1533.5 990.0 1534.0 990.0 1534.0 990.0 1534.5 990.0 1534.5 990.0 1535.0 990.0 1535.0 990.0 1535.4 990.0 1535.5 990.0 1536.0 990.0 1536.1 990.0 1536.5 990.0 1536.5 990.0 1537.0 990.0 1537.0 990.0 1537.5 990.0 1537.5 990.0 1537.9 990.0 1538.0 990.0 1538.5 990.0 1538.6 990.0 1539.0 990.0 1539.0 990.0 1539.5 990.0 1539.5 990.0 1540.0 990.0 1540.0 990.0 1540.5 989.9 1540.5 989.9 1540.9 989.8 1541.0 989.8 1541.5 989.6 1541.6 989.6 1542.0 989.2 1542.0 989.1 1542.5 988.4 1542.5 988.3 1543.0 987.1 1543.0 986.9 1543.5 984.9 1543.5 984.5 1543.9 981.2 1544.0 980.6 1544.5 974.6 1544.6 973.6 1545.0 965.7 1545.0 964.3 1545.5 953.0 1545.5 951.1 1546.0 935.9 1546.0 933.4 1546.4 913.7 1546.5 910.6 1547.0 882.8 1547.1 879.0 1547.5 850.8 1547.5 846.5 1548.0 815.9 1548.0 811.4 1548.5 780.4 1548.5 776.0 1549.0 747.0 1549.0 743.2 1549.4 718.9 1549.5 715.9 1550.0 697.0 1550.1 695.4 1550.5 688.6 1550.5 688.3 1550.6 688.2 1551.0 691.4 1551.0 692.6 1551.5 705.3 1551.5 707.7 1552.0 728.7 1552.0 732.1 1552.4 759.1 1552.5 763.2 1553.0 798.0 1553.1 802.5 1553.5 833.6 1553.5 837.9 1554.0 867.3 1554.0 871.3 1554.5 897.3 1554.5 900.7 1554.9 922.6 1555.0 925.4 1555.5 945.0 1555.6 947.1 1556.0 959.8 1556.0 961.4 1556.5 970.5 1556.5 971.6 1557.0 977.9 1557.0 978.6 1557.5 982.8 1557.5 983.2 1557.9 985.8 1558.0 986.1 1558.5 987.9 1558.6 988.0 1559.0 988.9 1559.0 989.0 1559.5 989.4 1559.5 989.5 1560.0 989.7 1560.0 989.7 1560.5 989.9 1560.5 989.9 1560.9 989.9 1561.0 989.9 1561.5 990.0 1561.6 990.0 1562.0 990.0 1562.0 990.0 1562.5 990.0 1562.5 990.0 1563.0 990.0 1563.0 990.0 1563.4 990.0 1563.5 990.0 1564.0 990.0 1564.1 990.0 1564.5 990.0 1564.5 990.0 1565.0 990.0 1565.0 990.0 1565.5 990.0 1565.5 990.0 1566.0 990.0 1566.0 990.0 1566.4 990.0 1566.5 990.0 1567.0 990.0 1567.1 990.0 1567.5 990.0 1567.5 990.0 1568.0 990.0 1568.0 990.0 1568.5 990.0 1568.5 990.0 1569.0 990.0 1569.0 990.0 1569.4 990.0 1569.5 990.0 1570.0 990.0 1570.1 990.0 1570.5 990.0 1570.5 990.0 1571.0 990.0 1571.0 990.0 1571.4 990.0 1571.5 990.0 1571.5 990.0 1571.9 990.0 1572.0 990.0 1572.5 990.0 1572.6 990.0 1573.0 990.0 1573.0 990.0 1573.5 990.0 1573.5 990.0 1574.0 990.0 1574.0 990.0 1574.5 990.0 1574.5 990.0 1574.9 990.0 1575.0 990.0 1575.5 990.0 1575.6 990.0 1576.0 990.0 1576.0 990.0 1576.5 990.0 1576.5 990.0 1577.0 990.0 1577.0 990.0 1577.5 990.0 1577.5 990.0 1577.9 990.0 1578.0 990.0 1578.5 990.0 1578.6 990.0 1579.0 990.0 1579.0 990.0 1579.5 990.0 1579.5 990.0 1580.0 990.0 1580.0 990.0 1580.4 990.0 1580.5 990.0 1581.0 990.0 1581.1 990.0 1581.5 990.0 1581.5 990.0 1582.0 990.0 1582.0 990.0 1582.5 990.0 1582.5 990.0 1583.0 990.0 1583.0 990.0 1583.4 990.0 1583.5 990.0 1584.0 990.0 1584.1 990.0 1584.5 990.0 1584.5 990.0 1585.0 990.0 1585.0 990.0 1585.5 990.0 1585.5 990.0 1586.0 990.0 1586.0 990.0 1586.4 990.0 1586.5 990.0 1587.0 990.0 1587.1 990.0 1587.5 990.0 1587.5 990.0 1588.0 990.0 1588.0 990.0 1588.5 990.0 1588.5 990.0 1588.9 990.0 1589.0 990.0 1589.5 990.0 1589.6 990.0 1590.0 990.0 1590.0 990.0 1590.5 990.0 1590.5 990.0 1591.0 990.0 1591.0 990.0 1591.5 990.0 1591.5 990.0 1591.9 990.0 1592.0 990.0 1592.4 990.0 1592.5 990.0 1592.6 990.0 1593.0 990.0 1593.0 990.0 1593.5 990.0 1593.5 990.0 1594.0 990.0 1594.0 990.0 1594.5 990.0 1594.5 990.0 1594.9 990.0 1595.0 990.0 1595.5 990.0 1595.6 990.0 1596.0 990.0 1596.0 990.0 1596.5 990.0 1596.5 990.0 1597.0 990.0 1597.0 990.0 1597.4 990.0 1597.5 990.0 1598.0 990.0 1598.1 990.0 1598.5 990.0 1598.5 990.0 1599.0 990.0 1599.0 990.0 1599.5 990.0 1599.5 990.0 1600.0 990.0 1600.0 990.0 1600.4 990.0 1600.5 990.0 1601.0 990.0 1601.1 990.0 1601.5 990.0 1601.5 990.0 1602.0 990.0 1602.0 990.0 1602.5 990.0 1602.5 990.0 1603.0 990.0 1603.0 990.0 1603.4 989.9 1603.5 989.9 1604.0 989.8 1604.1 989.8 1604.5 989.6 1604.5 989.6 1605.0 989.3 1605.0 989.2 1605.5 988.6 1605.5 988.4 1605.9 987.3 1606.0 987.1 1606.5 984.9 1606.6 984.5 1607.0 981.2 1607.0 980.6 1607.5 975.5 1607.5 974.6 1608.0 967.0 1608.0 965.7 1608.5 954.8 1608.5 953.0 1608.9 938.3 1609.0 935.9 1609.5 913.7 1609.6 910.6 1610.0 886.6 1610.0 882.8 1610.5 855.0 1610.5 850.8 1611.0 820.3 1611.0 815.9 1611.5 784.7 1611.5 780.4 1611.9 751.0 1612.0 747.0 1612.5 718.9 1612.6 715.9 1613.0 698.9 1613.0 697.0 1613.5 689.0 1613.5 688.6 1613.7 688.2 1614.0 690.4 1614.0 691.4 1614.4 703.0 1614.5 705.3 1615.0 728.7 1615.1 732.1 1615.5 759.1 1615.5 763.2 1616.0 793.6 1616.0 798.0 1616.5 829.2 1616.5 833.6 1617.0 863.2 1617.0 867.3 1617.4 893.8 1617.5 897.3 1618.0 922.6 1618.1 925.4 1618.5 942.8 1618.5 945.0 1619.0 958.2 1619.0 959.8 1619.5 969.4 1619.5 970.5 1620.0 977.1 1620.0 977.9 1620.4 982.3 1620.5 982.8 1621.0 985.8 1621.1 986.1 1621.5 987.7 1621.5 987.9 1622.0 988.8 1622.0 988.9 1622.5 989.4 1622.5 989.4 1622.9 989.7 1623.0 989.7 1623.5 989.9 1623.6 989.9 1624.0 989.9 1624.0 989.9 1624.5 990.0 1624.5 990.0 1625.0 990.0 1625.0 990.0 1625.5 990.0 1625.5 990.0 1625.9 990.0 1626.0 990.0 1626.5 990.0 1626.6 990.0 1627.0 990.0 1627.0 990.0 1627.5 990.0 1627.5 990.0 1628.0 990.0 1628.0 990.0 1628.5 990.0 1628.5 990.0 1628.9 990.0 1629.0 990.0 1629.5 990.0 1629.6 990.0 1630.0 990.0 1630.0 990.0 1630.5 990.0 1630.5 990.0 1631.0 990.0 1631.0 990.0 1631.4 990.0 1631.5 990.0 1632.0 990.0 1632.1 990.0 1632.5 990.0 1632.5 990.0 1633.0 990.0 1633.0 990.0 1633.5 990.0 1633.5 990.0 1634.0 990.0 1634.0 990.0 1634.4 990.0 1634.5 990.0 1635.0 990.0 1635.1 990.0 1635.5 990.0 1635.5 990.0 1636.0 990.0 1636.0 990.0 1636.5 990.0 1636.5 990.0 1637.0 990.0 1637.0 990.0 1637.4 990.0 1637.5 990.0 1638.0 990.0 1638.1 990.0 1638.5 990.0 1638.5 990.0 1639.0 990.0 1639.0 990.0 1639.5 990.0 1639.5 990.0 1639.9 990.0 1640.0 990.0 1640.5 990.0 1640.6 990.0 1641.0 990.0 1641.0 990.0 1641.5 990.0 1641.5 990.0 1642.0 990.0 1642.0 990.0 1642.5 990.0 1642.5 990.0 1642.9 990.0 1643.0 990.0 1643.5 990.0 1643.6 990.0 1644.0 990.0 1644.0 990.0 1644.5 990.0 1644.5 990.0 1645.0 990.0 1645.0 990.0 1645.5 990.0 1645.5 990.0 1645.9 990.0 1646.0 990.0 1646.5 990.0 1646.6 990.0 1647.0 990.0 1647.0 990.0 1647.5 990.0 1647.5 990.0 1648.0 990.0 1648.0 990.0 1648.4 990.0 1648.5 990.0 1649.0 990.0 1649.1 990.0 1649.5 990.0 1649.5 990.0 1650.0 990.0 1650.0 990.0 1650.5 990.0 1650.5 990.0 1651.0 990.0 1651.0 990.0 1651.4 990.0 1651.5 990.0 1652.0 990.0 1652.1 990.0 1652.5 990.0 1652.5 990.0 1653.0 990.0 1653.0 990.0 1653.5 990.0 1653.5 990.0 1654.0 990.0 1654.0 990.0 1654.4 990.0 1654.5 990.0 1655.0 990.0 1655.1 990.0 1655.5 990.0 1655.5 990.0 1656.0 990.0 1656.0 990.0 1656.5 990.0 1656.5 990.0 1656.9 990.0 1657.0 990.0 1657.5 990.0 1657.6 990.0 1658.0 990.0 1658.0 990.0 1658.5 990.0 1658.5 990.0 1659.0 990.0 1659.0 990.0 1659.5 990.0 1659.5 990.0 1659.9 990.0 1660.0 990.0 1660.5 990.0 1660.6 990.0 1661.0 990.0 1661.0 990.0 1661.5 990.0 1661.5 990.0 1662.0 990.0 1662.0 990.0 1662.5 990.0 1662.5 990.0 1662.9 990.0 1663.0 990.0 1663.5 990.0 1663.6 990.0 1664.0 990.0 1664.0 990.0 1664.5 990.0 1664.5 990.0 1665.0 990.0 1665.0 990.0 1665.4 990.0 1665.5 990.0 1666.0 990.0 1666.1 990.0 1666.5 990.0 1666.5 990.0 1667.0 990.0 1667.0 990.0 1667.5 990.0 1667.5 990.0 1668.0 990.0 1668.0 990.0 1668.4 990.0 1668.5 990.0 1669.0 990.0 1669.1 990.0 1669.5 990.0 1669.5 990.0 1670.0 990.0 1670.0 990.0 1670.5 990.0 1670.5 990.0 1671.0 990.0 1671.0 990.0 1671.4 990.0 1671.5 990.0 1672.0 990.0 1672.1 990.0 1672.5 990.0 1672.5 990.0 1673.0 990.0 1673.0 990.0 1673.5 990.0 1673.5 990.0 1673.9 990.0 1674.0 990.0 1674.5 990.0 1674.6 990.0 1675.0 990.0 1675.0 990.0 1675.5 990.0 1675.5 990.0 1676.0 990.0 1676.0 990.0 1676.5 990.0 1676.5 990.0 1676.9 990.0 1677.0 990.0 1677.5 990.0 1677.6 990.0 1678.0 990.0 1678.0 990.0 1678.5 990.0 1678.5 990.0 1679.0 990.0 1679.0 990.0 1679.5 990.0 1679.5 990.0 1679.9 990.0 1680.0 990.0 1680.5 990.0 1680.6 990.0 1681.0 990.0 1681.0 990.0 1681.5 990.0 1681.5 990.0 1682.0 990.0 1682.0 990.0 1682.4 990.0 1682.5 990.0 1683.0 990.0 1683.1 990.0 1683.5 990.0 1683.5 990.0 1684.0 990.0 1684.0 990.0 1684.5 990.0 1684.5 990.0 1685.0 990.0 1685.0 990.0 1685.4 990.0 1685.5 990.0 1686.0 990.0 1686.1 990.0 1686.5 990.0 1686.5 990.0 1687.0 990.0 1687.0 990.0 1687.5 990.0 1687.5 990.0 1688.0 990.0 1688.0 990.0 1688.4 990.0 1688.5 990.0 1689.0 990.0 1689.1 990.0 1689.5 990.0 1689.5 990.0 1690.0 990.0 1690.0 990.0 1690.5 990.0 1690.5 990.0 1690.9 990.0 1691.0 990.0 1691.5 990.0 1691.6 990.0 1692.0 990.0 1692.0 990.0 1692.5 990.0 1692.5 990.0 1693.0 990.0 1693.0 990.0 1693.5 990.0 1693.5 990.0 1693.9 990.0 1694.0 990.0 1694.5 990.0 1694.6 990.0 1695.0 990.0 1695.0 990.0 1695.5 990.0 1695.5 990.0 1696.0 990.0 1696.0 990.0 1696.4 990.0 1696.5 990.0 1696.9 990.0 1697.0 990.0 1697.5 990.0 1697.6 990.0 1698.0 990.0 1698.0 990.0 1698.5 990.0 1698.5 990.0 1699.0 990.0 1699.0 990.0 1699.4 990.0 1699.5 990.0 1700.0 990.0 1700.1 990.0 1700.5 990.0 1700.5 990.0 1701.0 990.0 1701.0 990.0 1701.5 990.0 1701.5 990.0 1702.0 990.0 1702.0 990.0 1702.4 990.0 1702.5 990.0 1703.0 990.0 1703.1 990.0 1703.5 990.0 1703.5 990.0 1704.0 990.0 1704.0 990.0 1704.5 990.0 1704.5 990.0 1704.9 990.0 1705.0 990.0 1705.4 990.0 1705.5 990.0 1706.0 990.0 1706.1 990.0 1706.5 990.0 1706.5 990.0 1707.0 990.0 1707.0 990.0 1707.5 990.0 1707.5 990.0 1707.9 990.0 1708.0 990.0 1708.5 990.0 1708.6 990.0 1709.0 990.0 1709.0 990.0 1709.5 990.0 1709.5 990.0 1710.0 990.0 1710.0 990.0 1710.5 990.0 1710.5 990.0 1710.9 990.0 1711.0 990.0 1711.5 990.0 1711.6 990.0 1712.0 990.0 1712.0 990.0 1712.5 990.0 1712.5 990.0 1713.0 990.0 1713.0 990.0 1713.4 990.0 1713.5 990.0 1713.9 990.0 1714.0 990.0 1714.5 990.0 1714.6 990.0 1715.0 990.0 1715.0 990.0 1715.5 990.0 1715.5 990.0 1716.0 990.0 1716.0 990.0 1716.4 990.0 1716.5 990.0 1717.0 990.0 1717.1 990.0 1717.5 990.0 1717.5 990.0 1718.0 990.0 1718.0 990.0 1718.5 990.0 1718.5 990.0 1719.0 990.0 1719.0 990.0 1719.4 990.0 1719.5 990.0 1720.0 990.0 1720.1 990.0 1720.5 990.0 1720.5 990.0 1721.0 990.0 1721.0 990.0 1721.5 990.0 1721.5 990.0 1721.9 990.0 1722.0 990.0 1722.5 990.0 1722.6 990.0 1723.0 990.0 1723.1 990.0 1723.5 990.0 1723.5 990.0 1724.0 990.0 1724.0 990.0 1724.5 990.0 1724.5 990.0 1724.9 990.0 1725.0 990.0 1725.5 990.0 1725.6 990.0 1726.0 990.0 1726.0 990.0 1726.5 990.0 1726.5 990.0 1727.0 990.0 1727.0 990.0 1727.5 990.0 1727.5 990.0 1727.9 990.0 1728.0 990.0 1728.5 990.0 1728.6 990.0 1729.0 990.0 1729.0 990.0 1729.2 990.0 1729.5 990.0 1729.5 990.0 1730.0 990.0 1730.0 990.0 1730.4 990.0 1730.5 990.0 1731.0 990.0 1731.1 990.0 1731.5 990.0 1731.6 990.0 1732.0 990.0 1732.0 990.0 1732.5 990.0 1732.5 990.0 1733.0 990.0 1733.0 990.0 1733.4 990.0 1733.5 990.0 1734.0 990.0 1734.1 990.0 1734.5 990.0 1734.5 990.0 1735.0 990.0 1735.0 990.0 1735.5 990.0 1735.5 990.0 1736.0 990.0 1736.0 990.0 1736.4 990.0 1736.5 990.0 1737.0 990.0 1737.1 990.0 1737.5 990.0 1737.5 990.0 1738.0 990.0 1738.0 990.0 1738.5 990.0 1738.5 990.0 1738.9 990.0 1739.0 990.0 1739.5 990.0 1739.6 990.0 1740.0 990.0 1740.0 989.9 1740.5 989.9 1740.5 989.9 1741.0 989.8 1741.0 989.8 1741.5 989.6 1741.5 989.5 1741.9 989.1 1742.0 989.0 1742.5 988.2 1742.6 988.0 1743.0 986.6 1743.0 986.4 1743.5 984.1 1743.5 983.7 1744.0 980.0 1744.0 979.3 1744.5 973.6 1744.5 972.7 1744.9 964.3 1745.0 962.9 1745.5 949.2 1745.6 947.1 1746.0 930.8 1746.0 928.2 1746.5 907.4 1746.5 904.1 1747.0 879.0 1747.0 875.2 1747.4 846.5 1747.5 842.2 1748.0 806.9 1748.1 802.5 1748.5 771.7 1748.5 767.4 1749.0 739.4 1749.0 735.7 1749.5 713.1 1749.5 710.3 1750.0 695.4 1750.0 693.9 1750.4 688.3 1750.5 688.2 1751.0 693.9 1751.1 695.4 1751.5 710.3 1751.5 713.1 1752.0 735.7 1752.0 739.4 1752.5 767.4 1752.5 771.7 1753.0 802.5 1753.0 806.9 1753.4 837.9 1753.5 842.2 1754.0 875.2 1754.1 879.0 1754.5 904.1 1754.5 907.4 1755.0 928.2 1755.0 930.8 1755.5 947.1 1755.5 949.2 1755.9 961.4 1756.0 962.9 1756.5 972.7 1756.6 973.6 1757.0 979.3 1757.0 980.0 1757.5 983.7 1757.5 984.1 1758.0 986.4 1758.0 986.6 1758.5 988.0 1758.5 988.2 1758.9 989.0 1759.0 989.0 1759.5 989.5 1759.6 989.6 1760.0 989.8 1760.0 989.8 1760.5 989.9 1760.5 989.9 1761.0 989.9 1761.0 990.0 1761.5 990.0 1761.5 990.0 1761.9 990.0 1762.0 990.0 1762.5 990.0 1762.6 990.0 1763.0 990.0 1763.0 990.0 1763.5 990.0 1763.5 990.0 1764.0 990.0 1764.0 990.0 1764.4 990.0 1764.5 990.0 1765.0 990.0 1765.1 990.0 1765.5 990.0 1765.5 990.0 1766.0 990.0 1766.0 990.0 1766.5 990.0 1766.5 990.0 1767.0 990.0 1767.0 990.0 1767.4 990.0 1767.5 990.0 1768.0 990.0 1768.1 990.0 1768.5 990.0 1768.5 990.0 1769.0 990.0 1769.0 990.0 1769.5 990.0 1769.5 990.0 1770.0 990.0 1770.0 990.0 1770.4 990.0 1770.5 990.0 1771.0 990.0 1771.1 990.0 1771.4 990.0 1771.5 990.0 1771.5 990.0 1771.8 990.0 1772.0 990.0 1772.0 990.0 1772.5 990.0 1772.5 990.0 1772.9 990.0 1773.0 990.0 1773.5 990.0 1773.6 990.0 1774.0 990.0 1774.0 990.0 1774.5 990.0 1774.5 990.0 1775.0 990.0 1775.0 990.0 1775.5 990.0 1775.5 990.0 1775.9 990.0 1776.0 990.0 1776.5 990.0 1776.6 990.0 1777.0 990.0 1777.0 990.0 1777.5 990.0 1777.5 990.0 1778.0 990.0 1778.0 990.0 1778.5 990.0 1778.5 990.0 1778.9 990.0 1779.0 990.0 1779.5 990.0 1779.6 990.0 1780.0 990.0 1780.0 990.0 1780.5 990.0 1780.5 990.0 1781.0 990.0 1781.0 990.0 1781.4 990.0 1781.5 990.0 1782.0 990.0 1782.1 990.0 1782.5 990.0 1782.5 990.0 1783.0 990.0 1783.0 990.0 1783.5 990.0 1783.5 990.0 1784.0 990.0 1784.0 990.0 1784.4 990.0 1784.5 990.0 1785.0 990.0 1785.1 990.0 1785.5 990.0 1785.5 990.0 1786.0 990.0 1786.0 990.0 1786.5 990.0 1786.5 990.0 1787.0 990.0 1787.0 990.0 1787.4 990.0 1787.5 990.0 1788.0 990.0 1788.1 990.0 1788.5 990.0 1788.5 990.0 1789.0 990.0 1789.0 990.0 1789.5 990.0 1789.5 990.0 1789.9 990.0 1790.0 990.0 1790.5 990.0 1790.6 990.0 1791.0 990.0 1791.0 990.0 1791.5 990.0 1791.5 990.0 1792.0 990.0 1792.0 990.0 1792.5 990.0 1792.5 990.0 1792.9 990.0 1793.0 990.0 1793.5 990.0 1793.6 990.0 1794.0 990.0 1794.0 990.0 1794.5 990.0 1794.5 990.0 1795.0 990.0 1795.0 990.0 1795.5 990.0 1795.5 990.0 1795.9 990.0 1796.0 990.0 1796.5 990.0 1796.6 990.0 1797.0 990.0 1797.0 990.0 1797.5 990.0 1797.5 990.0 1798.0 990.0 1798.0 990.0 1798.4 990.0 1798.5 990.0 1799.0 990.0 1799.1 990.0 1799.5 990.0 1799.5 990.0 1800.0 990.0 1800.0 990.0 1800.5 990.0 1800.5 990.0 1801.0 990.0 1801.0 990.0 1801.4 990.0 1801.5 990.0 1802.0 990.0 1802.1 990.0 1802.5 990.0 1802.5 990.0 1803.0 990.0 1803.0 990.0 1803.5 990.0 1803.5 990.0 1804.0 990.0 1804.0 990.0 1804.4 990.0 1804.5 990.0 1805.0 990.0 1805.1 990.0 1805.5 990.0 1805.5 990.0 1806.0 990.0 1806.0 990.0 1806.5 990.0 1806.5 990.0 1806.9 990.0 1807.0 990.0 1807.5 990.0 1807.6 990.0 1808.0 990.0 1808.0 990.0 1808.5 990.0 1808.5 990.0 1809.0 990.0 1809.0 990.0 1809.5 990.0 1809.5 990.0 1809.9 990.0 1810.0 990.0 1810.5 990.0 1810.6 990.0 1811.0 990.0 1811.0 990.0 1811.5 990.0 1811.5 990.0 1812.0 990.0 1812.0 990.0 1812.5 990.0 1812.5 990.0 1812.9 990.0 1813.0 990.0 1813.5 990.0 1813.6 990.0 1814.0 990.0 1814.0 990.0 1814.5 990.0 1814.5 990.0 1815.0 990.0 1815.0 990.0 1815.4 990.0 1815.5 990.0 1816.0 990.0 1816.1 990.0 1816.5 990.0 1816.5 990.0 1817.0 990.0 1817.0 990.0 1817.5 990.0 1817.5 990.0 1818.0 990.0 1818.0 990.0 1818.4 990.0 1818.5 990.0 1819.0 990.0 1819.1 990.0 1819.5 990.0 1819.5 990.0 1820.0 990.0 1820.0 990.0 1820.5 990.0 1820.5 990.0 1821.0 990.0 1821.0 990.0 1821.4 990.0 1821.5 990.0 1822.0 990.0 1822.1 990.0 1822.5 990.0 1822.5 990.0 1823.0 990.0 1823.0 990.0 1823.5 990.0 1823.5 990.0 1823.9 990.0 1824.0 990.0 1824.5 990.0 1824.6 990.0 1825.0 990.0 1825.0 990.0 1825.5 990.0 1825.5 990.0 1826.0 990.0 1826.0 990.0 1826.5 990.0 1826.5 990.0 1826.9 990.0 1827.0 990.0 1827.5 990.0 1827.6 990.0 1828.0 990.0 1828.0 990.0 1828.5 990.0 1828.5 990.0 1829.0 990.0 1829.0 990.0 1829.5 990.0 1829.5 990.0 1829.9 990.0 1830.0 990.0 1830.5 990.0 1830.6 990.0 1831.0 990.0 1831.0 990.0 1831.5 990.0 1831.5 990.0 1832.0 990.0 1832.0 990.0 1832.4 990.0 1832.5 990.0 1833.0 990.0 1833.1 990.0 1833.5 990.0 1833.5 990.0 1834.0 990.0 1834.0 990.0 1834.5 990.0 1834.5 990.0 1835.0 990.0 1835.0 990.0 1835.4 990.0 1835.5 990.0 1836.0 990.0 1836.1 990.0 1836.5 990.0 1836.5 990.0 1837.0 990.0 1837.0 990.0 1837.5 990.0 1837.5 990.0 1838.0 990.0 1838.0 990.0 1838.4 990.0 1838.5 990.0 1839.0 990.0 1839.1 990.0 1839.5 990.0 1839.5 990.0 1840.0 990.0 1840.0 990.0 1840.5 990.0 1840.5 990.0 1840.9 990.0 1841.0 990.0 1841.5 990.0 1841.6 990.0 1842.0 990.0 1842.0 990.0 1842.5 990.0 1842.5 990.0 1843.0 990.0 1843.0 990.0 1843.5 990.0 1843.5 990.0 1843.9 990.0 1844.0 990.0 1844.5 990.0 1844.6 990.0 1845.0 990.0 1845.0 990.0 1845.5 990.0 1845.5 990.0 1846.0 990.0 1846.0 990.0 1846.5 990.0 1846.5 990.0 1846.9 990.0 1847.0 990.0 1847.5 990.0 1847.6 990.0 1848.0 990.0 1848.0 990.0 1848.5 990.0 1848.5 990.0 1849.0 990.0 1849.0 990.0 1849.4 990.0 1849.5 990.0 1850.0 990.0 1850.1 990.0 1850.5 990.0 1850.5 990.0 1851.0 990.0 1851.0 990.0 1851.5 990.0 1851.5 990.0 1852.0 990.0 1852.0 990.0 1852.4 990.0 1852.5 990.0 1853.0 990.0 1853.1 990.0 1853.5 990.0 1853.5 990.0 1854.0 990.0 1854.0 990.0 1854.5 990.0 1854.5 990.0 1855.0 990.0 1855.0 990.0 1855.4 990.0 1855.5 990.0 1856.0 990.0 1856.1 990.0 1856.5 990.0 1856.5 990.0 1857.0 990.0 1857.0 990.0 1857.5 990.0 1857.5 990.0 1857.9 990.0 1858.0 990.0 1858.5 990.0 1858.6 990.0 1859.0 990.0 1859.0 990.0 1859.5 990.0 1859.5 990.0 1860.0 990.0 1860.0 990.0 1860.5 990.0 1860.5 990.0 1860.9 990.0 1861.0 990.0 1861.5 990.0 1861.6 990.0 1862.0 990.0 1862.0 990.0 1862.5 990.0 1862.5 990.0 1863.0 990.0 1863.0 990.0 1863.5 990.0 1863.5 990.0 1863.9 990.0 1864.0 990.0 1864.5 990.0 1864.6 990.0 1865.0 990.0 1865.0 990.0 1865.5 990.0 1865.5 990.0 1866.0 990.0 1866.0 990.0 1866.4 990.0 1866.5 990.0 1867.0 990.0 1867.1 990.0 1867.5 990.0 1867.5 990.0 1868.0 990.0 1868.0 990.0 1868.5 990.0 1868.5 990.0 1869.0 990.0 1869.0 990.0 1869.4 990.0 1869.5 990.0 1870.0 990.0 1870.1 990.0 1870.5 990.0 1870.5 990.0 1871.0 990.0 1871.0 990.0 1871.5 990.0 1871.5 990.0 1872.0 990.0 1872.0 990.0 1872.4 990.0 1872.5 990.0 1873.0 990.0 1873.1 990.0 1873.5 990.0 1873.5 990.0 1874.0 990.0 1874.0 990.0 1874.5 990.0 1874.5 990.0 1874.9 990.0 1875.0 990.0 1875.5 990.0 1875.6 990.0 1876.0 990.0 1876.0 990.0 1876.5 990.0 1876.5 990.0 1877.0 990.0 1877.0 990.0 1877.5 990.0 1877.5 990.0 1877.9 990.0 1878.0 990.0 1878.5 990.0 1878.6 990.0 1879.0 990.0 1879.0 990.0 1879.5 990.0 1879.5 990.0 1880.0 990.0 1880.0 990.0 1880.5 990.0 1880.5 990.0 1880.9 990.0 1881.0 990.0 1881.5 990.0 1881.6 990.0 1882.0 990.0 1882.0 990.0 1882.5 990.0 1882.5 990.0 1883.0 990.0 1883.0 990.0 1883.4 990.0 1883.5 990.0 1884.0 990.0 1884.1 990.0 1884.5 990.0 1884.5 990.0 1885.0 990.0 1885.0 990.0 1885.5 990.0 1885.5 990.0 1886.0 990.0 1886.0 990.0 1886.4 990.0 1886.5 990.0 1887.0 990.0 1887.1 990.0 1887.5 990.0 1887.5 990.0 1888.0 990.0 1888.0 990.0 1888.5 990.0 1888.5 990.0 1889.0 990.0 1889.0 990.0 1889.4 990.0 1889.5 990.0 1890.0 990.0 1890.1 990.0 1890.5 990.0 1890.5 990.0 1891.0 990.0 1891.0 990.0 1891.5 990.0 1891.5 990.0 1891.9 990.0 1892.0 990.0 1892.5 990.0 1892.6 990.0 1893.0 990.0 1893.0 990.0 1893.5 990.0 1893.5 990.0 1894.0 990.0 1894.0 990.0 1894.5 990.0 1894.5 990.0 1894.9 990.0 1895.0 990.0 1895.5 990.0 1895.6 990.0 1896.0 990.0 1896.0 990.0 1896.5 990.0 1896.5 990.0 1897.0 990.0 1897.0 990.0 1897.5 990.0 1897.5 990.0 1897.9 990.0 1898.0 990.0 1898.5 990.0 1898.6 990.0 1899.0 990.0 1899.0 990.0 1899.5 990.0 1899.5 990.0 1900.0 990.0 1900.0 990.0 1900.4 990.0 1900.5 990.0 1901.0 990.0 1901.1 990.0 1901.5 990.0 1901.5 990.0 1902.0 990.0 1902.0 990.0 1902.5 990.0 1902.5 990.0 1903.0 990.0 1903.0 990.0 1903.4 990.0 1903.5 990.0 1904.0 990.0 1904.1 990.0 1904.5 990.0 1904.5 990.0 1905.0 990.0 1905.0 990.0 1905.5 990.0 1905.5 990.0 1905.9 990.0 1906.0 990.0 1906.4 990.0 1906.5 990.0 1907.0 990.0 1907.1 990.0 1907.5 990.0 1907.5 990.0 1908.0 990.0 1908.0 990.0 1908.5 990.0 1908.5 990.0 1908.9 990.0 1909.0 990.0 1909.5 990.0 1909.6 990.0 1910.0 990.0 1910.0 990.0 1910.5 990.0 1910.5 990.0 1911.0 990.0 1911.0 990.0 1911.5 990.0 1911.5 990.0 1911.9 990.0 1912.0 990.0 1912.5 990.0 1912.6 990.0 1913.0 990.0 1913.0 990.0 1913.5 990.0 1913.5 990.0 1914.0 990.0 1914.0 990.0 1914.4 990.0 1914.5 990.0 1914.9 990.0 1915.0 990.0 1915.5 990.0 1915.6 990.0 1916.0 990.0 1916.0 990.0 1916.5 990.0 1916.5 990.0 1917.0 990.0 1917.0 990.0 1917.4 990.0 1917.5 990.0 1918.0 990.0 1918.1 990.0 1918.5 990.0 1918.5 990.0 1919.0 990.0 1919.0 990.0 1919.5 990.0 1919.5 990.0 1920.0 990.0 1920.0 990.0 1920.4 990.0 1920.5 990.0 1921.0 990.0 1921.1 990.0 1921.5 990.0 1921.5 990.0 1922.0 990.0 1922.0 990.0 1922.5 990.0 1922.5 990.0 1922.9 990.0 1923.0 990.0 1923.5 990.0 1923.6 990.0 1924.0 990.0 1924.1 990.0 1924.5 990.0 1924.5 990.0 1925.0 990.0 1925.0 990.0 1925.5 990.0 1925.5 990.0 1925.9 990.0 1926.0 990.0 1926.5 990.0 1926.6 990.0 1927.0 990.0 1927.0 990.0 1927.5 990.0 1927.5 990.0 1928.0 990.0 1928.0 990.0 1928.5 990.0 1928.5 990.0 1928.9 990.0 1929.0 990.0 1929.5 990.0 1929.6 990.0 1930.0 990.0 1930.0 990.0 1930.5 990.0 1930.5 990.0 1931.0 990.0 1931.0 990.0 1931.4 990.0 1931.5 990.0 1932.0 990.0 1932.1 990.0 1932.5 990.0 1932.6 990.0 1933.0 990.0 1933.0 990.0 1933.5 990.0 1933.5 990.0 1934.0 990.0 1934.0 990.0 1934.4 990.0 1934.5 990.0 1935.0 990.0 1935.1 990.0 1935.5 990.0 1935.5 990.0 1936.0 990.0 1936.0 990.0 1936.5 990.0 1936.5 990.0 1937.0 990.0 1937.0 990.0 1937.4 990.0 1937.5 990.0 1938.0 990.0 1938.1 990.0 1938.5 990.0 1938.5 990.0 1939.0 990.0 1939.0 990.0 1939.5 990.0 1939.5 990.0 1939.9 990.0 1940.0 990.0 1940.5 990.0 1940.6 990.0 1941.0 990.0 1941.0 990.0 1941.5 990.0 1941.5 990.0 1942.0 990.0 1942.0 990.0 1942.5 990.0 1942.5 990.0 1942.9 990.0 1943.0 990.0 1943.5 990.0 1943.6 990.0 1944.0 990.0 1944.0 990.0 1944.5 990.0 1944.5 990.0 1945.0 990.0 1945.0 990.0 1945.5 990.0 1945.5 990.0 1945.9 990.0 1946.0 990.0 1946.5 990.0 1946.6 990.0 1947.0 990.0 1947.0 990.0 1947.5 990.0 1947.5 990.0 1948.0 990.0 1948.0 990.0 1948.4 990.0 1948.5 990.0 1949.0 990.0 1949.1 990.0 1949.5 990.0 1949.5 990.0 1950.0 990.0 1950.0 990.0 1950.5 990.0 1950.5 990.0 1951.0 990.0 1951.0 990.0 1951.4 990.0 1951.5 990.0 1952.0 990.0 1952.1 990.0 1952.5 990.0 1952.5 990.0 1953.0 990.0 1953.0 990.0 1953.5 990.0 1953.5 990.0 1954.0 990.0 1954.0 990.0 1954.4 990.0 1954.5 990.0 1955.0 990.0 1955.1 990.0 1955.5 990.0 1955.5 990.0 1956.0 990.0 1956.0 990.0 1956.5 990.0 1956.5 990.0 1956.9 990.0 1957.0 990.0 1957.5 990.0 1957.6 990.0 1958.0 990.0 1958.0 990.0 1958.5 990.0 1958.5 990.0 1959.0 990.0 1959.0 990.0 1959.5 990.0 1959.5 990.0 1959.9 990.0 1960.0 990.0 1960.5 990.0 1960.6 990.0 1961.0 990.0 1961.0 990.0 1961.5 990.0 1961.5 990.0 1962.0 990.0 1962.0 990.0 1962.5 990.0 1962.5 990.0 1962.9 990.0 1963.0 990.0 1963.5 990.0 1963.6 990.0 1964.0 990.0 1964.0 990.0 1964.5 990.0 1964.5 990.0 1965.0 990.0 1965.0 990.0 1965.4 990.0 1965.5 990.0 1966.0 990.0 1966.1 990.0 1966.5 990.0 1966.5 990.0 1967.0 990.0 1967.0 990.0 1967.5 990.0 1967.5 990.0 1968.0 990.0 1968.0 990.0 1968.4 990.0 1968.5 990.0 1969.0 990.0 1969.1 990.0 1969.5 990.0 1969.5 990.0 1970.0 990.0 1970.0 990.0 1970.5 990.0 1970.5 990.0 1971.0 990.0 1971.0 990.0 1971.4 990.0 1971.5 990.0 1972.0 990.0 1972.1 990.0 1972.5 990.0 1972.5 990.0 1973.0 990.0 1973.0 990.0 1973.5 990.0 1973.5 990.0 1973.9 990.0 1974.0 990.0 1974.5 990.0 1974.6 990.0 1975.0 990.0 1975.0 990.0 1975.5 990.0 1975.5 990.0 1976.0 990.0 1976.0 990.0 1976.5 990.0 1976.5 990.0 1976.9 990.0 1977.0 990.0 1977.5 990.0 1977.6 990.0 1978.0 990.0 1978.0 990.0 1978.5 990.0 1978.5 990.0 1979.0 990.0 1979.0 990.0 1979.5 990.0 1979.5 990.0 1979.9 990.0 1980.0 990.0 1980.5 990.0 1980.6 990.0 1981.0 990.0 1981.0 990.0 1981.5 990.0 1981.5 990.0 1982.0 990.0 1982.0 990.0 1982.4 990.0 1982.5 990.0 1983.0 990.0 1983.1 990.0 1983.5 990.0 1983.5 990.0 1984.0 990.0 1984.0 990.0 1984.5 990.0 1984.5 990.0 1985.0 990.0 1985.0 990.0 1985.4 990.0 1985.5 990.0 1986.0 990.0 1986.1 990.0 1986.5 990.0 1986.5 990.0 1987.0 990.0 1987.0 990.0 1987.5 990.0 1987.5 990.0 1988.0 990.0 1988.0 990.0 1988.4 990.0 1988.5 990.0 1989.0 990.0 1989.1 990.0 1989.5 990.0 1989.5 990.0 1990.0 990.0 1990.0 990.0 1990.5 990.0 1990.5 990.0 1990.9 990.0 1991.0 990.0 1991.5 990.0 1991.6 990.0 1992.0 990.0 1992.0 990.0 1992.5 990.0 1992.5 990.0 1993.0 990.0 1993.0 990.0 1993.5 990.0 1993.5 990.0 1993.9 990.0 1994.0 990.0 1994.5 990.0 1994.6 990.0 1995.0 990.0 1995.0 990.0 1995.5 990.0 1995.5 990.0 1996.0 990.0 1996.0 990.0 1996.5 990.0 1996.5 990.0 1996.9 990.0 1997.0 990.0 1997.5 989.9 1997.6 989.9 1998.0 989.9 1998.0 989.9 1998.5 989.7 1998.5 989.7 1999.0 989.4 1999.0 989.4 1999.4 988.9 1999.5 988.8 2000.0 987.7 2000.1 987.5 2000.5 985.8 2000.5 985.5 2001.0 982.8 2001.0 982.3 2001.5 977.9 2001.5 977.1 2002.0 970.5 2002.0 969.4 2002.4 959.8 2002.5 958.2 2003.0 942.8 2003.1 940.6 2003.5 922.6 2003.5 919.7 2004.0 897.3 2004.0 893.8 2004.5 867.3 2004.5 863.2 2005.0 833.6 2005.0 829.2 2005.4 798.0 2005.5 793.6 2006.0 759.1 2006.1 755.0 2006.5 728.7 2006.5 725.3 2007.0 705.3 2007.0 703.0 2007.5 691.4 2007.5 690.4 2007.8 688.2 2007.9 688.6 2008.0 689.0 2008.5 698.9 2008.6 700.9 2009.0 718.9 2009.0 722.1 2009.5 747.0 2009.5 751.0 2010.0 780.4 2010.0 784.7 2010.5 815.9 2010.5 820.3 2010.9 850.8 2011.0 855.0 2011.5 886.6 2011.6 890.2 2012.0 913.7 2012.0 916.8 2012.5 935.9 2012.5 938.3 2013.0 953.0 2013.0 954.8 2013.5 965.7 2013.5 967.0 2013.9 974.6 2014.0 975.5 2014.5 981.2 2014.6 981.7 2015.0 984.9 2015.0 985.2 2015.5 987.1 2015.5 987.3 2016.0 988.4 2016.0 988.6 2016.4 989.2 2016.5 989.3 2017.0 989.6 2017.1 989.7 2017.5 989.8 2017.5 989.8 2018.0 989.9 2018.0 989.9 2018.5 990.0 2018.5 990.0 2019.0 990.0 2019.0 990.0 2019.4 990.0 2019.5 990.0 2020.0 990.0 2020.1 990.0 2020.5 990.0 2020.5 990.0 2021.0 990.0 2021.0 990.0 2021.5 990.0 2021.5 990.0 2022.0 990.0 2022.0 990.0 2022.4 990.0 2022.5 990.0 2023.0 990.0 2023.1 990.0 2023.5 990.0 2023.5 990.0 2024.0 990.0 2024.0 990.0 2024.5 990.0 2024.5 990.0 2024.9 990.0 2025.0 990.0 2025.5 990.0 2025.6 990.0 2026.0 990.0 2026.0 990.0 2026.5 990.0 2026.5 990.0 2027.0 990.0 2027.0 990.0 2027.5 990.0 2027.5 990.0 2027.9 990.0 2028.0 990.0 2028.5 990.0 2028.6 990.0 2028.9 990.0 2029.0 990.0 2029.0 990.0 2029.2 990.0 2029.5 990.0 2029.5 990.0 2030.0 990.0 2030.0 990.0 2030.5 990.0 2030.5 990.0 2030.9 990.0 2031.0 990.0 2031.5 990.0 2031.6 990.0 2032.0 990.0 2032.0 990.0 2032.5 990.0 2032.5 990.0 2033.0 990.0 2033.0 990.0 2033.4 990.0 2033.5 990.0 2034.0 990.0 2034.1 990.0 2034.5 990.0 2034.5 990.0 2035.0 990.0 2035.0 990.0 2035.5 990.0 2035.5 990.0 2036.0 990.0 2036.0 990.0 2036.4 990.0 2036.5 990.0 2037.0 990.0 2037.1 990.0 2037.5 990.0 2037.5 990.0 2038.0 990.0 2038.0 990.0 2038.5 990.0 2038.5 990.0 2039.0 990.0 2039.0 990.0 2039.4 990.0 2039.5 990.0 2040.0 990.0 2040.1 990.0 2040.5 990.0 2040.5 990.0 2041.0 990.0 2041.0 990.0 2041.5 990.0 2041.5 990.0 2041.9 990.0 2042.0 990.0 2042.5 990.0 2042.6 990.0 2043.0 990.0 2043.0 990.0 2043.5 990.0 2043.5 990.0 2044.0 990.0 2044.0 990.0 2044.2 990.0" fill="none" stroke="#0066cc" stroke-width="3.9" stroke-linejoin="round" stroke-linecap="butt" clip-path="url(#clipf)"/>
<rect x="1511.8" y="567.9" width="526.4" height="425.2" fill="none" stroke="#000" stroke-width="2.5" stroke-linejoin="miter"/>
<line x1="1530.55" y1="993.1" x2="1530.55" y2="1002.15" stroke="#000" stroke-width="2.4"/>
<text x="1530.55" y="1038.1" font-size="40" text-anchor="middle" textLength="50.12" lengthAdjust="spacingAndGlyphs">-40</text>
<line x1="1652.85" y1="993.1" x2="1652.85" y2="1002.15" stroke="#000" stroke-width="2.4"/>
<text x="1652.85" y="1038.1" font-size="40" text-anchor="middle" textLength="50.12" lengthAdjust="spacingAndGlyphs">-20</text>
<line x1="1775.15" y1="993.1" x2="1775.15" y2="1002.15" stroke="#000" stroke-width="2.4"/>
<text x="1775.15" y="1038.1" font-size="40" text-anchor="middle" textLength="18.8" lengthAdjust="spacingAndGlyphs">0</text>
<line x1="1897.45" y1="993.1" x2="1897.45" y2="1002.15" stroke="#000" stroke-width="2.4"/>
<text x="1897.45" y="1038.1" font-size="40" text-anchor="middle" textLength="37.6" lengthAdjust="spacingAndGlyphs">20</text>
<line x1="2019.75" y1="993.1" x2="2019.75" y2="1002.15" stroke="#000" stroke-width="2.4"/>
<text x="2019.75" y="1038.1" font-size="40" text-anchor="middle" textLength="37.6" lengthAdjust="spacingAndGlyphs">40</text>
<line x1="1502.75" y1="990" x2="1511.8" y2="990" stroke="#000" stroke-width="2.4"/>
<text x="1497.6" y="1002.8" font-size="40" text-anchor="end" textLength="18.8" lengthAdjust="spacingAndGlyphs">0</text>
<line x1="1502.75" y1="839.1" x2="1511.8" y2="839.1" stroke="#000" stroke-width="2.4"/>
<text x="1497.6" y="851.9" font-size="40" text-anchor="end" textLength="47" lengthAdjust="spacingAndGlyphs">0.5</text>
<line x1="1502.75" y1="688.2" x2="1511.8" y2="688.2" stroke="#000" stroke-width="2.4"/>
<text x="1497.6" y="701" font-size="40" text-anchor="end" textLength="18.8" lengthAdjust="spacingAndGlyphs">1</text>
<text x="1783" y="1075.6" font-size="40" text-anchor="middle">Time (ps)</text>
<text x="0" y="0" font-size="40" text-anchor="middle" transform="translate(1438.3 780.5) rotate(-90)">Intensity (a.u.)</text>
<path d="M208.2 633.6 208.7 633.7 209.2 633.9 209.7 634.2 210.2 634.5 210.7 634.9 211.2 635.3 211.7 635.7 212.2 636.2 212.7 636.5 213.2 636.9 213.7 637.2 214.2 637.4 214.7 637.5 215.2 637.6 215.7 637.6 216.2 637.4 216.7 637.2 217.2 637.0 217.7 636.6 218.2 636.3 218.7 635.9 219.2 635.4 219.7 635.0 220.2 634.6 220.7 634.3 221.2 634.0 221.7 633.8 222.2 633.7 222.7 633.6 223.2 633.6 223.7 633.8 224.2 634.0 224.7 634.2 225.2 634.6 225.7 635.0 226.2 635.4 226.7 635.8 227.2 636.2 227.7 636.6 228.2 636.9 228.7 637.2 229.2 637.4 229.7 637.6 230.2 637.6 230.7 637.6 231.2 637.4 231.7 637.2 232.2 636.9 232.7 636.6 233.2 636.2 233.7 635.8 234.2 635.4 234.7 635.0 235.2 634.6 235.7 634.3 236.2 634.0 236.7 633.8 237.2 633.6 237.7 633.6 238.2 633.6 238.7 633.8 239.2 634.0 239.7 634.3 240.2 634.6 240.7 635.0 241.2 635.4 241.7 635.8 242.2 636.2 242.7 636.6 243.2 637.0 243.7 637.2 244.2 637.4 244.7 637.6 245.2 637.6 245.7 637.5 246.2 637.4 246.7 637.2 247.2 636.9 247.7 636.6 248.2 636.2 248.7 635.8 249.2 635.3 249.7 634.9 250.2 634.5 250.7 634.2 251.2 633.9 251.7 633.7 252.2 633.6 252.7 633.6 253.2 633.7 253.7 633.8 254.2 634.0 254.7 634.3 255.2 634.7 255.7 635.1 256.2 635.5 256.7 635.9 257.2 636.3 257.7 636.7 258.2 637.0 258.7 637.3 259.2 637.5 259.7 637.6 260.2 637.6 260.7 637.5 261.2 637.4 261.7 637.2 262.2 636.9 262.7 636.5 263.2 636.1 263.7 635.7 264.2 635.3 264.7 634.9 265.2 634.5 265.7 634.2 266.2 633.9 266.7 633.7 267.2 633.6 267.7 633.6 268.2 633.7 268.7 633.8 269.2 634.1 269.7 634.4 270.2 634.7 270.7 635.1 271.2 635.5 271.7 635.9 272.2 636.3 272.7 636.7 273.2 637.0 273.7 637.3 274.2 637.5 274.7 637.6 275.2 637.6 275.7 637.5 276.2 637.4 276.7 637.1 277.2 636.8 277.7 636.5 278.2 636.1 278.7 635.7 279.2 635.2 279.7 634.8 280.2 634.5 280.7 634.1 281.2 633.9 281.7 633.7 282.2 633.6 282.7 633.6 283.2 633.7 283.7 633.8 284.2 634.1 284.7 634.4 285.2 634.8 285.7 635.2 286.2 635.6 286.7 636.0 287.2 636.4 287.7 636.8 288.2 637.1 288.7 637.3 289.2 637.5 289.7 637.6 290.2 637.6 290.7 637.5 291.2 637.3 291.7 637.1 292.2 636.8 292.7 636.4 293.2 636.0 293.7 635.6 294.2 635.2 294.7 634.8 295.2 634.4 295.7 634.1 296.2 633.9 296.7 633.7 297.2 633.6 297.7 633.6 298.2 633.7 298.7 633.9 299.2 634.1 299.7 634.4 300.2 634.8 300.7 635.2 301.2 635.6 301.7 636.0 302.2 636.4 302.7 636.8 303.2 637.1 303.7 637.3 304.2 637.5" fill="none" stroke="#626262" stroke-width="2.3"/>
<path d="M325.0 633.6 325.5 633.7 326.0 633.9 326.5 634.2 327.0 634.5 327.5 634.9 328.0 635.3 328.5 635.7 329.0 636.2 329.5 636.5 330.0 636.9 330.5 637.2 331.0 637.4 331.5 637.5 332.0 637.6 332.5 637.6 333.0 637.4 333.5 637.2 334.0 637.0 334.5 636.6 335.0 636.2 335.5 635.8 336.0 635.4 336.5 635.0 337.0 634.6 337.5 634.3 338.0 634.0 338.5 633.8 339.0 633.6 339.5 633.6 340.0 633.6 340.5 633.8 341.0 634.0 341.5 634.3 342.0 634.6 342.5 635.0 343.0 635.4 343.5 635.8 344.0 636.2 344.5 636.6 345.0 637.0 345.5 637.2 346.0 637.4 346.5 637.6 347.0 637.6 347.5 637.5 348.0 637.4 348.5 637.2 349.0 636.9 349.6 636.6 350.1 636.2 350.6 635.8 351.1 635.3 351.6 634.9 352.1 634.6 352.6 634.2 353.1 633.9 353.6 633.7 354.1 633.6 354.6 633.6 355.1 633.7 355.6 633.8 356.1 634.0 356.6 634.3 357.1 634.7 357.6 635.1 358.1 635.5 358.6 635.9 359.1 636.3 359.6 636.7 360.1 637.0 360.6 637.3 361.1 637.5 361.6 637.6 362.1 637.6 362.6 637.5 363.1 637.4 363.6 637.1 364.1 636.8 364.6 636.5 365.1 636.1 365.6 635.7 366.1 635.3 366.6 634.9 367.1 634.5 367.6 634.2 368.1 633.9 368.6 633.7 369.1 633.6 369.6 633.6 370.1 633.7 370.6 633.8 371.1 634.1 371.6 634.4 372.1 634.7 372.6 635.1 373.1 635.6 373.6 636.0 374.1 636.4 374.6 636.7 375.1 637.1 375.6 637.3 376.1 637.5 376.6 637.6 377.1 637.6 377.6 637.5 378.1 637.3 378.6 637.1 379.1 636.8 379.6 636.4 380.1 636.0 380.6 635.6 381.1 635.2 381.6 634.8 382.1 634.4 382.6 634.1 383.1 633.9 383.6 633.7 384.1 633.6 384.6 633.6 385.1 633.7 385.6 633.9 386.1 634.1 386.6 634.4 387.1 634.8 387.6 635.2 388.1 635.6 388.6 636.0 389.1 636.4 389.6 636.8 390.1 637.1 390.6 637.4 391.1 637.5 391.6 637.6 392.1 637.6 392.6 637.5 393.1 637.3 393.6 637.0 394.1 636.7 394.6 636.4 395.1 636.0 395.6 635.5 396.1 635.1 396.6 634.7 397.1 634.4 397.6 634.1 398.2 633.8 398.7 633.7 399.2 633.6 399.7 633.6 400.2 633.7 400.7 633.9 401.2 634.2 401.7 634.5 402.2 634.9 402.7 635.3 403.2 635.7 403.7 636.1 404.2 636.5 404.7 636.9 405.2 637.2 405.7 637.4 406.2 637.5 406.7 637.6 407.2 637.6 407.7 637.5 408.2 637.3 408.7 637.0 409.2 636.7 409.7 636.3 410.2 635.9 410.7 635.5 411.2 635.0 411.7 634.7 412.2 634.3 412.7 634.0 413.2 633.8 413.7 633.7 414.2 633.6 414.7 633.6 415.2 633.8 415.7 634.0 416.2 634.2 416.7 634.6 417.2 635.0 417.7 635.4 418.2 635.8 418.7 636.2 419.2 636.6 419.7 636.9 420.2 637.2 420.7 637.4 421.2 637.6 421.7 637.6 422.2 637.6" fill="none" stroke="#626262" stroke-width="2.3"/>
<path d="M443.0 633.6 443.5 633.7 444.0 633.9 444.5 634.2 445.0 634.5 445.5 634.9 446.0 635.3 446.5 635.7 447.0 636.2 447.5 636.6 448.0 636.9 448.5 637.2 449.0 637.4 449.5 637.5 450.0 637.6 450.5 637.6 451.0 637.4 451.5 637.2 452.0 637.0 452.5 636.6 453.0 636.2 453.5 635.8 454.0 635.4 454.5 635.0 455.0 634.6 455.5 634.3 456.0 634.0 456.5 633.8 457.0 633.6 457.5 633.6 458.0 633.6 458.5 633.8 459.0 634.0 459.6 634.3 460.1 634.6 460.6 635.0 461.1 635.4 461.6 635.8 462.1 636.2 462.6 636.6 463.1 637.0 463.6 637.2 464.1 637.4 464.6 637.6 465.1 637.6 465.6 637.5 466.1 637.4 466.6 637.2 467.1 636.9 467.6 636.5 468.1 636.2 468.6 635.7 469.1 635.3 469.6 634.9 470.1 634.5 470.6 634.2 471.1 633.9 471.6 633.7 472.1 633.6 472.6 633.6 473.1 633.7 473.6 633.8 474.1 634.0 474.6 634.3 475.1 634.7 475.6 635.1 476.1 635.5 476.6 635.9 477.1 636.3 477.6 636.7 478.1 637.0 478.6 637.3 479.1 637.5 479.6 637.6 480.1 637.6 480.6 637.5 481.1 637.4 481.6 637.1 482.1 636.8 482.6 636.5 483.1 636.1 483.6 635.6 484.1 635.2 484.6 634.8 485.1 634.5 485.6 634.1 486.1 633.9 486.6 633.7 487.1 633.6 487.6 633.6 488.1 633.7 488.6 633.9 489.1 634.1 489.6 634.4 490.1 634.8 490.6 635.2 491.1 635.6 491.7 636.0 492.2 636.4 492.7 636.8 493.2 637.1 493.7 637.3 494.2 637.5 494.7 637.6 495.2 637.6 495.7 637.5 496.2 637.3 496.7 637.1 497.2 636.8 497.7 636.4 498.2 636.0 498.7 635.6 499.2 635.1 499.7 634.7 500.2 634.4 500.7 634.1 501.2 633.8 501.7 633.7 502.2 633.6 502.7 633.6 503.2 633.7 503.7 633.9 504.2 634.2 504.7 634.5 505.2 634.9 505.7 635.3 506.2 635.7 506.7 636.1 507.2 636.5 507.7 636.9 508.2 637.1 508.7 637.4 509.2 637.5 509.7 637.6 510.2 637.6 510.7 637.5 511.2 637.3 511.7 637.0 512.2 636.7 512.7 636.3 513.2 635.9 513.7 635.5 514.2 635.1 514.7 634.7 515.2 634.3 515.7 634.0 516.2 633.8 516.7 633.7 517.2 633.6 517.7 633.6 518.2 633.8 518.7 634.0 519.2 634.2 519.7 634.6 520.2 634.9 520.7 635.4 521.2 635.8 521.7 636.2 522.2 636.6 522.7 636.9 523.2 637.2 523.8 637.4 524.3 637.6 524.8 637.6 525.3 637.6 525.8 637.4 526.3 637.2 526.8 636.9 527.3 636.6 527.8 636.2 528.3 635.8 528.8 635.4 529.3 635.0 529.8 634.6 530.3 634.2 530.8 634.0 531.3 633.8 531.8 633.6 532.3 633.6 532.8 633.7 533.3 633.8 533.8 634.0 534.3 634.3 534.8 634.6 535.3 635.0 535.8 635.4 536.3 635.9 536.8 636.3 537.3 636.7 537.8 637.0 538.3 637.3 538.8 637.5 539.3 637.6 539.8 637.6" fill="none" stroke="#626262" stroke-width="2.3"/>
<circle cx="197.8" cy="635.6" r="11.4" fill="url(#dotg)"/>
<circle cx="314.6" cy="635.6" r="11.4" fill="url(#dotg)"/>
<circle cx="432.6" cy="635.6" r="11.4" fill="url(#dotg)"/>
<circle cx="550.2" cy="635.6" r="11.4" fill="url(#dotg)"/>
<path d="M888.0 632.2 888.5 632.3 889.0 632.5 889.5 632.8 890.0 633.1 890.5 633.5 891.0 633.9 891.5 634.4 892.0 634.8 892.5 635.2 893.0 635.5 893.5 635.8 894.1 636.0 894.6 636.2 895.1 636.2 895.6 636.2 896.1 636.0 896.6 635.8 897.1 635.5 897.6 635.2 898.1 634.8 898.6 634.4 899.1 634.0 899.6 633.5 900.1 633.2 900.6 632.8 901.1 632.5 901.6 632.3 902.1 632.2 902.6 632.2 903.1 632.3 903.6 632.4 904.1 632.6 904.6 632.9 905.1 633.3 905.7 633.7 906.2 634.1 906.7 634.5 907.2 634.9 907.7 635.3 908.2 635.6 908.7 635.9 909.2 636.1 909.7 636.2 910.2 636.2 910.7 636.1 911.2 636.0 911.7 635.7 912.2 635.4 912.7 635.0 913.2 634.6 913.7 634.2 914.2 633.8 914.7 633.4 915.2 633.0 915.7 632.7 916.2 632.5 916.7 632.3 917.3 632.2 917.8 632.2 918.3 632.3 918.8 632.5 919.3 632.7 919.8 633.1 920.3 633.4 920.8 633.8 921.3 634.3 921.8 634.7 922.3 635.1 922.8 635.4" fill="none" stroke="#626262" stroke-width="2.3"/>
<path d="M943.6 632.2 944.1 632.3 944.6 632.5 945.1 632.8 945.6 633.1 946.1 633.5 946.6 633.9 947.1 634.3 947.6 634.8 948.1 635.2 948.6 635.5 949.1 635.8 949.6 636.0 950.1 636.1 950.6 636.2 951.1 636.2 951.6 636.0 952.1 635.8 952.6 635.6 953.1 635.2 953.6 634.8 954.1 634.4 954.6 634.0 955.1 633.6 955.6 633.2 956.1 632.9 956.6 632.6 957.1 632.4 957.6 632.2 958.1 632.2 958.6 632.2 959.2 632.4 959.7 632.6 960.2 632.9 960.7 633.2 961.2 633.6 961.7 634.0 962.2 634.4 962.7 634.8 963.2 635.2 963.7 635.6 964.2 635.8 964.7 636.0 965.2 636.2 965.7 636.2 966.2 636.1 966.7 636.0 967.2 635.8 967.7 635.5 968.2 635.1 968.7 634.8 969.2 634.3 969.7 633.9 970.2 633.5 970.7 633.1 971.2 632.8 971.7 632.5 972.2 632.3 972.7 632.2 973.2 632.2 973.7 632.3 974.2 632.4 974.7 632.6 975.2 632.9 975.7 633.3 976.2 633.7 976.7 634.1 977.2 634.5 977.7 634.9 978.2 635.3 978.7 635.6 979.2 635.9 979.7 636.1 980.2 636.2 980.7 636.2 981.2 636.1 981.7 636.0 982.2 635.7 982.7 635.4 983.2 635.1 983.7 634.7 984.2 634.2 984.7 633.8 985.2 633.4 985.7 633.1 986.2 632.7 986.7 632.5 987.2 632.3 987.7 632.2 988.2 632.2 988.7 632.3 989.2 632.5 989.7 632.7 990.3 633.0 990.8 633.4 991.3 633.8 991.8 634.2 992.3 634.6 992.8 635.0 993.3 635.4 993.8 635.7 994.3 635.9 994.8 636.1 995.3 636.2 995.8 636.2 996.3 636.1 996.8 635.9 997.3 635.7 997.8 635.3 998.3 635.0 998.8 634.6 999.3 634.2 999.8 633.7 1000.3 633.3 1000.8 633.0 1001.3 632.7 1001.8 632.4 1002.3 632.3 1002.8 632.2 1003.3 632.2 1003.8 632.3 1004.3 632.5 1004.8 632.8 1005.3 633.1 1005.8 633.5 1006.3 633.9 1006.8 634.3 1007.3 634.7 1007.8 635.1 1008.3 635.5 1008.8 635.8 1009.3 636.0 1009.8 636.1 1010.3 636.2 1010.8 636.2 1011.3 636.1 1011.8 635.9 1012.3 635.6 1012.8 635.3 1013.3 634.9 1013.8 634.5 1014.3 634.1 1014.8 633.6 1015.3 633.3 1015.8 632.9 1016.3 632.6 1016.8 632.4 1017.3 632.3 1017.8 632.2 1018.3 632.2 1018.8 632.4 1019.3 632.6 1019.8 632.8 1020.3 633.2 1020.8 633.6 1021.4 634.0 1021.9 634.4 1022.4 634.8 1022.9 635.2 1023.4 635.5 1023.9 635.8 1024.4 636.0 1024.9 636.2 1025.4 636.2 1025.9 636.2 1026.4 636.0 1026.9 635.8 1027.4 635.5 1027.9 635.2 1028.4 634.8 1028.9 634.4 1029.4 634.0 1029.9 633.6 1030.4 633.2 1030.9 632.8 1031.4 632.6 1031.9 632.4 1032.4 632.2 1032.9 632.2 1033.4 632.3 1033.9 632.4 1034.4 632.6 1034.9 632.9 1035.4 633.2 1035.9 633.6 1036.4 634.1 1036.9 634.5 1037.4 634.9 1037.9 635.3 1038.4 635.6 1038.9 635.9 1039.4 636.1 1039.9 636.2 1040.4 636.2 1040.9 636.1 1041.4 636.0 1041.9 635.8 1042.4 635.5 1042.9 635.1 1043.4 634.7 1043.9 634.3 1044.4 633.9 1044.9 633.5 1045.4 633.1 1045.9 632.8 1046.4 632.5 1046.9 632.3 1047.4 632.2 1047.9 632.2 1048.4 632.3 1048.9 632.4 1049.4 632.7 1049.9 633.0 1050.4 633.3 1050.9 633.7 1051.4 634.1 1051.9 634.6 1052.5 635.0 1053.0 635.3 1053.5 635.7 1054.0 635.9 1054.5 636.1 1055.0 636.2 1055.5 636.2 1056.0 636.1 1056.5 635.9 1057.0 635.7 1057.5 635.4 1058.0 635.0 1058.5 634.6 1059.0 634.2 1059.5 633.8 1060.0 633.4 1060.5 633.0 1061.0 632.7 1061.5 632.5 1062.0 632.3 1062.5 632.2 1063.0 632.2 1063.5 632.3 1064.0 632.5 1064.5 632.7 1065.0 633.0 1065.5 633.4 1066.0 633.8 1066.5 634.2 1067.0 634.7 1067.5 635.1" fill="none" stroke="#626262" stroke-width="2.3"/>
<path d="M1088.3 632.2 1088.8 632.3 1089.3 632.5 1089.8 632.8 1090.3 633.1 1090.8 633.5 1091.3 633.9 1091.8 634.3 1092.3 634.8 1092.8 635.1 1093.3 635.5 1093.8 635.8 1094.3 636.0 1094.8 636.1 1095.3 636.2 1095.8 636.2 1096.3 636.0 1096.8 635.8 1097.3 635.6 1097.8 635.2 1098.3 634.9 1098.8 634.4 1099.3 634.0 1099.8 633.6 1100.3 633.2 1100.8 632.9 1101.3 632.6 1101.8 632.4 1102.3 632.2 1102.8 632.2 1103.3 632.2 1103.8 632.4 1104.3 632.6 1104.8 632.9 1105.3 633.2 1105.8 633.6 1106.3 634.0 1106.8 634.4 1107.3 634.8 1107.8 635.2 1108.3 635.5 1108.8 635.8 1109.3 636.0 1109.8 636.2 1110.3 636.2 1110.8 636.2 1111.3 636.0 1111.8 635.8 1112.3 635.5 1112.8 635.2 1113.3 634.8 1113.8 634.4 1114.3 634.0 1114.8 633.6 1115.3 633.2 1115.8 632.8 1116.3 632.6 1116.8 632.4 1117.3 632.2 1117.8 632.2 1118.3 632.3 1118.8 632.4 1119.3 632.6 1119.8 632.9 1120.3 633.2 1120.8 633.6 1121.3 634.1 1121.8 634.5 1122.3 634.9 1122.8 635.3 1123.3 635.6 1123.8 635.9 1124.3 636.1 1124.8 636.2 1125.3 636.2 1125.8 636.1 1126.3 636.0 1126.8 635.8 1127.3 635.5 1127.8 635.1 1128.3 634.7 1128.8 634.3 1129.3 633.9 1129.8 633.5 1130.3 633.1 1130.8 632.8 1131.3 632.5 1131.8 632.3 1132.3 632.2 1132.8 632.2 1133.4 632.3 1133.9 632.4 1134.4 632.7 1134.9 633.0 1135.4 633.3 1135.9 633.7 1136.4 634.1 1136.9 634.5 1137.4 634.9 1137.9 635.3 1138.4 635.6 1138.9 635.9 1139.4 636.1 1139.9 636.2 1140.4 636.2 1140.9 636.1 1141.4 636.0 1141.9 635.7 1142.4 635.4 1142.9 635.1 1143.4 634.7 1143.9 634.3 1144.4 633.8 1144.9 633.4 1145.4 633.1 1145.9 632.7 1146.4 632.5 1146.9 632.3 1147.4 632.2 1147.9 632.2 1148.4 632.3 1148.9 632.5 1149.4 632.7 1149.9 633.0 1150.4 633.4 1150.9 633.8 1151.4 634.2 1151.9 634.6 1152.4 635.0 1152.9 635.4 1153.4 635.7 1153.9 635.9 1154.4 636.1 1154.9 636.2 1155.4 636.2 1155.9 636.1 1156.4 635.9 1156.9 635.7 1157.4 635.4 1157.9 635.0 1158.4 634.6 1158.9 634.2 1159.4 633.8 1159.9 633.4 1160.4 633.0 1160.9 632.7 1161.4 632.5 1161.9 632.3 1162.4 632.2 1162.9 632.2 1163.4 632.3 1163.9 632.5 1164.4 632.7 1164.9 633.1 1165.4 633.4 1165.9 633.8 1166.4 634.2 1166.9 634.7 1167.4 635.1 1167.9 635.4 1168.4 635.7 1168.9 636.0 1169.4 636.1 1169.9 636.2 1170.4 636.2 1170.9 636.1 1171.4 635.9 1171.9 635.6 1172.4 635.3 1172.9 634.9 1173.4 634.5 1173.9 634.1 1174.4 633.7 1174.9 633.3 1175.4 633.0 1175.9 632.7 1176.4 632.4 1176.9 632.3 1177.4 632.2 1177.9 632.2 1178.4 632.3 1178.9 632.5 1179.4 632.8 1179.9 633.1 1180.4 633.5 1180.9 633.9 1181.4 634.3 1181.9 634.7 1182.4 635.1 1182.9 635.5 1183.4 635.8 1183.9 636.0 1184.4 636.1 1184.9 636.2 1185.4 636.2 1185.9 636.1 1186.4 635.9 1186.9 635.6 1187.4 635.3 1187.9 634.9 1188.4 634.5 1188.9 634.1 1189.4 633.6 1189.9 633.3 1190.4 632.9 1190.9 632.6 1191.4 632.4 1191.9 632.3 1192.4 632.2 1192.9 632.2 1193.4 632.4 1193.9 632.6 1194.4 632.8 1194.9 633.2 1195.4 633.5 1195.9 634.0 1196.4 634.4 1196.9 634.8 1197.4 635.2 1197.9 635.5 1198.4 635.8 1198.9 636.0 1199.4 636.2 1199.9 636.2 1200.4 636.2 1200.9 636.0 1201.4 635.8 1201.9 635.5 1202.4 635.2 1202.9 634.8 1203.4 634.4 1203.9 634.0 1204.4 633.6 1204.9 633.2 1205.4 632.9 1205.9 632.6 1206.4 632.4 1206.9 632.2 1207.4 632.2 1207.9 632.2 1208.4 632.4 1208.9 632.6 1209.4 632.9 1209.9 633.2 1210.4 633.6 1210.9 634.0 1211.4 634.4 1211.9 634.8 1212.4 635.2 1212.9 635.6 1213.4 635.8 1213.9 636.0 1214.4 636.2 1214.9 636.2 1215.4 636.1 1215.9 636.0 1216.4 635.8 1216.9 635.5 1217.4 635.2 1217.9 634.8 1218.4 634.4 1218.9 633.9 1219.4 633.5 1219.9 633.1 1220.4 632.8 1220.9 632.5 1221.4 632.3 1221.9 632.2 1222.4 632.2 1222.9 632.3 1223.5 632.4 1224.0 632.6 1224.5 632.9 1225.0 633.3 1225.5 633.7 1226.0 634.1 1226.5 634.5 1227.0 634.9 1227.5 635.3 1228.0 635.6 1228.5 635.9 1229.0 636.1 1229.5 636.2 1230.0 636.2 1230.5 636.1 1231.0 636.0 1231.5 635.7 1232.0 635.5 1232.5 635.1 1233.0 634.7 1233.5 634.3 1234.0 633.9 1234.5 633.5 1235.0 633.1 1235.5 632.8 1236.0 632.5 1236.5 632.3 1237.0 632.2 1237.5 632.2 1238.0 632.3 1238.5 632.4 1239.0 632.7 1239.5 633.0 1240.0 633.3 1240.5 633.7 1241.0 634.1 1241.5 634.6 1242.0 635.0 1242.5 635.3 1243.0 635.7 1243.5 635.9 1244.0 636.1 1244.5 636.2 1245.0 636.2 1245.5 636.1 1246.0 635.9 1246.5 635.7 1247.0 635.4 1247.5 635.0 1248.0 634.6 1248.5 634.2 1249.0 633.8 1249.5 633.4 1250.0 633.0 1250.5 632.7 1251.0 632.5 1251.5 632.3 1252.0 632.2 1252.5 632.2 1253.0 632.3 1253.5 632.5 1254.0 632.7 1254.5 633.0 1255.0 633.4 1255.5 633.8 1256.0 634.2 1256.5 634.6 1257.0 635.0 1257.5 635.4 1258.0 635.7 1258.5 635.9 1259.0 636.1 1259.5 636.2 1260.0 636.2 1260.5 636.1 1261.0 635.9 1261.5 635.7 1262.0 635.3 1262.5 635.0 1263.0 634.6 1263.5 634.2 1264.0 633.7 1264.5 633.3 1265.0 633.0 1265.5 632.7 1266.0 632.4 1266.5 632.3 1267.0 632.2 1267.5 632.2 1268.0 632.3 1268.5 632.5" fill="none" stroke="#626262" stroke-width="2.3"/>
<circle cx="877.6" cy="634.2" r="11.4" fill="url(#dotg)"/>
<circle cx="933.2" cy="634.2" r="11.4" fill="url(#dotg)"/>
<circle cx="1077.9" cy="634.2" r="11.4" fill="url(#dotg)"/>
<circle cx="1278.9" cy="634.2" r="11.4" fill="url(#dotg)"/>
<path d="M1561.3 631.9 1561.8 632.0 1562.3 632.2 1562.8 632.5 1563.3 632.8 1563.8 633.2 1564.3 633.6 1564.8 634.1 1565.3 634.5 1565.8 634.9 1566.3 635.2 1566.8 635.5 1567.3 635.7 1567.8 635.9 1568.4 635.9 1568.9 635.9 1569.4 635.7 1569.9 635.5 1570.4 635.2 1570.9 634.9 1571.4 634.5 1571.9 634.1 1572.4 633.7 1572.9 633.3 1573.4 632.9 1573.9 632.5 1574.4 632.3 1574.9 632.1 1575.4 631.9 1575.9 631.9 1576.4 632.0 1576.9 632.1 1577.4 632.3 1577.9 632.6 1578.4 633.0 1578.9 633.4 1579.4 633.8 1579.9 634.2 1580.4 634.6 1580.9 635.0 1581.4 635.3 1581.9 635.6 1582.5 635.8 1583.0 635.9 1583.5 635.9 1584.0 635.8 1584.5 635.7 1585.0 635.4 1585.5 635.1 1586.0 634.8 1586.5 634.4 1587.0 634.0 1587.5 633.5 1588.0 633.1 1588.5 632.8 1589.0 632.4 1589.5 632.2 1590.0 632.0 1590.5 631.9 1591.0 631.9 1591.5 632.0 1592.0 632.2 1592.5 632.4 1593.0 632.7 1593.5 633.1 1594.0 633.5 1594.5 633.9 1595.0 634.3 1595.5 634.7 1596.0 635.1 1596.6 635.4 1597.1 635.7 1597.6 635.8 1598.1 635.9 1598.6 635.9 1599.1 635.8 1599.6 635.6 1600.1 635.3 1600.6 635.0 1601.1 634.6 1601.6 634.2 1602.1 633.8 1602.6 633.4 1603.1 633.0" fill="none" stroke="#626262" stroke-width="2.3"/>
<path d="M1623.9 631.9 1624.4 632.0 1624.9 632.2 1625.4 632.5 1625.9 632.8 1626.4 633.2 1626.9 633.6 1627.4 634.0 1627.9 634.5 1628.4 634.8 1628.9 635.2 1629.4 635.5 1629.9 635.7 1630.4 635.8 1630.9 635.9 1631.4 635.9 1631.9 635.7 1632.4 635.5 1632.9 635.3 1633.4 634.9 1633.9 634.6 1634.4 634.1 1634.9 633.7 1635.4 633.3 1635.9 632.9 1636.4 632.6 1636.9 632.3 1637.4 632.1 1637.9 631.9 1638.4 631.9 1638.9 631.9 1639.4 632.1 1639.9 632.3 1640.4 632.6 1640.9 632.9 1641.4 633.3 1641.9 633.7 1642.4 634.1 1642.9 634.5 1643.4 634.9 1643.9 635.2 1644.4 635.5 1644.9 635.7 1645.4 635.9 1645.9 635.9 1646.4 635.9 1646.9 635.7 1647.4 635.5 1647.9 635.2 1648.4 634.9 1648.9 634.5 1649.4 634.1 1649.9 633.7 1650.4 633.3 1650.9 632.9 1651.4 632.5 1651.9 632.3 1652.4 632.1 1652.9 631.9 1653.4 631.9 1653.9 632.0 1654.4 632.1 1654.9 632.3 1655.4 632.6 1655.9 632.9 1656.4 633.3 1656.9 633.7 1657.4 634.2 1657.9 634.6 1658.4 635.0 1658.9 635.3 1659.4 635.6 1659.9 635.8 1660.4 635.9 1660.9 635.9 1661.4 635.8 1661.9 635.7 1662.4 635.5 1662.9 635.2 1663.4 634.8 1663.9 634.4 1664.4 634.0 1664.9 633.6 1665.4 633.2 1665.9 632.8 1666.4 632.5 1666.9 632.2 1667.4 632.0 1667.9 631.9 1668.4 631.9 1668.9 632.0 1669.4 632.1 1669.9 632.3 1670.4 632.6 1670.9 633.0 1671.4 633.4 1671.9 633.8 1672.4 634.2 1672.9 634.6 1673.4 635.0 1673.9 635.3 1674.4 635.6 1674.9 635.8 1675.4 635.9 1675.9 635.9 1676.4 635.8 1676.9 635.7 1677.4 635.4 1677.9 635.1 1678.4 634.8 1678.9 634.4 1679.4 634.0 1679.9 633.5 1680.4 633.1 1680.9 632.8 1681.4 632.5 1681.9 632.2 1682.5 632.0 1683.0 631.9 1683.5 631.9 1684.0 632.0 1684.5 632.1 1685.0 632.4 1685.5 632.7 1686.0 633.1 1686.5 633.4 1687.0 633.9 1687.5 634.3 1688.0 634.7 1688.5 635.1 1689.0 635.4 1689.5 635.6 1690.0 635.8 1690.5 635.9 1691.0 635.9 1691.5 635.8 1692.0 635.6 1692.5 635.4 1693.0 635.1 1693.5 634.7 1694.0 634.3 1694.5 633.9 1695.0 633.5 1695.5 633.1 1696.0 632.7 1696.5 632.4 1697.0 632.2 1697.5 632.0 1698.0 631.9 1698.5 631.9 1699.0 632.0 1699.5 632.2 1700.0 632.4 1700.5 632.7 1701.0 633.1 1701.5 633.5 1702.0 633.9 1702.5 634.3 1703.0 634.7 1703.5 635.1 1704.0 635.4 1704.5 635.7 1705.0 635.8 1705.5 635.9 1706.0 635.9 1706.5 635.8 1707.0 635.6 1707.5 635.4 1708.0 635.0 1708.5 634.7 1709.0 634.3 1709.5 633.8 1710.0 633.4 1710.5 633.0 1711.0 632.7 1711.5 632.4 1712.0 632.1 1712.5 632.0 1713.0 631.9 1713.5 631.9 1714.0 632.0 1714.5 632.2 1715.0 632.5 1715.5 632.8 1716.0 633.2 1716.5 633.6 1717.0 634.0 1717.5 634.4 1718.0 634.8 1718.5 635.2 1719.0 635.4 1719.5 635.7 1720.0 635.8 1720.5 635.9 1721.0 635.9 1721.5 635.8 1722.0 635.6 1722.5 635.3 1723.0 635.0 1723.5 634.6 1724.0 634.2 1724.5 633.8 1725.0 633.4 1725.5 633.0 1726.0 632.6 1726.5 632.3 1727.0 632.1 1727.5 632.0 1728.0 631.9 1728.5 631.9 1729.0 632.0 1729.5 632.2 1730.0 632.5 1730.5 632.8 1731.0 633.2 1731.5 633.6 1732.0 634.0 1732.5 634.5 1733.0 634.9 1733.5 635.2 1734.0 635.5 1734.5 635.7 1735.0 635.8 1735.5 635.9 1736.0 635.9 1736.5 635.7 1737.0 635.5 1737.5 635.3 1738.0 634.9 1738.5 634.5 1739.0 634.1 1739.5 633.7 1740.0 633.3 1740.5 632.9" fill="none" stroke="#626262" stroke-width="2.3"/>
<path d="M1761.3 631.9 1761.8 632.0 1762.3 632.2 1762.8 632.5 1763.3 632.8 1763.8 633.2 1764.3 633.6 1764.8 634.0 1765.3 634.5 1765.8 634.8 1766.3 635.2 1766.8 635.5 1767.3 635.7 1767.8 635.8 1768.3 635.9 1768.8 635.9 1769.3 635.7 1769.8 635.5 1770.3 635.3 1770.8 634.9 1771.3 634.6 1771.8 634.1 1772.3 633.7 1772.8 633.3 1773.3 632.9 1773.8 632.6 1774.3 632.3 1774.8 632.1 1775.3 631.9 1775.8 631.9 1776.3 631.9 1776.8 632.1 1777.3 632.3 1777.8 632.6 1778.3 632.9 1778.8 633.3 1779.3 633.7 1779.8 634.1 1780.3 634.5 1780.8 634.9 1781.3 635.2 1781.8 635.5 1782.3 635.7 1782.8 635.9 1783.3 635.9 1783.8 635.9 1784.3 635.7 1784.8 635.5 1785.3 635.2 1785.8 634.9 1786.3 634.5 1786.8 634.1 1787.3 633.7 1787.8 633.3 1788.3 632.9 1788.8 632.5 1789.3 632.3 1789.8 632.1 1790.3 631.9 1790.8 631.9 1791.3 632.0 1791.8 632.1 1792.3 632.3 1792.8 632.6 1793.3 632.9 1793.8 633.3 1794.3 633.7 1794.8 634.2 1795.3 634.6 1795.8 635.0 1796.3 635.3 1796.8 635.6 1797.3 635.8 1797.8 635.9 1798.3 635.9 1798.8 635.8 1799.3 635.7 1799.8 635.5 1800.3 635.2 1800.8 634.8 1801.3 634.4 1801.8 634.0 1802.3 633.6 1802.8 633.2 1803.3 632.8 1803.8 632.5 1804.3 632.2 1804.8 632.0 1805.3 631.9 1805.8 631.9 1806.3 632.0 1806.8 632.1 1807.3 632.3 1807.8 632.6 1808.3 633.0 1808.8 633.4 1809.3 633.8 1809.8 634.2 1810.3 634.6 1810.8 635.0 1811.3 635.3 1811.8 635.6 1812.3 635.8 1812.8 635.9 1813.3 635.9 1813.8 635.8 1814.3 635.7 1814.8 635.4 1815.3 635.1 1815.8 634.8 1816.3 634.4 1816.8 634.0 1817.3 633.5 1817.8 633.1 1818.3 632.8 1818.8 632.5 1819.3 632.2 1819.8 632.0 1820.4 631.9 1820.9 631.9 1821.4 632.0 1821.9 632.1 1822.4 632.4 1822.9 632.7 1823.4 633.1 1823.9 633.4 1824.4 633.9 1824.9 634.3 1825.4 634.7 1825.9 635.1 1826.4 635.4 1826.9 635.6 1827.4 635.8 1827.9 635.9 1828.4 635.9 1828.9 635.8 1829.4 635.6 1829.9 635.4 1830.4 635.1 1830.9 634.7 1831.4 634.3 1831.9 633.9 1832.4 633.5 1832.9 633.1 1833.4 632.7 1833.9 632.4 1834.4 632.2 1834.9 632.0 1835.4 631.9 1835.9 631.9 1836.4 632.0 1836.9 632.2 1837.4 632.4 1837.9 632.7 1838.4 633.1 1838.9 633.5 1839.4 633.9 1839.9 634.3 1840.4 634.7 1840.9 635.1 1841.4 635.4 1841.9 635.6 1842.4 635.8 1842.9 635.9 1843.4 635.9 1843.9 635.8 1844.4 635.6 1844.9 635.4 1845.4 635.0 1845.9 634.7 1846.4 634.3 1846.9 633.8 1847.4 633.4 1847.9 633.0 1848.4 632.7 1848.9 632.4 1849.4 632.1 1849.9 632.0 1850.4 631.9 1850.9 631.9 1851.4 632.0 1851.9 632.2 1852.4 632.5 1852.9 632.8 1853.4 633.2 1853.9 633.6 1854.4 634.0 1854.9 634.4 1855.4 634.8 1855.9 635.1 1856.4 635.4 1856.9 635.7 1857.4 635.8 1857.9 635.9 1858.4 635.9 1858.9 635.8 1859.4 635.6 1859.9 635.3 1860.4 635.0 1860.9 634.6 1861.4 634.2 1861.9 633.8 1862.4 633.4 1862.9 633.0 1863.4 632.6 1863.9 632.3 1864.4 632.1 1864.9 632.0 1865.4 631.9 1865.9 631.9 1866.4 632.0 1866.9 632.2 1867.4 632.5 1867.9 632.8 1868.4 633.2 1868.9 633.6 1869.4 634.0 1869.9 634.5 1870.4 634.9 1870.9 635.2 1871.4 635.5 1871.9 635.7 1872.4 635.8 1872.9 635.9 1873.4 635.9 1873.9 635.7 1874.4 635.5 1874.9 635.3 1875.4 634.9 1875.9 634.6 1876.4 634.1 1876.9 633.7 1877.4 633.3 1877.9 632.9 1878.4 632.6 1878.9 632.3 1879.4 632.1 1879.9 631.9 1880.4 631.9 1880.9 631.9 1881.4 632.1 1881.9 632.3 1882.4 632.6 1882.9 632.9 1883.4 633.3 1883.9 633.7 1884.4 634.1 1884.9 634.5 1885.4 634.9 1885.9 635.2 1886.4 635.5 1886.9 635.7 1887.4 635.9 1887.9 635.9 1888.4 635.9 1888.9 635.7 1889.4 635.5 1889.9 635.2 1890.4 634.9 1890.9 634.5 1891.4 634.1 1891.9 633.7 1892.4 633.3 1892.9 632.9 1893.4 632.5 1893.9 632.3 1894.4 632.1 1894.9 631.9 1895.4 631.9 1895.9 632.0 1896.4 632.1 1896.9 632.3 1897.4 632.6 1897.9 632.9 1898.4 633.3 1898.9 633.8 1899.4 634.2 1899.9 634.6 1900.4 635.0 1900.9 635.3 1901.4 635.6 1901.9 635.8 1902.4 635.9 1902.9 635.9 1903.4 635.8 1903.9 635.7 1904.4 635.5 1904.9 635.2 1905.4 634.8 1905.9 634.4 1906.4 634.0 1906.9 633.6 1907.4 633.2 1907.9 632.8 1908.4 632.5 1908.9 632.2 1909.4 632.0 1909.9 631.9 1910.4 631.9 1910.9 632.0 1911.4 632.1 1911.9 632.4 1912.4 632.6 1912.9 633.0 1913.4 633.4 1913.9 633.8 1914.4 634.2 1914.9 634.6 1915.4 635.0 1915.9 635.3 1916.4 635.6 1916.9 635.8 1917.4 635.9 1917.9 635.9 1918.4 635.8 1918.9 635.7 1919.4 635.4 1919.9 635.1 1920.4 634.8 1920.9 634.4 1921.4 634.0 1921.9 633.5 1922.4 633.1 1922.9 632.8 1923.4 632.4 1923.9 632.2 1924.4 632.0 1924.9 631.9 1925.4 631.9 1925.9 632.0 1926.4 632.1 1926.9 632.4 1927.4 632.7 1927.9 633.1 1928.4 633.5 1928.9 633.9 1929.4 634.3 1929.9 634.7 1930.4 635.1 1930.9 635.4 1931.4 635.6 1931.9 635.8 1932.4 635.9 1932.9 635.9 1933.4 635.8 1933.9 635.6 1934.4 635.4 1934.9 635.1 1935.4 634.7 1935.9 634.3 1936.4 633.9 1936.9 633.5 1937.4 633.1 1937.9 632.7 1938.5 632.4 1939.0 632.2 1939.5 632.0 1940.0 631.9 1940.5 631.9 1941.0 632.0 1941.5 632.2 1942.0 632.4 1942.5 632.7 1943.0 633.1 1943.5 633.5 1944.0 633.9 1944.5 634.4 1945.0 634.7 1945.5 635.1 1946.0 635.4 1946.5 635.7 1947.0 635.8 1947.5 635.9 1948.0 635.9 1948.5 635.8 1949.0 635.6 1949.5 635.3 1950.0 635.0 1950.5 634.7 1951.0 634.3 1951.5 633.8 1952.0 633.4 1952.5 633.0 1953.0 632.7 1953.5 632.4 1954.0 632.1 1954.5 632.0 1955.0 631.9 1955.5 631.9 1956.0 632.0 1956.5 632.2 1957.0 632.5 1957.5 632.8 1958.0 633.2 1958.5 633.6 1959.0 634.0 1959.5 634.4 1960.0 634.8 1960.5 635.2 1961.0 635.5 1961.5 635.7 1962.0 635.8 1962.5 635.9 1963.0 635.9 1963.5 635.8 1964.0 635.6 1964.5 635.3 1965.0 635.0 1965.5 634.6 1966.0 634.2 1966.5 633.8 1967.0 633.4 1967.5 633.0 1968.0 632.6 1968.5 632.3 1969.0 632.1 1969.5 632.0 1970.0 631.9 1970.5 631.9 1971.0 632.0 1971.5 632.2 1972.0 632.5 1972.5 632.8 1973.0 633.2 1973.5 633.6 1974.0 634.1 1974.5 634.5 1975.0 634.9 1975.5 635.2 1976.0 635.5 1976.5 635.7 1977.0 635.8 1977.5 635.9 1978.0 635.9 1978.5 635.7 1979.0 635.5 1979.5 635.3 1980.0 634.9 1980.5 634.5 1981.0 634.1 1981.5 633.7 1982.0 633.3 1982.5 632.9 1983.0 632.6 1983.5 632.3 1984.0 632.1 1984.5 631.9 1985.0 631.9 1985.5 631.9 1986.0 632.1 1986.5 632.3 1987.0 632.6 1987.5 632.9 1988.0 633.3 1988.5 633.7 1989.0 634.1 1989.5 634.5 1990.0 634.9 1990.5 635.2 1991.0 635.5 1991.5 635.7 1992.0 635.9 1992.5 635.9 1993.0 635.9 1993.5 635.7 1994.0 635.5 1994.5 635.2 1995.0 634.9 1995.5 634.5 1996.0 634.1 1996.5 633.7 1997.0 633.2" fill="none" stroke="#626262" stroke-width="2.3"/>
<circle cx="1550.9" cy="633.9" r="11.4" fill="url(#dotg)"/>
<circle cx="1613.5" cy="633.9" r="11.4" fill="url(#dotg)"/>
<circle cx="1750.9" cy="633.9" r="11.4" fill="url(#dotg)"/>
<circle cx="2007.4" cy="633.9" r="11.4" fill="url(#dotg)"/>
<line x1="214" y1="692.9" x2="297.7" y2="692.9" stroke="#000" stroke-width="3.7"/>
<path d="M203.5 692.9 L219.5 685 L215 692.9 L219.5 700.8 Z" fill="#000"/>
<path d="M308.2 692.9 L292.2 685 L296.7 692.9 L292.2 700.8 Z" fill="#000"/>
<line x1="332.2" y1="692.9" x2="415.5" y2="692.9" stroke="#000" stroke-width="3.7"/>
<path d="M321.7 692.9 L337.7 685 L333.2 692.9 L337.7 700.8 Z" fill="#000"/>
<path d="M426 692.9 L410 685 L414.5 692.9 L410 700.8 Z" fill="#000"/>
<line x1="450.2" y1="692.9" x2="533.8" y2="692.9" stroke="#000" stroke-width="3.7"/>
<path d="M439.7 692.9 L455.7 685 L451.2 692.9 L455.7 700.8 Z" fill="#000"/>
<path d="M544.3 692.9 L528.3 685 L532.8 692.9 L528.3 700.8 Z" fill="#000"/>
<line x1="893.4" y1="693.3" x2="918.6" y2="693.3" stroke="#000" stroke-width="3.7"/>
<path d="M882.9 693.3 L898.9 685.4 L894.4 693.3 L898.9 701.2 Z" fill="#000"/>
<path d="M929.1 693.3 L913.1 685.4 L917.6 693.3 L913.1 701.2 Z" fill="#000"/>
<line x1="949" y1="693.3" x2="1061.6" y2="693.3" stroke="#000" stroke-width="3.7"/>
<path d="M938.5 693.3 L954.5 685.4 L950 693.3 L954.5 701.2 Z" fill="#000"/>
<path d="M1072.1 693.3 L1056.1 685.4 L1060.6 693.3 L1056.1 701.2 Z" fill="#000"/>
<line x1="1099.3" y1="693.3" x2="1271.1" y2="693.3" stroke="#000" stroke-width="3.7"/>
<path d="M1088.8 693.3 L1104.8 685.4 L1100.3 693.3 L1104.8 701.2 Z" fill="#000"/>
<path d="M1281.6 693.3 L1265.6 685.4 L1270.1 693.3 L1265.6 701.2 Z" fill="#000"/>
<line x1="1563.8" y1="694.3" x2="1597.5" y2="694.3" stroke="#000" stroke-width="3.7"/>
<path d="M1553.3 694.3 L1569.3 686.4 L1564.8 694.3 L1569.3 702.2 Z" fill="#000"/>
<path d="M1608 694.3 L1592 686.4 L1596.5 694.3 L1592 702.2 Z" fill="#000"/>
<line x1="1628.1" y1="694.3" x2="1735.6" y2="694.3" stroke="#000" stroke-width="3.7"/>
<path d="M1617.6 694.3 L1633.6 686.4 L1629.1 694.3 L1633.6 702.2 Z" fill="#000"/>
<path d="M1746.1 694.3 L1730.1 686.4 L1734.6 694.3 L1730.1 702.2 Z" fill="#000"/>
<line x1="1768.3" y1="694.3" x2="1991.6" y2="694.3" stroke="#000" stroke-width="3.7"/>
<path d="M1757.8 694.3 L1773.8 686.4 L1769.3 694.3 L1773.8 702.2 Z" fill="#000"/>
<path d="M2002.1 694.3 L1986.1 686.4 L1990.6 694.3 L1986.1 702.2 Z" fill="#000"/>
<text x="179" y="673.8" font-size="37.5" text-anchor="start" textLength="119.8" lengthAdjust="spacingAndGlyphs">19.15 ps</text>
<text x="307.6" y="673.8" font-size="37.5" text-anchor="start" textLength="119.8" lengthAdjust="spacingAndGlyphs">19.15 ps</text>
<text x="435.5" y="673.8" font-size="37.5" text-anchor="start" textLength="119.8" lengthAdjust="spacingAndGlyphs">19.15 ps</text>
<text x="824.2" y="675" font-size="37.5" text-anchor="start" textLength="104.9" lengthAdjust="spacingAndGlyphs">9.02 ps</text>
<text x="951.7" y="675" font-size="37.5" text-anchor="start" textLength="124.7" lengthAdjust="spacingAndGlyphs">22.71 ps</text>
<text x="1130.5" y="675" font-size="37.5" text-anchor="start" textLength="123.7" lengthAdjust="spacingAndGlyphs">32.17 ps</text>
<text x="1515.2" y="674.6" font-size="37.5" text-anchor="start" textLength="121.3" lengthAdjust="spacingAndGlyphs">10.36 ps</text>
<text x="1653.4" y="674.6" font-size="37.5" text-anchor="start" textLength="123.3" lengthAdjust="spacingAndGlyphs">22.29 ps</text>
<text x="1835.8" y="674.6" font-size="37.5" text-anchor="start" textLength="123.7" lengthAdjust="spacingAndGlyphs">42.02 ps</text>
<text x="26.6" y="43.3" font-size="48" text-anchor="start">(a)</text>
<text x="720.6" y="43.1" font-size="48" text-anchor="start">(c)</text>
<text x="1405.6" y="43.3" font-size="48" text-anchor="start">(e)</text>
<text x="26.6" y="600.5" font-size="48" text-anchor="start">(b)</text>
<text x="719.8" y="600.5" font-size="48" text-anchor="start">(d)</text>
<text x="1429.2" y="600.5" font-size="48" text-anchor="start">(f)</text>
<rect x="2045.7" y="0" width="2.3" height="1093" fill="#000"/></svg></body></html>
